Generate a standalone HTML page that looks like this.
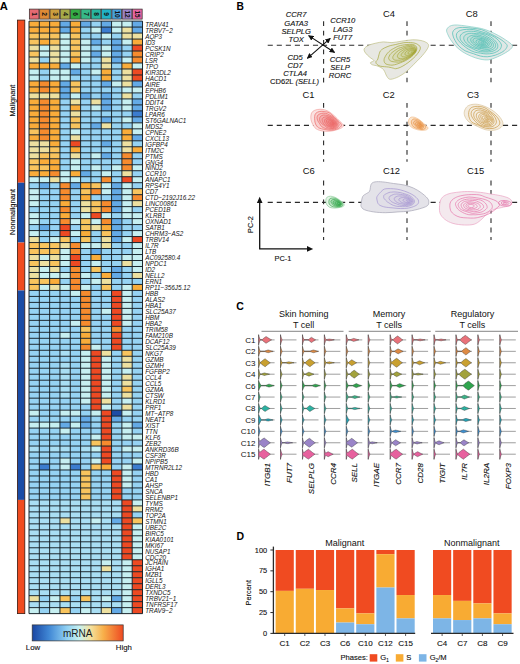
<!DOCTYPE html>
<html><head><meta charset="utf-8"><style>
html,body{margin:0;padding:0;background:#fff;}
svg{display:block;font-family:"Liberation Sans", sans-serif;}
text{stroke:#111;stroke-width:0.12px;}
</style></head><body>
<svg width="520" height="664" viewBox="0 0 520 664">
<rect width="520" height="664" fill="#fff"/>
<text transform="translate(-0.30,9.70)" font-size="11.2" font-weight="bold" text-anchor="start" fill="#000" style="stroke:none">A</text>
<rect x="29.35" y="9.1" width="9.62" height="10.0" fill="#e66a72" stroke="#3a3030" stroke-width="0.75"/>
<text transform="translate(31.96,14.10) rotate(90)" font-size="6.6" font-weight="bold" text-anchor="middle" fill="#111" style="stroke:none">1</text>
<rect x="39.67" y="9.1" width="9.62" height="10.0" fill="#df8a35" stroke="#3a3030" stroke-width="0.75"/>
<text transform="translate(42.28,14.10) rotate(90)" font-size="6.6" font-weight="bold" text-anchor="middle" fill="#111" style="stroke:none">2</text>
<rect x="49.99" y="9.1" width="9.62" height="10.0" fill="#cc9f3e" stroke="#3a3030" stroke-width="0.75"/>
<text transform="translate(52.60,14.10) rotate(90)" font-size="6.6" font-weight="bold" text-anchor="middle" fill="#111" style="stroke:none">3</text>
<rect x="60.31" y="9.1" width="9.62" height="10.0" fill="#a6aa48" stroke="#3a3030" stroke-width="0.75"/>
<text transform="translate(62.92,14.10) rotate(90)" font-size="6.6" font-weight="bold" text-anchor="middle" fill="#111" style="stroke:none">4</text>
<rect x="70.63" y="9.1" width="9.62" height="10.0" fill="#34ad45" stroke="#3a3030" stroke-width="0.75"/>
<text transform="translate(73.24,14.10) rotate(90)" font-size="6.6" font-weight="bold" text-anchor="middle" fill="#111" style="stroke:none">6</text>
<rect x="80.95" y="9.1" width="9.62" height="10.0" fill="#36b988" stroke="#3a3030" stroke-width="0.75"/>
<text transform="translate(83.56,14.10) rotate(90)" font-size="6.6" font-weight="bold" text-anchor="middle" fill="#111" style="stroke:none">7</text>
<rect x="91.27" y="9.1" width="9.62" height="10.0" fill="#27b5a0" stroke="#3a3030" stroke-width="0.75"/>
<text transform="translate(93.88,14.10) rotate(90)" font-size="6.6" font-weight="bold" text-anchor="middle" fill="#111" style="stroke:none">8</text>
<rect x="101.59" y="9.1" width="9.62" height="10.0" fill="#20b3c6" stroke="#3a3030" stroke-width="0.75"/>
<text transform="translate(104.20,14.10) rotate(90)" font-size="6.6" font-weight="bold" text-anchor="middle" fill="#111" style="stroke:none">9</text>
<rect x="111.91" y="9.1" width="9.62" height="10.0" fill="#46a0dc" stroke="#3a3030" stroke-width="0.75"/>
<text transform="translate(114.52,14.10) rotate(90)" font-size="6.6" font-weight="bold" text-anchor="middle" fill="#111" style="stroke:none">10</text>
<rect x="122.23" y="9.1" width="9.62" height="10.0" fill="#9a82c6" stroke="#3a3030" stroke-width="0.75"/>
<text transform="translate(124.84,14.10) rotate(90)" font-size="6.6" font-weight="bold" text-anchor="middle" fill="#111" style="stroke:none">12</text>
<rect x="132.55" y="9.1" width="9.62" height="10.0" fill="#e664a2" stroke="#3a3030" stroke-width="0.75"/>
<text transform="translate(135.16,14.10) rotate(90)" font-size="6.6" font-weight="bold" text-anchor="middle" fill="#111" style="stroke:none">15</text>
<rect x="29.00" y="21.10" width="10.32" height="5.985" fill="#f9ac3a"/>
<rect x="39.32" y="21.10" width="10.32" height="5.985" fill="#f9ac3a"/>
<rect x="49.64" y="21.10" width="10.32" height="5.985" fill="#f9ac3a"/>
<rect x="59.96" y="21.10" width="10.32" height="5.985" fill="#64aae6"/>
<rect x="70.28" y="21.10" width="10.32" height="5.985" fill="#f9ac3a"/>
<rect x="80.60" y="21.10" width="10.32" height="5.985" fill="#64aae6"/>
<rect x="90.92" y="21.10" width="10.32" height="5.985" fill="#96d3f3"/>
<rect x="101.24" y="21.10" width="10.32" height="5.985" fill="#64aae6"/>
<rect x="111.56" y="21.10" width="10.32" height="5.985" fill="#c6eff1"/>
<rect x="121.88" y="21.10" width="10.32" height="5.985" fill="#c6eff1"/>
<rect x="132.20" y="21.10" width="10.32" height="5.985" fill="#64aae6"/>
<rect x="29.00" y="27.09" width="10.32" height="5.985" fill="#f9ac3a"/>
<rect x="39.32" y="27.09" width="10.32" height="5.985" fill="#f9ac3a"/>
<rect x="49.64" y="27.09" width="10.32" height="5.985" fill="#f9ac3a"/>
<rect x="59.96" y="27.09" width="10.32" height="5.985" fill="#64aae6"/>
<rect x="70.28" y="27.09" width="10.32" height="5.985" fill="#f9ac3a"/>
<rect x="80.60" y="27.09" width="10.32" height="5.985" fill="#96d3f3"/>
<rect x="90.92" y="27.09" width="10.32" height="5.985" fill="#c6eff1"/>
<rect x="101.24" y="27.09" width="10.32" height="5.985" fill="#3b7ccf"/>
<rect x="111.56" y="27.09" width="10.32" height="5.985" fill="#c6eff1"/>
<rect x="121.88" y="27.09" width="10.32" height="5.985" fill="#ede0a0"/>
<rect x="132.20" y="27.09" width="10.32" height="5.985" fill="#64aae6"/>
<rect x="29.00" y="33.07" width="10.32" height="5.985" fill="#f8c45e"/>
<rect x="39.32" y="33.07" width="10.32" height="5.985" fill="#f8c45e"/>
<rect x="49.64" y="33.07" width="10.32" height="5.985" fill="#f8c45e"/>
<rect x="59.96" y="33.07" width="10.32" height="5.985" fill="#c6eff1"/>
<rect x="70.28" y="33.07" width="10.32" height="5.985" fill="#f8c45e"/>
<rect x="80.60" y="33.07" width="10.32" height="5.985" fill="#96d3f3"/>
<rect x="90.92" y="33.07" width="10.32" height="5.985" fill="#96d3f3"/>
<rect x="101.24" y="33.07" width="10.32" height="5.985" fill="#c6eff1"/>
<rect x="111.56" y="33.07" width="10.32" height="5.985" fill="#96d3f3"/>
<rect x="121.88" y="33.07" width="10.32" height="5.985" fill="#ede0a0"/>
<rect x="132.20" y="33.07" width="10.32" height="5.985" fill="#ede0a0"/>
<rect x="29.00" y="39.06" width="10.32" height="5.985" fill="#f8c45e"/>
<rect x="39.32" y="39.06" width="10.32" height="5.985" fill="#f9ac3a"/>
<rect x="49.64" y="39.06" width="10.32" height="5.985" fill="#f8c45e"/>
<rect x="59.96" y="39.06" width="10.32" height="5.985" fill="#c6eff1"/>
<rect x="70.28" y="39.06" width="10.32" height="5.985" fill="#f8c45e"/>
<rect x="80.60" y="39.06" width="10.32" height="5.985" fill="#c6eff1"/>
<rect x="90.92" y="39.06" width="10.32" height="5.985" fill="#64aae6"/>
<rect x="101.24" y="39.06" width="10.32" height="5.985" fill="#96d3f3"/>
<rect x="111.56" y="39.06" width="10.32" height="5.985" fill="#64aae6"/>
<rect x="121.88" y="39.06" width="10.32" height="5.985" fill="#c6eff1"/>
<rect x="132.20" y="39.06" width="10.32" height="5.985" fill="#f9ac3a"/>
<rect x="29.00" y="45.04" width="10.32" height="5.985" fill="#ede0a0"/>
<rect x="39.32" y="45.04" width="10.32" height="5.985" fill="#c6eff1"/>
<rect x="49.64" y="45.04" width="10.32" height="5.985" fill="#ede0a0"/>
<rect x="59.96" y="45.04" width="10.32" height="5.985" fill="#c6eff1"/>
<rect x="70.28" y="45.04" width="10.32" height="5.985" fill="#f8c45e"/>
<rect x="80.60" y="45.04" width="10.32" height="5.985" fill="#c6eff1"/>
<rect x="90.92" y="45.04" width="10.32" height="5.985" fill="#96d3f3"/>
<rect x="101.24" y="45.04" width="10.32" height="5.985" fill="#c6eff1"/>
<rect x="111.56" y="45.04" width="10.32" height="5.985" fill="#64aae6"/>
<rect x="121.88" y="45.04" width="10.32" height="5.985" fill="#96d3f3"/>
<rect x="132.20" y="45.04" width="10.32" height="5.985" fill="#ed4a23"/>
<rect x="29.00" y="51.03" width="10.32" height="5.985" fill="#f8c45e"/>
<rect x="39.32" y="51.03" width="10.32" height="5.985" fill="#c6eff1"/>
<rect x="49.64" y="51.03" width="10.32" height="5.985" fill="#ede0a0"/>
<rect x="59.96" y="51.03" width="10.32" height="5.985" fill="#c6eff1"/>
<rect x="70.28" y="51.03" width="10.32" height="5.985" fill="#f8c45e"/>
<rect x="80.60" y="51.03" width="10.32" height="5.985" fill="#c6eff1"/>
<rect x="90.92" y="51.03" width="10.32" height="5.985" fill="#64aae6"/>
<rect x="101.24" y="51.03" width="10.32" height="5.985" fill="#c6eff1"/>
<rect x="111.56" y="51.03" width="10.32" height="5.985" fill="#64aae6"/>
<rect x="121.88" y="51.03" width="10.32" height="5.985" fill="#96d3f3"/>
<rect x="132.20" y="51.03" width="10.32" height="5.985" fill="#f68b2e"/>
<rect x="29.00" y="57.01" width="10.32" height="5.985" fill="#ede0a0"/>
<rect x="39.32" y="57.01" width="10.32" height="5.985" fill="#96d3f3"/>
<rect x="49.64" y="57.01" width="10.32" height="5.985" fill="#ede0a0"/>
<rect x="59.96" y="57.01" width="10.32" height="5.985" fill="#c6eff1"/>
<rect x="70.28" y="57.01" width="10.32" height="5.985" fill="#f9ac3a"/>
<rect x="80.60" y="57.01" width="10.32" height="5.985" fill="#c6eff1"/>
<rect x="90.92" y="57.01" width="10.32" height="5.985" fill="#96d3f3"/>
<rect x="101.24" y="57.01" width="10.32" height="5.985" fill="#ede0a0"/>
<rect x="111.56" y="57.01" width="10.32" height="5.985" fill="#64aae6"/>
<rect x="121.88" y="57.01" width="10.32" height="5.985" fill="#c6eff1"/>
<rect x="132.20" y="57.01" width="10.32" height="5.985" fill="#f68b2e"/>
<rect x="29.00" y="63.00" width="10.32" height="5.985" fill="#f9ac3a"/>
<rect x="39.32" y="63.00" width="10.32" height="5.985" fill="#f9ac3a"/>
<rect x="49.64" y="63.00" width="10.32" height="5.985" fill="#f9ac3a"/>
<rect x="59.96" y="63.00" width="10.32" height="5.985" fill="#64aae6"/>
<rect x="70.28" y="63.00" width="10.32" height="5.985" fill="#c6eff1"/>
<rect x="80.60" y="63.00" width="10.32" height="5.985" fill="#96d3f3"/>
<rect x="90.92" y="63.00" width="10.32" height="5.985" fill="#96d3f3"/>
<rect x="101.24" y="63.00" width="10.32" height="5.985" fill="#ede0a0"/>
<rect x="111.56" y="63.00" width="10.32" height="5.985" fill="#96d3f3"/>
<rect x="121.88" y="63.00" width="10.32" height="5.985" fill="#f9ac3a"/>
<rect x="132.20" y="63.00" width="10.32" height="5.985" fill="#c6eff1"/>
<rect x="29.00" y="68.98" width="10.32" height="5.985" fill="#c6eff1"/>
<rect x="39.32" y="68.98" width="10.32" height="5.985" fill="#96d3f3"/>
<rect x="49.64" y="68.98" width="10.32" height="5.985" fill="#c6eff1"/>
<rect x="59.96" y="68.98" width="10.32" height="5.985" fill="#c6eff1"/>
<rect x="70.28" y="68.98" width="10.32" height="5.985" fill="#64aae6"/>
<rect x="80.60" y="68.98" width="10.32" height="5.985" fill="#96d3f3"/>
<rect x="90.92" y="68.98" width="10.32" height="5.985" fill="#c6eff1"/>
<rect x="101.24" y="68.98" width="10.32" height="5.985" fill="#f9ac3a"/>
<rect x="111.56" y="68.98" width="10.32" height="5.985" fill="#96d3f3"/>
<rect x="121.88" y="68.98" width="10.32" height="5.985" fill="#ede0a0"/>
<rect x="132.20" y="68.98" width="10.32" height="5.985" fill="#ed4a23"/>
<rect x="29.00" y="74.97" width="10.32" height="5.985" fill="#c6eff1"/>
<rect x="39.32" y="74.97" width="10.32" height="5.985" fill="#96d3f3"/>
<rect x="49.64" y="74.97" width="10.32" height="5.985" fill="#c6eff1"/>
<rect x="59.96" y="74.97" width="10.32" height="5.985" fill="#c6eff1"/>
<rect x="70.28" y="74.97" width="10.32" height="5.985" fill="#96d3f3"/>
<rect x="80.60" y="74.97" width="10.32" height="5.985" fill="#96d3f3"/>
<rect x="90.92" y="74.97" width="10.32" height="5.985" fill="#96d3f3"/>
<rect x="101.24" y="74.97" width="10.32" height="5.985" fill="#f9ac3a"/>
<rect x="111.56" y="74.97" width="10.32" height="5.985" fill="#96d3f3"/>
<rect x="121.88" y="74.97" width="10.32" height="5.985" fill="#ede0a0"/>
<rect x="132.20" y="74.97" width="10.32" height="5.985" fill="#ed4a23"/>
<rect x="29.00" y="80.95" width="10.32" height="5.985" fill="#f9ac3a"/>
<rect x="39.32" y="80.95" width="10.32" height="5.985" fill="#f68b2e"/>
<rect x="49.64" y="80.95" width="10.32" height="5.985" fill="#f9ac3a"/>
<rect x="59.96" y="80.95" width="10.32" height="5.985" fill="#64aae6"/>
<rect x="70.28" y="80.95" width="10.32" height="5.985" fill="#f8c45e"/>
<rect x="80.60" y="80.95" width="10.32" height="5.985" fill="#96d3f3"/>
<rect x="90.92" y="80.95" width="10.32" height="5.985" fill="#96d3f3"/>
<rect x="101.24" y="80.95" width="10.32" height="5.985" fill="#64aae6"/>
<rect x="111.56" y="80.95" width="10.32" height="5.985" fill="#c6eff1"/>
<rect x="121.88" y="80.95" width="10.32" height="5.985" fill="#ede0a0"/>
<rect x="132.20" y="80.95" width="10.32" height="5.985" fill="#64aae6"/>
<rect x="29.00" y="86.94" width="10.32" height="5.985" fill="#f9ac3a"/>
<rect x="39.32" y="86.94" width="10.32" height="5.985" fill="#f68b2e"/>
<rect x="49.64" y="86.94" width="10.32" height="5.985" fill="#f9ac3a"/>
<rect x="59.96" y="86.94" width="10.32" height="5.985" fill="#64aae6"/>
<rect x="70.28" y="86.94" width="10.32" height="5.985" fill="#f8c45e"/>
<rect x="80.60" y="86.94" width="10.32" height="5.985" fill="#96d3f3"/>
<rect x="90.92" y="86.94" width="10.32" height="5.985" fill="#96d3f3"/>
<rect x="101.24" y="86.94" width="10.32" height="5.985" fill="#96d3f3"/>
<rect x="111.56" y="86.94" width="10.32" height="5.985" fill="#96d3f3"/>
<rect x="121.88" y="86.94" width="10.32" height="5.985" fill="#c6eff1"/>
<rect x="132.20" y="86.94" width="10.32" height="5.985" fill="#c6eff1"/>
<rect x="29.00" y="92.92" width="10.32" height="5.985" fill="#ede0a0"/>
<rect x="39.32" y="92.92" width="10.32" height="5.985" fill="#ede0a0"/>
<rect x="49.64" y="92.92" width="10.32" height="5.985" fill="#ede0a0"/>
<rect x="59.96" y="92.92" width="10.32" height="5.985" fill="#64aae6"/>
<rect x="70.28" y="92.92" width="10.32" height="5.985" fill="#c6eff1"/>
<rect x="80.60" y="92.92" width="10.32" height="5.985" fill="#64aae6"/>
<rect x="90.92" y="92.92" width="10.32" height="5.985" fill="#96d3f3"/>
<rect x="101.24" y="92.92" width="10.32" height="5.985" fill="#64aae6"/>
<rect x="111.56" y="92.92" width="10.32" height="5.985" fill="#96d3f3"/>
<rect x="121.88" y="92.92" width="10.32" height="5.985" fill="#ede0a0"/>
<rect x="132.20" y="92.92" width="10.32" height="5.985" fill="#96d3f3"/>
<rect x="29.00" y="98.91" width="10.32" height="5.985" fill="#f9ac3a"/>
<rect x="39.32" y="98.91" width="10.32" height="5.985" fill="#f68b2e"/>
<rect x="49.64" y="98.91" width="10.32" height="5.985" fill="#f9ac3a"/>
<rect x="59.96" y="98.91" width="10.32" height="5.985" fill="#96d3f3"/>
<rect x="70.28" y="98.91" width="10.32" height="5.985" fill="#ede0a0"/>
<rect x="80.60" y="98.91" width="10.32" height="5.985" fill="#96d3f3"/>
<rect x="90.92" y="98.91" width="10.32" height="5.985" fill="#ede0a0"/>
<rect x="101.24" y="98.91" width="10.32" height="5.985" fill="#64aae6"/>
<rect x="111.56" y="98.91" width="10.32" height="5.985" fill="#96d3f3"/>
<rect x="121.88" y="98.91" width="10.32" height="5.985" fill="#c6eff1"/>
<rect x="132.20" y="98.91" width="10.32" height="5.985" fill="#64aae6"/>
<rect x="29.00" y="104.89" width="10.32" height="5.985" fill="#f9ac3a"/>
<rect x="39.32" y="104.89" width="10.32" height="5.985" fill="#f68b2e"/>
<rect x="49.64" y="104.89" width="10.32" height="5.985" fill="#f9ac3a"/>
<rect x="59.96" y="104.89" width="10.32" height="5.985" fill="#96d3f3"/>
<rect x="70.28" y="104.89" width="10.32" height="5.985" fill="#f9ac3a"/>
<rect x="80.60" y="104.89" width="10.32" height="5.985" fill="#96d3f3"/>
<rect x="90.92" y="104.89" width="10.32" height="5.985" fill="#c6eff1"/>
<rect x="101.24" y="104.89" width="10.32" height="5.985" fill="#64aae6"/>
<rect x="111.56" y="104.89" width="10.32" height="5.985" fill="#96d3f3"/>
<rect x="121.88" y="104.89" width="10.32" height="5.985" fill="#c6eff1"/>
<rect x="132.20" y="104.89" width="10.32" height="5.985" fill="#64aae6"/>
<rect x="29.00" y="110.88" width="10.32" height="5.985" fill="#f9ac3a"/>
<rect x="39.32" y="110.88" width="10.32" height="5.985" fill="#f68b2e"/>
<rect x="49.64" y="110.88" width="10.32" height="5.985" fill="#f9ac3a"/>
<rect x="59.96" y="110.88" width="10.32" height="5.985" fill="#96d3f3"/>
<rect x="70.28" y="110.88" width="10.32" height="5.985" fill="#ede0a0"/>
<rect x="80.60" y="110.88" width="10.32" height="5.985" fill="#96d3f3"/>
<rect x="90.92" y="110.88" width="10.32" height="5.985" fill="#96d3f3"/>
<rect x="101.24" y="110.88" width="10.32" height="5.985" fill="#96d3f3"/>
<rect x="111.56" y="110.88" width="10.32" height="5.985" fill="#96d3f3"/>
<rect x="121.88" y="110.88" width="10.32" height="5.985" fill="#96d3f3"/>
<rect x="132.20" y="110.88" width="10.32" height="5.985" fill="#3b7ccf"/>
<rect x="29.00" y="116.86" width="10.32" height="5.985" fill="#f9ac3a"/>
<rect x="39.32" y="116.86" width="10.32" height="5.985" fill="#f68b2e"/>
<rect x="49.64" y="116.86" width="10.32" height="5.985" fill="#f9ac3a"/>
<rect x="59.96" y="116.86" width="10.32" height="5.985" fill="#96d3f3"/>
<rect x="70.28" y="116.86" width="10.32" height="5.985" fill="#f8c45e"/>
<rect x="80.60" y="116.86" width="10.32" height="5.985" fill="#96d3f3"/>
<rect x="90.92" y="116.86" width="10.32" height="5.985" fill="#96d3f3"/>
<rect x="101.24" y="116.86" width="10.32" height="5.985" fill="#64aae6"/>
<rect x="111.56" y="116.86" width="10.32" height="5.985" fill="#96d3f3"/>
<rect x="121.88" y="116.86" width="10.32" height="5.985" fill="#c6eff1"/>
<rect x="132.20" y="116.86" width="10.32" height="5.985" fill="#64aae6"/>
<rect x="29.00" y="122.84" width="10.32" height="5.985" fill="#f9ac3a"/>
<rect x="39.32" y="122.84" width="10.32" height="5.985" fill="#f68b2e"/>
<rect x="49.64" y="122.84" width="10.32" height="5.985" fill="#f9ac3a"/>
<rect x="59.96" y="122.84" width="10.32" height="5.985" fill="#96d3f3"/>
<rect x="70.28" y="122.84" width="10.32" height="5.985" fill="#f8c45e"/>
<rect x="80.60" y="122.84" width="10.32" height="5.985" fill="#96d3f3"/>
<rect x="90.92" y="122.84" width="10.32" height="5.985" fill="#64aae6"/>
<rect x="101.24" y="122.84" width="10.32" height="5.985" fill="#ede0a0"/>
<rect x="111.56" y="122.84" width="10.32" height="5.985" fill="#96d3f3"/>
<rect x="121.88" y="122.84" width="10.32" height="5.985" fill="#96d3f3"/>
<rect x="132.20" y="122.84" width="10.32" height="5.985" fill="#c6eff1"/>
<rect x="29.00" y="128.83" width="10.32" height="5.985" fill="#f8c45e"/>
<rect x="39.32" y="128.83" width="10.32" height="5.985" fill="#f68b2e"/>
<rect x="49.64" y="128.83" width="10.32" height="5.985" fill="#f9ac3a"/>
<rect x="59.96" y="128.83" width="10.32" height="5.985" fill="#96d3f3"/>
<rect x="70.28" y="128.83" width="10.32" height="5.985" fill="#c6eff1"/>
<rect x="80.60" y="128.83" width="10.32" height="5.985" fill="#96d3f3"/>
<rect x="90.92" y="128.83" width="10.32" height="5.985" fill="#96d3f3"/>
<rect x="101.24" y="128.83" width="10.32" height="5.985" fill="#96d3f3"/>
<rect x="111.56" y="128.83" width="10.32" height="5.985" fill="#96d3f3"/>
<rect x="121.88" y="128.83" width="10.32" height="5.985" fill="#f9ac3a"/>
<rect x="132.20" y="128.83" width="10.32" height="5.985" fill="#c6eff1"/>
<rect x="29.00" y="134.81" width="10.32" height="5.985" fill="#f9ac3a"/>
<rect x="39.32" y="134.81" width="10.32" height="5.985" fill="#f68b2e"/>
<rect x="49.64" y="134.81" width="10.32" height="5.985" fill="#f9ac3a"/>
<rect x="59.96" y="134.81" width="10.32" height="5.985" fill="#96d3f3"/>
<rect x="70.28" y="134.81" width="10.32" height="5.985" fill="#ede0a0"/>
<rect x="80.60" y="134.81" width="10.32" height="5.985" fill="#96d3f3"/>
<rect x="90.92" y="134.81" width="10.32" height="5.985" fill="#96d3f3"/>
<rect x="101.24" y="134.81" width="10.32" height="5.985" fill="#96d3f3"/>
<rect x="111.56" y="134.81" width="10.32" height="5.985" fill="#96d3f3"/>
<rect x="121.88" y="134.81" width="10.32" height="5.985" fill="#f9ac3a"/>
<rect x="132.20" y="134.81" width="10.32" height="5.985" fill="#64aae6"/>
<rect x="29.00" y="140.80" width="10.32" height="5.985" fill="#ede0a0"/>
<rect x="39.32" y="140.80" width="10.32" height="5.985" fill="#ede0a0"/>
<rect x="49.64" y="140.80" width="10.32" height="5.985" fill="#f9ac3a"/>
<rect x="59.96" y="140.80" width="10.32" height="5.985" fill="#96d3f3"/>
<rect x="70.28" y="140.80" width="10.32" height="5.985" fill="#ed4a23"/>
<rect x="80.60" y="140.80" width="10.32" height="5.985" fill="#96d3f3"/>
<rect x="90.92" y="140.80" width="10.32" height="5.985" fill="#96d3f3"/>
<rect x="101.24" y="140.80" width="10.32" height="5.985" fill="#64aae6"/>
<rect x="111.56" y="140.80" width="10.32" height="5.985" fill="#96d3f3"/>
<rect x="121.88" y="140.80" width="10.32" height="5.985" fill="#ede0a0"/>
<rect x="132.20" y="140.80" width="10.32" height="5.985" fill="#96d3f3"/>
<rect x="29.00" y="146.78" width="10.32" height="5.985" fill="#ede0a0"/>
<rect x="39.32" y="146.78" width="10.32" height="5.985" fill="#ede0a0"/>
<rect x="49.64" y="146.78" width="10.32" height="5.985" fill="#f8c45e"/>
<rect x="59.96" y="146.78" width="10.32" height="5.985" fill="#96d3f3"/>
<rect x="70.28" y="146.78" width="10.32" height="5.985" fill="#f9ac3a"/>
<rect x="80.60" y="146.78" width="10.32" height="5.985" fill="#96d3f3"/>
<rect x="90.92" y="146.78" width="10.32" height="5.985" fill="#96d3f3"/>
<rect x="101.24" y="146.78" width="10.32" height="5.985" fill="#96d3f3"/>
<rect x="111.56" y="146.78" width="10.32" height="5.985" fill="#96d3f3"/>
<rect x="121.88" y="146.78" width="10.32" height="5.985" fill="#ede0a0"/>
<rect x="132.20" y="146.78" width="10.32" height="5.985" fill="#f9ac3a"/>
<rect x="29.00" y="152.77" width="10.32" height="5.985" fill="#ede0a0"/>
<rect x="39.32" y="152.77" width="10.32" height="5.985" fill="#f8c45e"/>
<rect x="49.64" y="152.77" width="10.32" height="5.985" fill="#f8c45e"/>
<rect x="59.96" y="152.77" width="10.32" height="5.985" fill="#96d3f3"/>
<rect x="70.28" y="152.77" width="10.32" height="5.985" fill="#ede0a0"/>
<rect x="80.60" y="152.77" width="10.32" height="5.985" fill="#96d3f3"/>
<rect x="90.92" y="152.77" width="10.32" height="5.985" fill="#c6eff1"/>
<rect x="101.24" y="152.77" width="10.32" height="5.985" fill="#64aae6"/>
<rect x="111.56" y="152.77" width="10.32" height="5.985" fill="#96d3f3"/>
<rect x="121.88" y="152.77" width="10.32" height="5.985" fill="#f68b2e"/>
<rect x="132.20" y="152.77" width="10.32" height="5.985" fill="#96d3f3"/>
<rect x="29.00" y="158.75" width="10.32" height="5.985" fill="#f8c45e"/>
<rect x="39.32" y="158.75" width="10.32" height="5.985" fill="#f9ac3a"/>
<rect x="49.64" y="158.75" width="10.32" height="5.985" fill="#f9ac3a"/>
<rect x="59.96" y="158.75" width="10.32" height="5.985" fill="#96d3f3"/>
<rect x="70.28" y="158.75" width="10.32" height="5.985" fill="#c6eff1"/>
<rect x="80.60" y="158.75" width="10.32" height="5.985" fill="#96d3f3"/>
<rect x="90.92" y="158.75" width="10.32" height="5.985" fill="#96d3f3"/>
<rect x="101.24" y="158.75" width="10.32" height="5.985" fill="#96d3f3"/>
<rect x="111.56" y="158.75" width="10.32" height="5.985" fill="#96d3f3"/>
<rect x="121.88" y="158.75" width="10.32" height="5.985" fill="#f68b2e"/>
<rect x="132.20" y="158.75" width="10.32" height="5.985" fill="#96d3f3"/>
<rect x="29.00" y="164.74" width="10.32" height="5.985" fill="#f8c45e"/>
<rect x="39.32" y="164.74" width="10.32" height="5.985" fill="#f8c45e"/>
<rect x="49.64" y="164.74" width="10.32" height="5.985" fill="#f9ac3a"/>
<rect x="59.96" y="164.74" width="10.32" height="5.985" fill="#96d3f3"/>
<rect x="70.28" y="164.74" width="10.32" height="5.985" fill="#c6eff1"/>
<rect x="80.60" y="164.74" width="10.32" height="5.985" fill="#96d3f3"/>
<rect x="90.92" y="164.74" width="10.32" height="5.985" fill="#c6eff1"/>
<rect x="101.24" y="164.74" width="10.32" height="5.985" fill="#96d3f3"/>
<rect x="111.56" y="164.74" width="10.32" height="5.985" fill="#c6eff1"/>
<rect x="121.88" y="164.74" width="10.32" height="5.985" fill="#f68b2e"/>
<rect x="132.20" y="164.74" width="10.32" height="5.985" fill="#c6eff1"/>
<rect x="29.00" y="170.72" width="10.32" height="5.985" fill="#f9ac3a"/>
<rect x="39.32" y="170.72" width="10.32" height="5.985" fill="#f9ac3a"/>
<rect x="49.64" y="170.72" width="10.32" height="5.985" fill="#f68b2e"/>
<rect x="59.96" y="170.72" width="10.32" height="5.985" fill="#c6eff1"/>
<rect x="70.28" y="170.72" width="10.32" height="5.985" fill="#f9ac3a"/>
<rect x="80.60" y="170.72" width="10.32" height="5.985" fill="#64aae6"/>
<rect x="90.92" y="170.72" width="10.32" height="5.985" fill="#96d3f3"/>
<rect x="101.24" y="170.72" width="10.32" height="5.985" fill="#c6eff1"/>
<rect x="111.56" y="170.72" width="10.32" height="5.985" fill="#96d3f3"/>
<rect x="121.88" y="170.72" width="10.32" height="5.985" fill="#ede0a0"/>
<rect x="132.20" y="170.72" width="10.32" height="5.985" fill="#96d3f3"/>
<rect x="29.00" y="176.71" width="10.32" height="5.985" fill="#c6eff1"/>
<rect x="39.32" y="176.71" width="10.32" height="5.985" fill="#c6eff1"/>
<rect x="49.64" y="176.71" width="10.32" height="5.985" fill="#ede0a0"/>
<rect x="59.96" y="176.71" width="10.32" height="5.985" fill="#c6eff1"/>
<rect x="70.28" y="176.71" width="10.32" height="5.985" fill="#c6eff1"/>
<rect x="80.60" y="176.71" width="10.32" height="5.985" fill="#96d3f3"/>
<rect x="90.92" y="176.71" width="10.32" height="5.985" fill="#96d3f3"/>
<rect x="101.24" y="176.71" width="10.32" height="5.985" fill="#f68b2e"/>
<rect x="111.56" y="176.71" width="10.32" height="5.985" fill="#96d3f3"/>
<rect x="121.88" y="176.71" width="10.32" height="5.985" fill="#ed4a23"/>
<rect x="132.20" y="176.71" width="10.32" height="5.985" fill="#c6eff1"/>
<rect x="29.00" y="182.69" width="10.32" height="5.985" fill="#96d3f3"/>
<rect x="39.32" y="182.69" width="10.32" height="5.985" fill="#64aae6"/>
<rect x="49.64" y="182.69" width="10.32" height="5.985" fill="#96d3f3"/>
<rect x="59.96" y="182.69" width="10.32" height="5.985" fill="#f68b2e"/>
<rect x="70.28" y="182.69" width="10.32" height="5.985" fill="#64aae6"/>
<rect x="80.60" y="182.69" width="10.32" height="5.985" fill="#f9ac3a"/>
<rect x="90.92" y="182.69" width="10.32" height="5.985" fill="#f8c45e"/>
<rect x="101.24" y="182.69" width="10.32" height="5.985" fill="#c6eff1"/>
<rect x="111.56" y="182.69" width="10.32" height="5.985" fill="#64aae6"/>
<rect x="121.88" y="182.69" width="10.32" height="5.985" fill="#c6eff1"/>
<rect x="132.20" y="182.69" width="10.32" height="5.985" fill="#96d3f3"/>
<rect x="29.00" y="188.68" width="10.32" height="5.985" fill="#c6eff1"/>
<rect x="39.32" y="188.68" width="10.32" height="5.985" fill="#96d3f3"/>
<rect x="49.64" y="188.68" width="10.32" height="5.985" fill="#96d3f3"/>
<rect x="59.96" y="188.68" width="10.32" height="5.985" fill="#f68b2e"/>
<rect x="70.28" y="188.68" width="10.32" height="5.985" fill="#96d3f3"/>
<rect x="80.60" y="188.68" width="10.32" height="5.985" fill="#f8c45e"/>
<rect x="90.92" y="188.68" width="10.32" height="5.985" fill="#f68b2e"/>
<rect x="101.24" y="188.68" width="10.32" height="5.985" fill="#c6eff1"/>
<rect x="111.56" y="188.68" width="10.32" height="5.985" fill="#64aae6"/>
<rect x="121.88" y="188.68" width="10.32" height="5.985" fill="#c6eff1"/>
<rect x="132.20" y="188.68" width="10.32" height="5.985" fill="#f8c45e"/>
<rect x="29.00" y="194.66" width="10.32" height="5.985" fill="#c6eff1"/>
<rect x="39.32" y="194.66" width="10.32" height="5.985" fill="#96d3f3"/>
<rect x="49.64" y="194.66" width="10.32" height="5.985" fill="#96d3f3"/>
<rect x="59.96" y="194.66" width="10.32" height="5.985" fill="#f68b2e"/>
<rect x="70.28" y="194.66" width="10.32" height="5.985" fill="#96d3f3"/>
<rect x="80.60" y="194.66" width="10.32" height="5.985" fill="#f9ac3a"/>
<rect x="90.92" y="194.66" width="10.32" height="5.985" fill="#96d3f3"/>
<rect x="101.24" y="194.66" width="10.32" height="5.985" fill="#96d3f3"/>
<rect x="111.56" y="194.66" width="10.32" height="5.985" fill="#64aae6"/>
<rect x="121.88" y="194.66" width="10.32" height="5.985" fill="#c6eff1"/>
<rect x="132.20" y="194.66" width="10.32" height="5.985" fill="#f68b2e"/>
<rect x="29.00" y="200.65" width="10.32" height="5.985" fill="#c6eff1"/>
<rect x="39.32" y="200.65" width="10.32" height="5.985" fill="#96d3f3"/>
<rect x="49.64" y="200.65" width="10.32" height="5.985" fill="#96d3f3"/>
<rect x="59.96" y="200.65" width="10.32" height="5.985" fill="#f9ac3a"/>
<rect x="70.28" y="200.65" width="10.32" height="5.985" fill="#96d3f3"/>
<rect x="80.60" y="200.65" width="10.32" height="5.985" fill="#ede0a0"/>
<rect x="90.92" y="200.65" width="10.32" height="5.985" fill="#f8c45e"/>
<rect x="101.24" y="200.65" width="10.32" height="5.985" fill="#f68b2e"/>
<rect x="111.56" y="200.65" width="10.32" height="5.985" fill="#64aae6"/>
<rect x="121.88" y="200.65" width="10.32" height="5.985" fill="#c6eff1"/>
<rect x="132.20" y="200.65" width="10.32" height="5.985" fill="#ede0a0"/>
<rect x="29.00" y="206.63" width="10.32" height="5.985" fill="#96d3f3"/>
<rect x="39.32" y="206.63" width="10.32" height="5.985" fill="#96d3f3"/>
<rect x="49.64" y="206.63" width="10.32" height="5.985" fill="#96d3f3"/>
<rect x="59.96" y="206.63" width="10.32" height="5.985" fill="#f68b2e"/>
<rect x="70.28" y="206.63" width="10.32" height="5.985" fill="#96d3f3"/>
<rect x="80.60" y="206.63" width="10.32" height="5.985" fill="#ede0a0"/>
<rect x="90.92" y="206.63" width="10.32" height="5.985" fill="#f8c45e"/>
<rect x="101.24" y="206.63" width="10.32" height="5.985" fill="#f68b2e"/>
<rect x="111.56" y="206.63" width="10.32" height="5.985" fill="#64aae6"/>
<rect x="121.88" y="206.63" width="10.32" height="5.985" fill="#c6eff1"/>
<rect x="132.20" y="206.63" width="10.32" height="5.985" fill="#96d3f3"/>
<rect x="29.00" y="212.62" width="10.32" height="5.985" fill="#c6eff1"/>
<rect x="39.32" y="212.62" width="10.32" height="5.985" fill="#96d3f3"/>
<rect x="49.64" y="212.62" width="10.32" height="5.985" fill="#96d3f3"/>
<rect x="59.96" y="212.62" width="10.32" height="5.985" fill="#f9ac3a"/>
<rect x="70.28" y="212.62" width="10.32" height="5.985" fill="#96d3f3"/>
<rect x="80.60" y="212.62" width="10.32" height="5.985" fill="#c6eff1"/>
<rect x="90.92" y="212.62" width="10.32" height="5.985" fill="#ed4a23"/>
<rect x="101.24" y="212.62" width="10.32" height="5.985" fill="#c6eff1"/>
<rect x="111.56" y="212.62" width="10.32" height="5.985" fill="#96d3f3"/>
<rect x="121.88" y="212.62" width="10.32" height="5.985" fill="#c6eff1"/>
<rect x="132.20" y="212.62" width="10.32" height="5.985" fill="#c6eff1"/>
<rect x="29.00" y="218.61" width="10.32" height="5.985" fill="#c6eff1"/>
<rect x="39.32" y="218.61" width="10.32" height="5.985" fill="#96d3f3"/>
<rect x="49.64" y="218.61" width="10.32" height="5.985" fill="#96d3f3"/>
<rect x="59.96" y="218.61" width="10.32" height="5.985" fill="#f68b2e"/>
<rect x="70.28" y="218.61" width="10.32" height="5.985" fill="#c6eff1"/>
<rect x="80.60" y="218.61" width="10.32" height="5.985" fill="#f8c45e"/>
<rect x="90.92" y="218.61" width="10.32" height="5.985" fill="#c6eff1"/>
<rect x="101.24" y="218.61" width="10.32" height="5.985" fill="#f68b2e"/>
<rect x="111.56" y="218.61" width="10.32" height="5.985" fill="#64aae6"/>
<rect x="121.88" y="218.61" width="10.32" height="5.985" fill="#96d3f3"/>
<rect x="132.20" y="218.61" width="10.32" height="5.985" fill="#c6eff1"/>
<rect x="29.00" y="224.59" width="10.32" height="5.985" fill="#96d3f3"/>
<rect x="39.32" y="224.59" width="10.32" height="5.985" fill="#64aae6"/>
<rect x="49.64" y="224.59" width="10.32" height="5.985" fill="#96d3f3"/>
<rect x="59.96" y="224.59" width="10.32" height="5.985" fill="#ed4a23"/>
<rect x="70.28" y="224.59" width="10.32" height="5.985" fill="#96d3f3"/>
<rect x="80.60" y="224.59" width="10.32" height="5.985" fill="#f8c45e"/>
<rect x="90.92" y="224.59" width="10.32" height="5.985" fill="#ede0a0"/>
<rect x="101.24" y="224.59" width="10.32" height="5.985" fill="#f9ac3a"/>
<rect x="111.56" y="224.59" width="10.32" height="5.985" fill="#64aae6"/>
<rect x="121.88" y="224.59" width="10.32" height="5.985" fill="#96d3f3"/>
<rect x="132.20" y="224.59" width="10.32" height="5.985" fill="#96d3f3"/>
<rect x="29.00" y="230.58" width="10.32" height="5.985" fill="#c6eff1"/>
<rect x="39.32" y="230.58" width="10.32" height="5.985" fill="#96d3f3"/>
<rect x="49.64" y="230.58" width="10.32" height="5.985" fill="#96d3f3"/>
<rect x="59.96" y="230.58" width="10.32" height="5.985" fill="#ed4a23"/>
<rect x="70.28" y="230.58" width="10.32" height="5.985" fill="#c6eff1"/>
<rect x="80.60" y="230.58" width="10.32" height="5.985" fill="#f9ac3a"/>
<rect x="90.92" y="230.58" width="10.32" height="5.985" fill="#96d3f3"/>
<rect x="101.24" y="230.58" width="10.32" height="5.985" fill="#f8c45e"/>
<rect x="111.56" y="230.58" width="10.32" height="5.985" fill="#64aae6"/>
<rect x="121.88" y="230.58" width="10.32" height="5.985" fill="#96d3f3"/>
<rect x="132.20" y="230.58" width="10.32" height="5.985" fill="#c6eff1"/>
<rect x="29.00" y="236.56" width="10.32" height="5.985" fill="#ede0a0"/>
<rect x="39.32" y="236.56" width="10.32" height="5.985" fill="#96d3f3"/>
<rect x="49.64" y="236.56" width="10.32" height="5.985" fill="#c6eff1"/>
<rect x="59.96" y="236.56" width="10.32" height="5.985" fill="#f8c45e"/>
<rect x="70.28" y="236.56" width="10.32" height="5.985" fill="#96d3f3"/>
<rect x="80.60" y="236.56" width="10.32" height="5.985" fill="#f8c45e"/>
<rect x="90.92" y="236.56" width="10.32" height="5.985" fill="#96d3f3"/>
<rect x="101.24" y="236.56" width="10.32" height="5.985" fill="#ede0a0"/>
<rect x="111.56" y="236.56" width="10.32" height="5.985" fill="#64aae6"/>
<rect x="121.88" y="236.56" width="10.32" height="5.985" fill="#c6eff1"/>
<rect x="132.20" y="236.56" width="10.32" height="5.985" fill="#ed4a23"/>
<rect x="29.00" y="242.55" width="10.32" height="5.985" fill="#f8c45e"/>
<rect x="39.32" y="242.55" width="10.32" height="5.985" fill="#f8c45e"/>
<rect x="49.64" y="242.55" width="10.32" height="5.985" fill="#f8c45e"/>
<rect x="59.96" y="242.55" width="10.32" height="5.985" fill="#ede0a0"/>
<rect x="70.28" y="242.55" width="10.32" height="5.985" fill="#f68b2e"/>
<rect x="80.60" y="242.55" width="10.32" height="5.985" fill="#c6eff1"/>
<rect x="90.92" y="242.55" width="10.32" height="5.985" fill="#c6eff1"/>
<rect x="101.24" y="242.55" width="10.32" height="5.985" fill="#ede0a0"/>
<rect x="111.56" y="242.55" width="10.32" height="5.985" fill="#96d3f3"/>
<rect x="121.88" y="242.55" width="10.32" height="5.985" fill="#96d3f3"/>
<rect x="132.20" y="242.55" width="10.32" height="5.985" fill="#c6eff1"/>
<rect x="29.00" y="248.53" width="10.32" height="5.985" fill="#f8c45e"/>
<rect x="39.32" y="248.53" width="10.32" height="5.985" fill="#f8c45e"/>
<rect x="49.64" y="248.53" width="10.32" height="5.985" fill="#f8c45e"/>
<rect x="59.96" y="248.53" width="10.32" height="5.985" fill="#c6eff1"/>
<rect x="70.28" y="248.53" width="10.32" height="5.985" fill="#f68b2e"/>
<rect x="80.60" y="248.53" width="10.32" height="5.985" fill="#96d3f3"/>
<rect x="90.92" y="248.53" width="10.32" height="5.985" fill="#64aae6"/>
<rect x="101.24" y="248.53" width="10.32" height="5.985" fill="#96d3f3"/>
<rect x="111.56" y="248.53" width="10.32" height="5.985" fill="#96d3f3"/>
<rect x="121.88" y="248.53" width="10.32" height="5.985" fill="#96d3f3"/>
<rect x="132.20" y="248.53" width="10.32" height="5.985" fill="#c6eff1"/>
<rect x="29.00" y="254.52" width="10.32" height="5.985" fill="#ede0a0"/>
<rect x="39.32" y="254.52" width="10.32" height="5.985" fill="#c6eff1"/>
<rect x="49.64" y="254.52" width="10.32" height="5.985" fill="#ede0a0"/>
<rect x="59.96" y="254.52" width="10.32" height="5.985" fill="#c6eff1"/>
<rect x="70.28" y="254.52" width="10.32" height="5.985" fill="#ed4a23"/>
<rect x="80.60" y="254.52" width="10.32" height="5.985" fill="#96d3f3"/>
<rect x="90.92" y="254.52" width="10.32" height="5.985" fill="#f9ac3a"/>
<rect x="101.24" y="254.52" width="10.32" height="5.985" fill="#96d3f3"/>
<rect x="111.56" y="254.52" width="10.32" height="5.985" fill="#96d3f3"/>
<rect x="121.88" y="254.52" width="10.32" height="5.985" fill="#c6eff1"/>
<rect x="132.20" y="254.52" width="10.32" height="5.985" fill="#c6eff1"/>
<rect x="29.00" y="260.50" width="10.32" height="5.985" fill="#f8c45e"/>
<rect x="39.32" y="260.50" width="10.32" height="5.985" fill="#ede0a0"/>
<rect x="49.64" y="260.50" width="10.32" height="5.985" fill="#f8c45e"/>
<rect x="59.96" y="260.50" width="10.32" height="5.985" fill="#c6eff1"/>
<rect x="70.28" y="260.50" width="10.32" height="5.985" fill="#ed4a23"/>
<rect x="80.60" y="260.50" width="10.32" height="5.985" fill="#96d3f3"/>
<rect x="90.92" y="260.50" width="10.32" height="5.985" fill="#c6eff1"/>
<rect x="101.24" y="260.50" width="10.32" height="5.985" fill="#96d3f3"/>
<rect x="111.56" y="260.50" width="10.32" height="5.985" fill="#96d3f3"/>
<rect x="121.88" y="260.50" width="10.32" height="5.985" fill="#ede0a0"/>
<rect x="132.20" y="260.50" width="10.32" height="5.985" fill="#c6eff1"/>
<rect x="29.00" y="266.49" width="10.32" height="5.985" fill="#ede0a0"/>
<rect x="39.32" y="266.49" width="10.32" height="5.985" fill="#c6eff1"/>
<rect x="49.64" y="266.49" width="10.32" height="5.985" fill="#ede0a0"/>
<rect x="59.96" y="266.49" width="10.32" height="5.985" fill="#96d3f3"/>
<rect x="70.28" y="266.49" width="10.32" height="5.985" fill="#f68b2e"/>
<rect x="80.60" y="266.49" width="10.32" height="5.985" fill="#96d3f3"/>
<rect x="90.92" y="266.49" width="10.32" height="5.985" fill="#f8c45e"/>
<rect x="101.24" y="266.49" width="10.32" height="5.985" fill="#96d3f3"/>
<rect x="111.56" y="266.49" width="10.32" height="5.985" fill="#64aae6"/>
<rect x="121.88" y="266.49" width="10.32" height="5.985" fill="#96d3f3"/>
<rect x="132.20" y="266.49" width="10.32" height="5.985" fill="#c6eff1"/>
<rect x="29.00" y="272.47" width="10.32" height="5.985" fill="#ede0a0"/>
<rect x="39.32" y="272.47" width="10.32" height="5.985" fill="#c6eff1"/>
<rect x="49.64" y="272.47" width="10.32" height="5.985" fill="#c6eff1"/>
<rect x="59.96" y="272.47" width="10.32" height="5.985" fill="#c6eff1"/>
<rect x="70.28" y="272.47" width="10.32" height="5.985" fill="#f68b2e"/>
<rect x="80.60" y="272.47" width="10.32" height="5.985" fill="#c6eff1"/>
<rect x="90.92" y="272.47" width="10.32" height="5.985" fill="#96d3f3"/>
<rect x="101.24" y="272.47" width="10.32" height="5.985" fill="#f9ac3a"/>
<rect x="111.56" y="272.47" width="10.32" height="5.985" fill="#64aae6"/>
<rect x="121.88" y="272.47" width="10.32" height="5.985" fill="#96d3f3"/>
<rect x="132.20" y="272.47" width="10.32" height="5.985" fill="#ede0a0"/>
<rect x="29.00" y="278.46" width="10.32" height="5.985" fill="#f8c45e"/>
<rect x="39.32" y="278.46" width="10.32" height="5.985" fill="#f8c45e"/>
<rect x="49.64" y="278.46" width="10.32" height="5.985" fill="#f9ac3a"/>
<rect x="59.96" y="278.46" width="10.32" height="5.985" fill="#96d3f3"/>
<rect x="70.28" y="278.46" width="10.32" height="5.985" fill="#f68b2e"/>
<rect x="80.60" y="278.46" width="10.32" height="5.985" fill="#96d3f3"/>
<rect x="90.92" y="278.46" width="10.32" height="5.985" fill="#c6eff1"/>
<rect x="101.24" y="278.46" width="10.32" height="5.985" fill="#ede0a0"/>
<rect x="111.56" y="278.46" width="10.32" height="5.985" fill="#96d3f3"/>
<rect x="121.88" y="278.46" width="10.32" height="5.985" fill="#96d3f3"/>
<rect x="132.20" y="278.46" width="10.32" height="5.985" fill="#96d3f3"/>
<rect x="29.00" y="284.44" width="10.32" height="5.985" fill="#f8c45e"/>
<rect x="39.32" y="284.44" width="10.32" height="5.985" fill="#c6eff1"/>
<rect x="49.64" y="284.44" width="10.32" height="5.985" fill="#ede0a0"/>
<rect x="59.96" y="284.44" width="10.32" height="5.985" fill="#c6eff1"/>
<rect x="70.28" y="284.44" width="10.32" height="5.985" fill="#f68b2e"/>
<rect x="80.60" y="284.44" width="10.32" height="5.985" fill="#c6eff1"/>
<rect x="90.92" y="284.44" width="10.32" height="5.985" fill="#96d3f3"/>
<rect x="101.24" y="284.44" width="10.32" height="5.985" fill="#f8c45e"/>
<rect x="111.56" y="284.44" width="10.32" height="5.985" fill="#96d3f3"/>
<rect x="121.88" y="284.44" width="10.32" height="5.985" fill="#c6eff1"/>
<rect x="132.20" y="284.44" width="10.32" height="5.985" fill="#f9ac3a"/>
<rect x="29.00" y="290.43" width="10.32" height="5.985" fill="#96d3f3"/>
<rect x="39.32" y="290.43" width="10.32" height="5.985" fill="#96d3f3"/>
<rect x="49.64" y="290.43" width="10.32" height="5.985" fill="#96d3f3"/>
<rect x="59.96" y="290.43" width="10.32" height="5.985" fill="#96d3f3"/>
<rect x="70.28" y="290.43" width="10.32" height="5.985" fill="#c6eff1"/>
<rect x="80.60" y="290.43" width="10.32" height="5.985" fill="#f68b2e"/>
<rect x="90.92" y="290.43" width="10.32" height="5.985" fill="#96d3f3"/>
<rect x="101.24" y="290.43" width="10.32" height="5.985" fill="#96d3f3"/>
<rect x="111.56" y="290.43" width="10.32" height="5.985" fill="#ed4a23"/>
<rect x="121.88" y="290.43" width="10.32" height="5.985" fill="#c6eff1"/>
<rect x="132.20" y="290.43" width="10.32" height="5.985" fill="#96d3f3"/>
<rect x="29.00" y="296.41" width="10.32" height="5.985" fill="#96d3f3"/>
<rect x="39.32" y="296.41" width="10.32" height="5.985" fill="#96d3f3"/>
<rect x="49.64" y="296.41" width="10.32" height="5.985" fill="#96d3f3"/>
<rect x="59.96" y="296.41" width="10.32" height="5.985" fill="#96d3f3"/>
<rect x="70.28" y="296.41" width="10.32" height="5.985" fill="#96d3f3"/>
<rect x="80.60" y="296.41" width="10.32" height="5.985" fill="#f68b2e"/>
<rect x="90.92" y="296.41" width="10.32" height="5.985" fill="#96d3f3"/>
<rect x="101.24" y="296.41" width="10.32" height="5.985" fill="#96d3f3"/>
<rect x="111.56" y="296.41" width="10.32" height="5.985" fill="#ed4a23"/>
<rect x="121.88" y="296.41" width="10.32" height="5.985" fill="#c6eff1"/>
<rect x="132.20" y="296.41" width="10.32" height="5.985" fill="#96d3f3"/>
<rect x="29.00" y="302.40" width="10.32" height="5.985" fill="#96d3f3"/>
<rect x="39.32" y="302.40" width="10.32" height="5.985" fill="#96d3f3"/>
<rect x="49.64" y="302.40" width="10.32" height="5.985" fill="#96d3f3"/>
<rect x="59.96" y="302.40" width="10.32" height="5.985" fill="#96d3f3"/>
<rect x="70.28" y="302.40" width="10.32" height="5.985" fill="#96d3f3"/>
<rect x="80.60" y="302.40" width="10.32" height="5.985" fill="#f68b2e"/>
<rect x="90.92" y="302.40" width="10.32" height="5.985" fill="#96d3f3"/>
<rect x="101.24" y="302.40" width="10.32" height="5.985" fill="#96d3f3"/>
<rect x="111.56" y="302.40" width="10.32" height="5.985" fill="#ed4a23"/>
<rect x="121.88" y="302.40" width="10.32" height="5.985" fill="#c6eff1"/>
<rect x="132.20" y="302.40" width="10.32" height="5.985" fill="#96d3f3"/>
<rect x="29.00" y="308.38" width="10.32" height="5.985" fill="#96d3f3"/>
<rect x="39.32" y="308.38" width="10.32" height="5.985" fill="#96d3f3"/>
<rect x="49.64" y="308.38" width="10.32" height="5.985" fill="#96d3f3"/>
<rect x="59.96" y="308.38" width="10.32" height="5.985" fill="#96d3f3"/>
<rect x="70.28" y="308.38" width="10.32" height="5.985" fill="#96d3f3"/>
<rect x="80.60" y="308.38" width="10.32" height="5.985" fill="#f68b2e"/>
<rect x="90.92" y="308.38" width="10.32" height="5.985" fill="#96d3f3"/>
<rect x="101.24" y="308.38" width="10.32" height="5.985" fill="#c6eff1"/>
<rect x="111.56" y="308.38" width="10.32" height="5.985" fill="#ed4a23"/>
<rect x="121.88" y="308.38" width="10.32" height="5.985" fill="#c6eff1"/>
<rect x="132.20" y="308.38" width="10.32" height="5.985" fill="#96d3f3"/>
<rect x="29.00" y="314.37" width="10.32" height="5.985" fill="#96d3f3"/>
<rect x="39.32" y="314.37" width="10.32" height="5.985" fill="#96d3f3"/>
<rect x="49.64" y="314.37" width="10.32" height="5.985" fill="#96d3f3"/>
<rect x="59.96" y="314.37" width="10.32" height="5.985" fill="#96d3f3"/>
<rect x="70.28" y="314.37" width="10.32" height="5.985" fill="#96d3f3"/>
<rect x="80.60" y="314.37" width="10.32" height="5.985" fill="#f68b2e"/>
<rect x="90.92" y="314.37" width="10.32" height="5.985" fill="#96d3f3"/>
<rect x="101.24" y="314.37" width="10.32" height="5.985" fill="#96d3f3"/>
<rect x="111.56" y="314.37" width="10.32" height="5.985" fill="#ed4a23"/>
<rect x="121.88" y="314.37" width="10.32" height="5.985" fill="#c6eff1"/>
<rect x="132.20" y="314.37" width="10.32" height="5.985" fill="#96d3f3"/>
<rect x="29.00" y="320.35" width="10.32" height="5.985" fill="#96d3f3"/>
<rect x="39.32" y="320.35" width="10.32" height="5.985" fill="#96d3f3"/>
<rect x="49.64" y="320.35" width="10.32" height="5.985" fill="#96d3f3"/>
<rect x="59.96" y="320.35" width="10.32" height="5.985" fill="#96d3f3"/>
<rect x="70.28" y="320.35" width="10.32" height="5.985" fill="#c6eff1"/>
<rect x="80.60" y="320.35" width="10.32" height="5.985" fill="#f68b2e"/>
<rect x="90.92" y="320.35" width="10.32" height="5.985" fill="#96d3f3"/>
<rect x="101.24" y="320.35" width="10.32" height="5.985" fill="#96d3f3"/>
<rect x="111.56" y="320.35" width="10.32" height="5.985" fill="#ed4a23"/>
<rect x="121.88" y="320.35" width="10.32" height="5.985" fill="#c6eff1"/>
<rect x="132.20" y="320.35" width="10.32" height="5.985" fill="#96d3f3"/>
<rect x="29.00" y="326.34" width="10.32" height="5.985" fill="#96d3f3"/>
<rect x="39.32" y="326.34" width="10.32" height="5.985" fill="#96d3f3"/>
<rect x="49.64" y="326.34" width="10.32" height="5.985" fill="#96d3f3"/>
<rect x="59.96" y="326.34" width="10.32" height="5.985" fill="#96d3f3"/>
<rect x="70.28" y="326.34" width="10.32" height="5.985" fill="#96d3f3"/>
<rect x="80.60" y="326.34" width="10.32" height="5.985" fill="#f8c45e"/>
<rect x="90.92" y="326.34" width="10.32" height="5.985" fill="#96d3f3"/>
<rect x="101.24" y="326.34" width="10.32" height="5.985" fill="#96d3f3"/>
<rect x="111.56" y="326.34" width="10.32" height="5.985" fill="#f68b2e"/>
<rect x="121.88" y="326.34" width="10.32" height="5.985" fill="#96d3f3"/>
<rect x="132.20" y="326.34" width="10.32" height="5.985" fill="#96d3f3"/>
<rect x="29.00" y="332.32" width="10.32" height="5.985" fill="#96d3f3"/>
<rect x="39.32" y="332.32" width="10.32" height="5.985" fill="#96d3f3"/>
<rect x="49.64" y="332.32" width="10.32" height="5.985" fill="#96d3f3"/>
<rect x="59.96" y="332.32" width="10.32" height="5.985" fill="#c6eff1"/>
<rect x="70.28" y="332.32" width="10.32" height="5.985" fill="#96d3f3"/>
<rect x="80.60" y="332.32" width="10.32" height="5.985" fill="#f9ac3a"/>
<rect x="90.92" y="332.32" width="10.32" height="5.985" fill="#96d3f3"/>
<rect x="101.24" y="332.32" width="10.32" height="5.985" fill="#96d3f3"/>
<rect x="111.56" y="332.32" width="10.32" height="5.985" fill="#ed4a23"/>
<rect x="121.88" y="332.32" width="10.32" height="5.985" fill="#96d3f3"/>
<rect x="132.20" y="332.32" width="10.32" height="5.985" fill="#96d3f3"/>
<rect x="29.00" y="338.31" width="10.32" height="5.985" fill="#96d3f3"/>
<rect x="39.32" y="338.31" width="10.32" height="5.985" fill="#96d3f3"/>
<rect x="49.64" y="338.31" width="10.32" height="5.985" fill="#96d3f3"/>
<rect x="59.96" y="338.31" width="10.32" height="5.985" fill="#96d3f3"/>
<rect x="70.28" y="338.31" width="10.32" height="5.985" fill="#96d3f3"/>
<rect x="80.60" y="338.31" width="10.32" height="5.985" fill="#f9ac3a"/>
<rect x="90.92" y="338.31" width="10.32" height="5.985" fill="#96d3f3"/>
<rect x="101.24" y="338.31" width="10.32" height="5.985" fill="#96d3f3"/>
<rect x="111.56" y="338.31" width="10.32" height="5.985" fill="#ed4a23"/>
<rect x="121.88" y="338.31" width="10.32" height="5.985" fill="#96d3f3"/>
<rect x="132.20" y="338.31" width="10.32" height="5.985" fill="#96d3f3"/>
<rect x="29.00" y="344.29" width="10.32" height="5.985" fill="#96d3f3"/>
<rect x="39.32" y="344.29" width="10.32" height="5.985" fill="#96d3f3"/>
<rect x="49.64" y="344.29" width="10.32" height="5.985" fill="#96d3f3"/>
<rect x="59.96" y="344.29" width="10.32" height="5.985" fill="#96d3f3"/>
<rect x="70.28" y="344.29" width="10.32" height="5.985" fill="#96d3f3"/>
<rect x="80.60" y="344.29" width="10.32" height="5.985" fill="#f68b2e"/>
<rect x="90.92" y="344.29" width="10.32" height="5.985" fill="#c6eff1"/>
<rect x="101.24" y="344.29" width="10.32" height="5.985" fill="#96d3f3"/>
<rect x="111.56" y="344.29" width="10.32" height="5.985" fill="#ed4a23"/>
<rect x="121.88" y="344.29" width="10.32" height="5.985" fill="#96d3f3"/>
<rect x="132.20" y="344.29" width="10.32" height="5.985" fill="#96d3f3"/>
<rect x="29.00" y="350.28" width="10.32" height="5.985" fill="#96d3f3"/>
<rect x="39.32" y="350.28" width="10.32" height="5.985" fill="#96d3f3"/>
<rect x="49.64" y="350.28" width="10.32" height="5.985" fill="#96d3f3"/>
<rect x="59.96" y="350.28" width="10.32" height="5.985" fill="#a9def3"/>
<rect x="70.28" y="350.28" width="10.32" height="5.985" fill="#96d3f3"/>
<rect x="80.60" y="350.28" width="10.32" height="5.985" fill="#c6eff1"/>
<rect x="90.92" y="350.28" width="10.32" height="5.985" fill="#ed4a23"/>
<rect x="101.24" y="350.28" width="10.32" height="5.985" fill="#ede0a0"/>
<rect x="111.56" y="350.28" width="10.32" height="5.985" fill="#96d3f3"/>
<rect x="121.88" y="350.28" width="10.32" height="5.985" fill="#f8c45e"/>
<rect x="132.20" y="350.28" width="10.32" height="5.985" fill="#96d3f3"/>
<rect x="29.00" y="356.26" width="10.32" height="5.985" fill="#96d3f3"/>
<rect x="39.32" y="356.26" width="10.32" height="5.985" fill="#96d3f3"/>
<rect x="49.64" y="356.26" width="10.32" height="5.985" fill="#96d3f3"/>
<rect x="59.96" y="356.26" width="10.32" height="5.985" fill="#96d3f3"/>
<rect x="70.28" y="356.26" width="10.32" height="5.985" fill="#96d3f3"/>
<rect x="80.60" y="356.26" width="10.32" height="5.985" fill="#c6eff1"/>
<rect x="90.92" y="356.26" width="10.32" height="5.985" fill="#ed4a23"/>
<rect x="101.24" y="356.26" width="10.32" height="5.985" fill="#c6eff1"/>
<rect x="111.56" y="356.26" width="10.32" height="5.985" fill="#96d3f3"/>
<rect x="121.88" y="356.26" width="10.32" height="5.985" fill="#ede0a0"/>
<rect x="132.20" y="356.26" width="10.32" height="5.985" fill="#96d3f3"/>
<rect x="29.00" y="362.25" width="10.32" height="5.985" fill="#96d3f3"/>
<rect x="39.32" y="362.25" width="10.32" height="5.985" fill="#96d3f3"/>
<rect x="49.64" y="362.25" width="10.32" height="5.985" fill="#96d3f3"/>
<rect x="59.96" y="362.25" width="10.32" height="5.985" fill="#a9def3"/>
<rect x="70.28" y="362.25" width="10.32" height="5.985" fill="#96d3f3"/>
<rect x="80.60" y="362.25" width="10.32" height="5.985" fill="#c6eff1"/>
<rect x="90.92" y="362.25" width="10.32" height="5.985" fill="#ed4a23"/>
<rect x="101.24" y="362.25" width="10.32" height="5.985" fill="#c6eff1"/>
<rect x="111.56" y="362.25" width="10.32" height="5.985" fill="#96d3f3"/>
<rect x="121.88" y="362.25" width="10.32" height="5.985" fill="#ede0a0"/>
<rect x="132.20" y="362.25" width="10.32" height="5.985" fill="#96d3f3"/>
<rect x="29.00" y="368.23" width="10.32" height="5.985" fill="#96d3f3"/>
<rect x="39.32" y="368.23" width="10.32" height="5.985" fill="#96d3f3"/>
<rect x="49.64" y="368.23" width="10.32" height="5.985" fill="#96d3f3"/>
<rect x="59.96" y="368.23" width="10.32" height="5.985" fill="#a9def3"/>
<rect x="70.28" y="368.23" width="10.32" height="5.985" fill="#96d3f3"/>
<rect x="80.60" y="368.23" width="10.32" height="5.985" fill="#c6eff1"/>
<rect x="90.92" y="368.23" width="10.32" height="5.985" fill="#ed4a23"/>
<rect x="101.24" y="368.23" width="10.32" height="5.985" fill="#c6eff1"/>
<rect x="111.56" y="368.23" width="10.32" height="5.985" fill="#96d3f3"/>
<rect x="121.88" y="368.23" width="10.32" height="5.985" fill="#c6eff1"/>
<rect x="132.20" y="368.23" width="10.32" height="5.985" fill="#96d3f3"/>
<rect x="29.00" y="374.22" width="10.32" height="5.985" fill="#96d3f3"/>
<rect x="39.32" y="374.22" width="10.32" height="5.985" fill="#96d3f3"/>
<rect x="49.64" y="374.22" width="10.32" height="5.985" fill="#96d3f3"/>
<rect x="59.96" y="374.22" width="10.32" height="5.985" fill="#a9def3"/>
<rect x="70.28" y="374.22" width="10.32" height="5.985" fill="#96d3f3"/>
<rect x="80.60" y="374.22" width="10.32" height="5.985" fill="#c6eff1"/>
<rect x="90.92" y="374.22" width="10.32" height="5.985" fill="#ed4a23"/>
<rect x="101.24" y="374.22" width="10.32" height="5.985" fill="#c6eff1"/>
<rect x="111.56" y="374.22" width="10.32" height="5.985" fill="#96d3f3"/>
<rect x="121.88" y="374.22" width="10.32" height="5.985" fill="#ede0a0"/>
<rect x="132.20" y="374.22" width="10.32" height="5.985" fill="#96d3f3"/>
<rect x="29.00" y="380.20" width="10.32" height="5.985" fill="#96d3f3"/>
<rect x="39.32" y="380.20" width="10.32" height="5.985" fill="#96d3f3"/>
<rect x="49.64" y="380.20" width="10.32" height="5.985" fill="#96d3f3"/>
<rect x="59.96" y="380.20" width="10.32" height="5.985" fill="#a9def3"/>
<rect x="70.28" y="380.20" width="10.32" height="5.985" fill="#96d3f3"/>
<rect x="80.60" y="380.20" width="10.32" height="5.985" fill="#c6eff1"/>
<rect x="90.92" y="380.20" width="10.32" height="5.985" fill="#ed4a23"/>
<rect x="101.24" y="380.20" width="10.32" height="5.985" fill="#c6eff1"/>
<rect x="111.56" y="380.20" width="10.32" height="5.985" fill="#96d3f3"/>
<rect x="121.88" y="380.20" width="10.32" height="5.985" fill="#ede0a0"/>
<rect x="132.20" y="380.20" width="10.32" height="5.985" fill="#96d3f3"/>
<rect x="29.00" y="386.19" width="10.32" height="5.985" fill="#96d3f3"/>
<rect x="39.32" y="386.19" width="10.32" height="5.985" fill="#96d3f3"/>
<rect x="49.64" y="386.19" width="10.32" height="5.985" fill="#96d3f3"/>
<rect x="59.96" y="386.19" width="10.32" height="5.985" fill="#a9def3"/>
<rect x="70.28" y="386.19" width="10.32" height="5.985" fill="#96d3f3"/>
<rect x="80.60" y="386.19" width="10.32" height="5.985" fill="#c6eff1"/>
<rect x="90.92" y="386.19" width="10.32" height="5.985" fill="#ed4a23"/>
<rect x="101.24" y="386.19" width="10.32" height="5.985" fill="#c6eff1"/>
<rect x="111.56" y="386.19" width="10.32" height="5.985" fill="#96d3f3"/>
<rect x="121.88" y="386.19" width="10.32" height="5.985" fill="#f8c45e"/>
<rect x="132.20" y="386.19" width="10.32" height="5.985" fill="#96d3f3"/>
<rect x="29.00" y="392.17" width="10.32" height="5.985" fill="#96d3f3"/>
<rect x="39.32" y="392.17" width="10.32" height="5.985" fill="#96d3f3"/>
<rect x="49.64" y="392.17" width="10.32" height="5.985" fill="#96d3f3"/>
<rect x="59.96" y="392.17" width="10.32" height="5.985" fill="#a9def3"/>
<rect x="70.28" y="392.17" width="10.32" height="5.985" fill="#96d3f3"/>
<rect x="80.60" y="392.17" width="10.32" height="5.985" fill="#c6eff1"/>
<rect x="90.92" y="392.17" width="10.32" height="5.985" fill="#ed4a23"/>
<rect x="101.24" y="392.17" width="10.32" height="5.985" fill="#c6eff1"/>
<rect x="111.56" y="392.17" width="10.32" height="5.985" fill="#96d3f3"/>
<rect x="121.88" y="392.17" width="10.32" height="5.985" fill="#ede0a0"/>
<rect x="132.20" y="392.17" width="10.32" height="5.985" fill="#96d3f3"/>
<rect x="29.00" y="398.16" width="10.32" height="5.985" fill="#96d3f3"/>
<rect x="39.32" y="398.16" width="10.32" height="5.985" fill="#96d3f3"/>
<rect x="49.64" y="398.16" width="10.32" height="5.985" fill="#96d3f3"/>
<rect x="59.96" y="398.16" width="10.32" height="5.985" fill="#96d3f3"/>
<rect x="70.28" y="398.16" width="10.32" height="5.985" fill="#96d3f3"/>
<rect x="80.60" y="398.16" width="10.32" height="5.985" fill="#c6eff1"/>
<rect x="90.92" y="398.16" width="10.32" height="5.985" fill="#ed4a23"/>
<rect x="101.24" y="398.16" width="10.32" height="5.985" fill="#ede0a0"/>
<rect x="111.56" y="398.16" width="10.32" height="5.985" fill="#96d3f3"/>
<rect x="121.88" y="398.16" width="10.32" height="5.985" fill="#c6eff1"/>
<rect x="132.20" y="398.16" width="10.32" height="5.985" fill="#96d3f3"/>
<rect x="29.00" y="404.14" width="10.32" height="5.985" fill="#96d3f3"/>
<rect x="39.32" y="404.14" width="10.32" height="5.985" fill="#96d3f3"/>
<rect x="49.64" y="404.14" width="10.32" height="5.985" fill="#96d3f3"/>
<rect x="59.96" y="404.14" width="10.32" height="5.985" fill="#96d3f3"/>
<rect x="70.28" y="404.14" width="10.32" height="5.985" fill="#96d3f3"/>
<rect x="80.60" y="404.14" width="10.32" height="5.985" fill="#96d3f3"/>
<rect x="90.92" y="404.14" width="10.32" height="5.985" fill="#ed4a23"/>
<rect x="101.24" y="404.14" width="10.32" height="5.985" fill="#c6eff1"/>
<rect x="111.56" y="404.14" width="10.32" height="5.985" fill="#96d3f3"/>
<rect x="121.88" y="404.14" width="10.32" height="5.985" fill="#ede0a0"/>
<rect x="132.20" y="404.14" width="10.32" height="5.985" fill="#96d3f3"/>
<rect x="29.00" y="410.13" width="10.32" height="5.985" fill="#c6eff1"/>
<rect x="39.32" y="410.13" width="10.32" height="5.985" fill="#96d3f3"/>
<rect x="49.64" y="410.13" width="10.32" height="5.985" fill="#96d3f3"/>
<rect x="59.96" y="410.13" width="10.32" height="5.985" fill="#c6eff1"/>
<rect x="70.28" y="410.13" width="10.32" height="5.985" fill="#c6eff1"/>
<rect x="80.60" y="410.13" width="10.32" height="5.985" fill="#96d3f3"/>
<rect x="90.92" y="410.13" width="10.32" height="5.985" fill="#c6eff1"/>
<rect x="101.24" y="410.13" width="10.32" height="5.985" fill="#ed4a23"/>
<rect x="111.56" y="410.13" width="10.32" height="5.985" fill="#1d4ca6"/>
<rect x="121.88" y="410.13" width="10.32" height="5.985" fill="#c6eff1"/>
<rect x="132.20" y="410.13" width="10.32" height="5.985" fill="#96d3f3"/>
<rect x="29.00" y="416.11" width="10.32" height="5.985" fill="#96d3f3"/>
<rect x="39.32" y="416.11" width="10.32" height="5.985" fill="#96d3f3"/>
<rect x="49.64" y="416.11" width="10.32" height="5.985" fill="#96d3f3"/>
<rect x="59.96" y="416.11" width="10.32" height="5.985" fill="#96d3f3"/>
<rect x="70.28" y="416.11" width="10.32" height="5.985" fill="#96d3f3"/>
<rect x="80.60" y="416.11" width="10.32" height="5.985" fill="#64aae6"/>
<rect x="90.92" y="416.11" width="10.32" height="5.985" fill="#96d3f3"/>
<rect x="101.24" y="416.11" width="10.32" height="5.985" fill="#ed4a23"/>
<rect x="111.56" y="416.11" width="10.32" height="5.985" fill="#64aae6"/>
<rect x="121.88" y="416.11" width="10.32" height="5.985" fill="#96d3f3"/>
<rect x="132.20" y="416.11" width="10.32" height="5.985" fill="#96d3f3"/>
<rect x="29.00" y="422.10" width="10.32" height="5.985" fill="#c6eff1"/>
<rect x="39.32" y="422.10" width="10.32" height="5.985" fill="#c6eff1"/>
<rect x="49.64" y="422.10" width="10.32" height="5.985" fill="#c6eff1"/>
<rect x="59.96" y="422.10" width="10.32" height="5.985" fill="#64aae6"/>
<rect x="70.28" y="422.10" width="10.32" height="5.985" fill="#c6eff1"/>
<rect x="80.60" y="422.10" width="10.32" height="5.985" fill="#64aae6"/>
<rect x="90.92" y="422.10" width="10.32" height="5.985" fill="#96d3f3"/>
<rect x="101.24" y="422.10" width="10.32" height="5.985" fill="#ed4a23"/>
<rect x="111.56" y="422.10" width="10.32" height="5.985" fill="#96d3f3"/>
<rect x="121.88" y="422.10" width="10.32" height="5.985" fill="#c6eff1"/>
<rect x="132.20" y="422.10" width="10.32" height="5.985" fill="#64aae6"/>
<rect x="29.00" y="428.08" width="10.32" height="5.985" fill="#96d3f3"/>
<rect x="39.32" y="428.08" width="10.32" height="5.985" fill="#96d3f3"/>
<rect x="49.64" y="428.08" width="10.32" height="5.985" fill="#96d3f3"/>
<rect x="59.96" y="428.08" width="10.32" height="5.985" fill="#c6eff1"/>
<rect x="70.28" y="428.08" width="10.32" height="5.985" fill="#96d3f3"/>
<rect x="80.60" y="428.08" width="10.32" height="5.985" fill="#96d3f3"/>
<rect x="90.92" y="428.08" width="10.32" height="5.985" fill="#96d3f3"/>
<rect x="101.24" y="428.08" width="10.32" height="5.985" fill="#ed4a23"/>
<rect x="111.56" y="428.08" width="10.32" height="5.985" fill="#96d3f3"/>
<rect x="121.88" y="428.08" width="10.32" height="5.985" fill="#c6eff1"/>
<rect x="132.20" y="428.08" width="10.32" height="5.985" fill="#96d3f3"/>
<rect x="29.00" y="434.07" width="10.32" height="5.985" fill="#96d3f3"/>
<rect x="39.32" y="434.07" width="10.32" height="5.985" fill="#96d3f3"/>
<rect x="49.64" y="434.07" width="10.32" height="5.985" fill="#96d3f3"/>
<rect x="59.96" y="434.07" width="10.32" height="5.985" fill="#96d3f3"/>
<rect x="70.28" y="434.07" width="10.32" height="5.985" fill="#96d3f3"/>
<rect x="80.60" y="434.07" width="10.32" height="5.985" fill="#96d3f3"/>
<rect x="90.92" y="434.07" width="10.32" height="5.985" fill="#c6eff1"/>
<rect x="101.24" y="434.07" width="10.32" height="5.985" fill="#ed4a23"/>
<rect x="111.56" y="434.07" width="10.32" height="5.985" fill="#96d3f3"/>
<rect x="121.88" y="434.07" width="10.32" height="5.985" fill="#c6eff1"/>
<rect x="132.20" y="434.07" width="10.32" height="5.985" fill="#c6eff1"/>
<rect x="29.00" y="440.05" width="10.32" height="5.985" fill="#96d3f3"/>
<rect x="39.32" y="440.05" width="10.32" height="5.985" fill="#96d3f3"/>
<rect x="49.64" y="440.05" width="10.32" height="5.985" fill="#96d3f3"/>
<rect x="59.96" y="440.05" width="10.32" height="5.985" fill="#96d3f3"/>
<rect x="70.28" y="440.05" width="10.32" height="5.985" fill="#96d3f3"/>
<rect x="80.60" y="440.05" width="10.32" height="5.985" fill="#96d3f3"/>
<rect x="90.92" y="440.05" width="10.32" height="5.985" fill="#f8c45e"/>
<rect x="101.24" y="440.05" width="10.32" height="5.985" fill="#f68b2e"/>
<rect x="111.56" y="440.05" width="10.32" height="5.985" fill="#96d3f3"/>
<rect x="121.88" y="440.05" width="10.32" height="5.985" fill="#96d3f3"/>
<rect x="132.20" y="440.05" width="10.32" height="5.985" fill="#96d3f3"/>
<rect x="29.00" y="446.04" width="10.32" height="5.985" fill="#a9def3"/>
<rect x="39.32" y="446.04" width="10.32" height="5.985" fill="#96d3f3"/>
<rect x="49.64" y="446.04" width="10.32" height="5.985" fill="#a9def3"/>
<rect x="59.96" y="446.04" width="10.32" height="5.985" fill="#a9def3"/>
<rect x="70.28" y="446.04" width="10.32" height="5.985" fill="#96d3f3"/>
<rect x="80.60" y="446.04" width="10.32" height="5.985" fill="#a9def3"/>
<rect x="90.92" y="446.04" width="10.32" height="5.985" fill="#c6eff1"/>
<rect x="101.24" y="446.04" width="10.32" height="5.985" fill="#ed4a23"/>
<rect x="111.56" y="446.04" width="10.32" height="5.985" fill="#96d3f3"/>
<rect x="121.88" y="446.04" width="10.32" height="5.985" fill="#c6eff1"/>
<rect x="132.20" y="446.04" width="10.32" height="5.985" fill="#c6eff1"/>
<rect x="29.00" y="452.02" width="10.32" height="5.985" fill="#96d3f3"/>
<rect x="39.32" y="452.02" width="10.32" height="5.985" fill="#96d3f3"/>
<rect x="49.64" y="452.02" width="10.32" height="5.985" fill="#96d3f3"/>
<rect x="59.96" y="452.02" width="10.32" height="5.985" fill="#96d3f3"/>
<rect x="70.28" y="452.02" width="10.32" height="5.985" fill="#96d3f3"/>
<rect x="80.60" y="452.02" width="10.32" height="5.985" fill="#96d3f3"/>
<rect x="90.92" y="452.02" width="10.32" height="5.985" fill="#96d3f3"/>
<rect x="101.24" y="452.02" width="10.32" height="5.985" fill="#ed4a23"/>
<rect x="111.56" y="452.02" width="10.32" height="5.985" fill="#96d3f3"/>
<rect x="121.88" y="452.02" width="10.32" height="5.985" fill="#96d3f3"/>
<rect x="132.20" y="452.02" width="10.32" height="5.985" fill="#96d3f3"/>
<rect x="29.00" y="458.01" width="10.32" height="5.985" fill="#96d3f3"/>
<rect x="39.32" y="458.01" width="10.32" height="5.985" fill="#96d3f3"/>
<rect x="49.64" y="458.01" width="10.32" height="5.985" fill="#96d3f3"/>
<rect x="59.96" y="458.01" width="10.32" height="5.985" fill="#c6eff1"/>
<rect x="70.28" y="458.01" width="10.32" height="5.985" fill="#96d3f3"/>
<rect x="80.60" y="458.01" width="10.32" height="5.985" fill="#96d3f3"/>
<rect x="90.92" y="458.01" width="10.32" height="5.985" fill="#c6eff1"/>
<rect x="101.24" y="458.01" width="10.32" height="5.985" fill="#ed4a23"/>
<rect x="111.56" y="458.01" width="10.32" height="5.985" fill="#96d3f3"/>
<rect x="121.88" y="458.01" width="10.32" height="5.985" fill="#96d3f3"/>
<rect x="132.20" y="458.01" width="10.32" height="5.985" fill="#c6eff1"/>
<rect x="29.00" y="463.99" width="10.32" height="5.985" fill="#96d3f3"/>
<rect x="39.32" y="463.99" width="10.32" height="5.985" fill="#3b7ccf"/>
<rect x="49.64" y="463.99" width="10.32" height="5.985" fill="#96d3f3"/>
<rect x="59.96" y="463.99" width="10.32" height="5.985" fill="#c6eff1"/>
<rect x="70.28" y="463.99" width="10.32" height="5.985" fill="#3b7ccf"/>
<rect x="80.60" y="463.99" width="10.32" height="5.985" fill="#96d3f3"/>
<rect x="90.92" y="463.99" width="10.32" height="5.985" fill="#f8c45e"/>
<rect x="101.24" y="463.99" width="10.32" height="5.985" fill="#f9ac3a"/>
<rect x="111.56" y="463.99" width="10.32" height="5.985" fill="#96d3f3"/>
<rect x="121.88" y="463.99" width="10.32" height="5.985" fill="#c6eff1"/>
<rect x="132.20" y="463.99" width="10.32" height="5.985" fill="#3b7ccf"/>
<rect x="29.00" y="469.98" width="10.32" height="5.985" fill="#96d3f3"/>
<rect x="39.32" y="469.98" width="10.32" height="5.985" fill="#96d3f3"/>
<rect x="49.64" y="469.98" width="10.32" height="5.985" fill="#96d3f3"/>
<rect x="59.96" y="469.98" width="10.32" height="5.985" fill="#96d3f3"/>
<rect x="70.28" y="469.98" width="10.32" height="5.985" fill="#96d3f3"/>
<rect x="80.60" y="469.98" width="10.32" height="5.985" fill="#f8c45e"/>
<rect x="90.92" y="469.98" width="10.32" height="5.985" fill="#96d3f3"/>
<rect x="101.24" y="469.98" width="10.32" height="5.985" fill="#96d3f3"/>
<rect x="111.56" y="469.98" width="10.32" height="5.985" fill="#ed4a23"/>
<rect x="121.88" y="469.98" width="10.32" height="5.985" fill="#c6eff1"/>
<rect x="132.20" y="469.98" width="10.32" height="5.985" fill="#96d3f3"/>
<rect x="29.00" y="475.96" width="10.32" height="5.985" fill="#96d3f3"/>
<rect x="39.32" y="475.96" width="10.32" height="5.985" fill="#96d3f3"/>
<rect x="49.64" y="475.96" width="10.32" height="5.985" fill="#96d3f3"/>
<rect x="59.96" y="475.96" width="10.32" height="5.985" fill="#96d3f3"/>
<rect x="70.28" y="475.96" width="10.32" height="5.985" fill="#96d3f3"/>
<rect x="80.60" y="475.96" width="10.32" height="5.985" fill="#f8c45e"/>
<rect x="90.92" y="475.96" width="10.32" height="5.985" fill="#96d3f3"/>
<rect x="101.24" y="475.96" width="10.32" height="5.985" fill="#96d3f3"/>
<rect x="111.56" y="475.96" width="10.32" height="5.985" fill="#ed4a23"/>
<rect x="121.88" y="475.96" width="10.32" height="5.985" fill="#c6eff1"/>
<rect x="132.20" y="475.96" width="10.32" height="5.985" fill="#96d3f3"/>
<rect x="29.00" y="481.95" width="10.32" height="5.985" fill="#96d3f3"/>
<rect x="39.32" y="481.95" width="10.32" height="5.985" fill="#96d3f3"/>
<rect x="49.64" y="481.95" width="10.32" height="5.985" fill="#96d3f3"/>
<rect x="59.96" y="481.95" width="10.32" height="5.985" fill="#96d3f3"/>
<rect x="70.28" y="481.95" width="10.32" height="5.985" fill="#96d3f3"/>
<rect x="80.60" y="481.95" width="10.32" height="5.985" fill="#f8c45e"/>
<rect x="90.92" y="481.95" width="10.32" height="5.985" fill="#96d3f3"/>
<rect x="101.24" y="481.95" width="10.32" height="5.985" fill="#96d3f3"/>
<rect x="111.56" y="481.95" width="10.32" height="5.985" fill="#ed4a23"/>
<rect x="121.88" y="481.95" width="10.32" height="5.985" fill="#c6eff1"/>
<rect x="132.20" y="481.95" width="10.32" height="5.985" fill="#96d3f3"/>
<rect x="29.00" y="487.93" width="10.32" height="5.985" fill="#96d3f3"/>
<rect x="39.32" y="487.93" width="10.32" height="5.985" fill="#96d3f3"/>
<rect x="49.64" y="487.93" width="10.32" height="5.985" fill="#96d3f3"/>
<rect x="59.96" y="487.93" width="10.32" height="5.985" fill="#96d3f3"/>
<rect x="70.28" y="487.93" width="10.32" height="5.985" fill="#96d3f3"/>
<rect x="80.60" y="487.93" width="10.32" height="5.985" fill="#f8c45e"/>
<rect x="90.92" y="487.93" width="10.32" height="5.985" fill="#96d3f3"/>
<rect x="101.24" y="487.93" width="10.32" height="5.985" fill="#96d3f3"/>
<rect x="111.56" y="487.93" width="10.32" height="5.985" fill="#ed4a23"/>
<rect x="121.88" y="487.93" width="10.32" height="5.985" fill="#96d3f3"/>
<rect x="132.20" y="487.93" width="10.32" height="5.985" fill="#96d3f3"/>
<rect x="29.00" y="493.92" width="10.32" height="5.985" fill="#96d3f3"/>
<rect x="39.32" y="493.92" width="10.32" height="5.985" fill="#96d3f3"/>
<rect x="49.64" y="493.92" width="10.32" height="5.985" fill="#96d3f3"/>
<rect x="59.96" y="493.92" width="10.32" height="5.985" fill="#96d3f3"/>
<rect x="70.28" y="493.92" width="10.32" height="5.985" fill="#96d3f3"/>
<rect x="80.60" y="493.92" width="10.32" height="5.985" fill="#f8c45e"/>
<rect x="90.92" y="493.92" width="10.32" height="5.985" fill="#96d3f3"/>
<rect x="101.24" y="493.92" width="10.32" height="5.985" fill="#96d3f3"/>
<rect x="111.56" y="493.92" width="10.32" height="5.985" fill="#ed4a23"/>
<rect x="121.88" y="493.92" width="10.32" height="5.985" fill="#96d3f3"/>
<rect x="132.20" y="493.92" width="10.32" height="5.985" fill="#96d3f3"/>
<rect x="29.00" y="499.90" width="10.32" height="5.985" fill="#a9def3"/>
<rect x="39.32" y="499.90" width="10.32" height="5.985" fill="#a9def3"/>
<rect x="49.64" y="499.90" width="10.32" height="5.985" fill="#a9def3"/>
<rect x="59.96" y="499.90" width="10.32" height="5.985" fill="#a9def3"/>
<rect x="70.28" y="499.90" width="10.32" height="5.985" fill="#a9def3"/>
<rect x="80.60" y="499.90" width="10.32" height="5.985" fill="#a9def3"/>
<rect x="90.92" y="499.90" width="10.32" height="5.985" fill="#a9def3"/>
<rect x="101.24" y="499.90" width="10.32" height="5.985" fill="#a9def3"/>
<rect x="111.56" y="499.90" width="10.32" height="5.985" fill="#a9def3"/>
<rect x="121.88" y="499.90" width="10.32" height="5.985" fill="#ed4a23"/>
<rect x="132.20" y="499.90" width="10.32" height="5.985" fill="#c6eff1"/>
<rect x="29.00" y="505.89" width="10.32" height="5.985" fill="#a9def3"/>
<rect x="39.32" y="505.89" width="10.32" height="5.985" fill="#a9def3"/>
<rect x="49.64" y="505.89" width="10.32" height="5.985" fill="#a9def3"/>
<rect x="59.96" y="505.89" width="10.32" height="5.985" fill="#a9def3"/>
<rect x="70.28" y="505.89" width="10.32" height="5.985" fill="#a9def3"/>
<rect x="80.60" y="505.89" width="10.32" height="5.985" fill="#a9def3"/>
<rect x="90.92" y="505.89" width="10.32" height="5.985" fill="#a9def3"/>
<rect x="101.24" y="505.89" width="10.32" height="5.985" fill="#a9def3"/>
<rect x="111.56" y="505.89" width="10.32" height="5.985" fill="#a9def3"/>
<rect x="121.88" y="505.89" width="10.32" height="5.985" fill="#ed4a23"/>
<rect x="132.20" y="505.89" width="10.32" height="5.985" fill="#ede0a0"/>
<rect x="29.00" y="511.87" width="10.32" height="5.985" fill="#a9def3"/>
<rect x="39.32" y="511.87" width="10.32" height="5.985" fill="#a9def3"/>
<rect x="49.64" y="511.87" width="10.32" height="5.985" fill="#a9def3"/>
<rect x="59.96" y="511.87" width="10.32" height="5.985" fill="#a9def3"/>
<rect x="70.28" y="511.87" width="10.32" height="5.985" fill="#a9def3"/>
<rect x="80.60" y="511.87" width="10.32" height="5.985" fill="#a9def3"/>
<rect x="90.92" y="511.87" width="10.32" height="5.985" fill="#a9def3"/>
<rect x="101.24" y="511.87" width="10.32" height="5.985" fill="#a9def3"/>
<rect x="111.56" y="511.87" width="10.32" height="5.985" fill="#a9def3"/>
<rect x="121.88" y="511.87" width="10.32" height="5.985" fill="#ed4a23"/>
<rect x="132.20" y="511.87" width="10.32" height="5.985" fill="#96d3f3"/>
<rect x="29.00" y="517.86" width="10.32" height="5.985" fill="#a9def3"/>
<rect x="39.32" y="517.86" width="10.32" height="5.985" fill="#a9def3"/>
<rect x="49.64" y="517.86" width="10.32" height="5.985" fill="#a9def3"/>
<rect x="59.96" y="517.86" width="10.32" height="5.985" fill="#ede0a0"/>
<rect x="70.28" y="517.86" width="10.32" height="5.985" fill="#a9def3"/>
<rect x="80.60" y="517.86" width="10.32" height="5.985" fill="#a9def3"/>
<rect x="90.92" y="517.86" width="10.32" height="5.985" fill="#c6eff1"/>
<rect x="101.24" y="517.86" width="10.32" height="5.985" fill="#a9def3"/>
<rect x="111.56" y="517.86" width="10.32" height="5.985" fill="#64aae6"/>
<rect x="121.88" y="517.86" width="10.32" height="5.985" fill="#ed4a23"/>
<rect x="132.20" y="517.86" width="10.32" height="5.985" fill="#f8c45e"/>
<rect x="29.00" y="523.84" width="10.32" height="5.985" fill="#a9def3"/>
<rect x="39.32" y="523.84" width="10.32" height="5.985" fill="#a9def3"/>
<rect x="49.64" y="523.84" width="10.32" height="5.985" fill="#a9def3"/>
<rect x="59.96" y="523.84" width="10.32" height="5.985" fill="#a9def3"/>
<rect x="70.28" y="523.84" width="10.32" height="5.985" fill="#a9def3"/>
<rect x="80.60" y="523.84" width="10.32" height="5.985" fill="#a9def3"/>
<rect x="90.92" y="523.84" width="10.32" height="5.985" fill="#a9def3"/>
<rect x="101.24" y="523.84" width="10.32" height="5.985" fill="#a9def3"/>
<rect x="111.56" y="523.84" width="10.32" height="5.985" fill="#a9def3"/>
<rect x="121.88" y="523.84" width="10.32" height="5.985" fill="#ed4a23"/>
<rect x="132.20" y="523.84" width="10.32" height="5.985" fill="#c6eff1"/>
<rect x="29.00" y="529.83" width="10.32" height="5.985" fill="#a9def3"/>
<rect x="39.32" y="529.83" width="10.32" height="5.985" fill="#a9def3"/>
<rect x="49.64" y="529.83" width="10.32" height="5.985" fill="#a9def3"/>
<rect x="59.96" y="529.83" width="10.32" height="5.985" fill="#a9def3"/>
<rect x="70.28" y="529.83" width="10.32" height="5.985" fill="#a9def3"/>
<rect x="80.60" y="529.83" width="10.32" height="5.985" fill="#a9def3"/>
<rect x="90.92" y="529.83" width="10.32" height="5.985" fill="#a9def3"/>
<rect x="101.24" y="529.83" width="10.32" height="5.985" fill="#a9def3"/>
<rect x="111.56" y="529.83" width="10.32" height="5.985" fill="#a9def3"/>
<rect x="121.88" y="529.83" width="10.32" height="5.985" fill="#ed4a23"/>
<rect x="132.20" y="529.83" width="10.32" height="5.985" fill="#c6eff1"/>
<rect x="29.00" y="535.81" width="10.32" height="5.985" fill="#a9def3"/>
<rect x="39.32" y="535.81" width="10.32" height="5.985" fill="#a9def3"/>
<rect x="49.64" y="535.81" width="10.32" height="5.985" fill="#a9def3"/>
<rect x="59.96" y="535.81" width="10.32" height="5.985" fill="#a9def3"/>
<rect x="70.28" y="535.81" width="10.32" height="5.985" fill="#a9def3"/>
<rect x="80.60" y="535.81" width="10.32" height="5.985" fill="#a9def3"/>
<rect x="90.92" y="535.81" width="10.32" height="5.985" fill="#a9def3"/>
<rect x="101.24" y="535.81" width="10.32" height="5.985" fill="#a9def3"/>
<rect x="111.56" y="535.81" width="10.32" height="5.985" fill="#a9def3"/>
<rect x="121.88" y="535.81" width="10.32" height="5.985" fill="#ed4a23"/>
<rect x="132.20" y="535.81" width="10.32" height="5.985" fill="#c6eff1"/>
<rect x="29.00" y="541.80" width="10.32" height="5.985" fill="#a9def3"/>
<rect x="39.32" y="541.80" width="10.32" height="5.985" fill="#a9def3"/>
<rect x="49.64" y="541.80" width="10.32" height="5.985" fill="#a9def3"/>
<rect x="59.96" y="541.80" width="10.32" height="5.985" fill="#a9def3"/>
<rect x="70.28" y="541.80" width="10.32" height="5.985" fill="#a9def3"/>
<rect x="80.60" y="541.80" width="10.32" height="5.985" fill="#a9def3"/>
<rect x="90.92" y="541.80" width="10.32" height="5.985" fill="#a9def3"/>
<rect x="101.24" y="541.80" width="10.32" height="5.985" fill="#a9def3"/>
<rect x="111.56" y="541.80" width="10.32" height="5.985" fill="#a9def3"/>
<rect x="121.88" y="541.80" width="10.32" height="5.985" fill="#ed4a23"/>
<rect x="132.20" y="541.80" width="10.32" height="5.985" fill="#c6eff1"/>
<rect x="29.00" y="547.78" width="10.32" height="5.985" fill="#a9def3"/>
<rect x="39.32" y="547.78" width="10.32" height="5.985" fill="#a9def3"/>
<rect x="49.64" y="547.78" width="10.32" height="5.985" fill="#a9def3"/>
<rect x="59.96" y="547.78" width="10.32" height="5.985" fill="#a9def3"/>
<rect x="70.28" y="547.78" width="10.32" height="5.985" fill="#a9def3"/>
<rect x="80.60" y="547.78" width="10.32" height="5.985" fill="#a9def3"/>
<rect x="90.92" y="547.78" width="10.32" height="5.985" fill="#a9def3"/>
<rect x="101.24" y="547.78" width="10.32" height="5.985" fill="#a9def3"/>
<rect x="111.56" y="547.78" width="10.32" height="5.985" fill="#a9def3"/>
<rect x="121.88" y="547.78" width="10.32" height="5.985" fill="#ed4a23"/>
<rect x="132.20" y="547.78" width="10.32" height="5.985" fill="#c6eff1"/>
<rect x="29.00" y="553.77" width="10.32" height="5.985" fill="#a9def3"/>
<rect x="39.32" y="553.77" width="10.32" height="5.985" fill="#a9def3"/>
<rect x="49.64" y="553.77" width="10.32" height="5.985" fill="#a9def3"/>
<rect x="59.96" y="553.77" width="10.32" height="5.985" fill="#a9def3"/>
<rect x="70.28" y="553.77" width="10.32" height="5.985" fill="#a9def3"/>
<rect x="80.60" y="553.77" width="10.32" height="5.985" fill="#a9def3"/>
<rect x="90.92" y="553.77" width="10.32" height="5.985" fill="#a9def3"/>
<rect x="101.24" y="553.77" width="10.32" height="5.985" fill="#a9def3"/>
<rect x="111.56" y="553.77" width="10.32" height="5.985" fill="#a9def3"/>
<rect x="121.88" y="553.77" width="10.32" height="5.985" fill="#ed4a23"/>
<rect x="132.20" y="553.77" width="10.32" height="5.985" fill="#c6eff1"/>
<rect x="29.00" y="559.75" width="10.32" height="5.985" fill="#a9def3"/>
<rect x="39.32" y="559.75" width="10.32" height="5.985" fill="#a9def3"/>
<rect x="49.64" y="559.75" width="10.32" height="5.985" fill="#a9def3"/>
<rect x="59.96" y="559.75" width="10.32" height="5.985" fill="#a9def3"/>
<rect x="70.28" y="559.75" width="10.32" height="5.985" fill="#a9def3"/>
<rect x="80.60" y="559.75" width="10.32" height="5.985" fill="#a9def3"/>
<rect x="90.92" y="559.75" width="10.32" height="5.985" fill="#a9def3"/>
<rect x="101.24" y="559.75" width="10.32" height="5.985" fill="#c6eff1"/>
<rect x="111.56" y="559.75" width="10.32" height="5.985" fill="#a9def3"/>
<rect x="121.88" y="559.75" width="10.32" height="5.985" fill="#c6eff1"/>
<rect x="132.20" y="559.75" width="10.32" height="5.985" fill="#ed4a23"/>
<rect x="29.00" y="565.74" width="10.32" height="5.985" fill="#a9def3"/>
<rect x="39.32" y="565.74" width="10.32" height="5.985" fill="#a9def3"/>
<rect x="49.64" y="565.74" width="10.32" height="5.985" fill="#a9def3"/>
<rect x="59.96" y="565.74" width="10.32" height="5.985" fill="#a9def3"/>
<rect x="70.28" y="565.74" width="10.32" height="5.985" fill="#a9def3"/>
<rect x="80.60" y="565.74" width="10.32" height="5.985" fill="#a9def3"/>
<rect x="90.92" y="565.74" width="10.32" height="5.985" fill="#a9def3"/>
<rect x="101.24" y="565.74" width="10.32" height="5.985" fill="#ede0a0"/>
<rect x="111.56" y="565.74" width="10.32" height="5.985" fill="#a9def3"/>
<rect x="121.88" y="565.74" width="10.32" height="5.985" fill="#c6eff1"/>
<rect x="132.20" y="565.74" width="10.32" height="5.985" fill="#ed4a23"/>
<rect x="29.00" y="571.72" width="10.32" height="5.985" fill="#a9def3"/>
<rect x="39.32" y="571.72" width="10.32" height="5.985" fill="#a9def3"/>
<rect x="49.64" y="571.72" width="10.32" height="5.985" fill="#a9def3"/>
<rect x="59.96" y="571.72" width="10.32" height="5.985" fill="#a9def3"/>
<rect x="70.28" y="571.72" width="10.32" height="5.985" fill="#a9def3"/>
<rect x="80.60" y="571.72" width="10.32" height="5.985" fill="#a9def3"/>
<rect x="90.92" y="571.72" width="10.32" height="5.985" fill="#a9def3"/>
<rect x="101.24" y="571.72" width="10.32" height="5.985" fill="#a9def3"/>
<rect x="111.56" y="571.72" width="10.32" height="5.985" fill="#a9def3"/>
<rect x="121.88" y="571.72" width="10.32" height="5.985" fill="#c6eff1"/>
<rect x="132.20" y="571.72" width="10.32" height="5.985" fill="#ed4a23"/>
<rect x="29.00" y="577.71" width="10.32" height="5.985" fill="#a9def3"/>
<rect x="39.32" y="577.71" width="10.32" height="5.985" fill="#a9def3"/>
<rect x="49.64" y="577.71" width="10.32" height="5.985" fill="#a9def3"/>
<rect x="59.96" y="577.71" width="10.32" height="5.985" fill="#a9def3"/>
<rect x="70.28" y="577.71" width="10.32" height="5.985" fill="#a9def3"/>
<rect x="80.60" y="577.71" width="10.32" height="5.985" fill="#a9def3"/>
<rect x="90.92" y="577.71" width="10.32" height="5.985" fill="#a9def3"/>
<rect x="101.24" y="577.71" width="10.32" height="5.985" fill="#a9def3"/>
<rect x="111.56" y="577.71" width="10.32" height="5.985" fill="#a9def3"/>
<rect x="121.88" y="577.71" width="10.32" height="5.985" fill="#c6eff1"/>
<rect x="132.20" y="577.71" width="10.32" height="5.985" fill="#ed4a23"/>
<rect x="29.00" y="583.69" width="10.32" height="5.985" fill="#a9def3"/>
<rect x="39.32" y="583.69" width="10.32" height="5.985" fill="#a9def3"/>
<rect x="49.64" y="583.69" width="10.32" height="5.985" fill="#a9def3"/>
<rect x="59.96" y="583.69" width="10.32" height="5.985" fill="#a9def3"/>
<rect x="70.28" y="583.69" width="10.32" height="5.985" fill="#a9def3"/>
<rect x="80.60" y="583.69" width="10.32" height="5.985" fill="#a9def3"/>
<rect x="90.92" y="583.69" width="10.32" height="5.985" fill="#a9def3"/>
<rect x="101.24" y="583.69" width="10.32" height="5.985" fill="#a9def3"/>
<rect x="111.56" y="583.69" width="10.32" height="5.985" fill="#a9def3"/>
<rect x="121.88" y="583.69" width="10.32" height="5.985" fill="#c6eff1"/>
<rect x="132.20" y="583.69" width="10.32" height="5.985" fill="#ed4a23"/>
<rect x="29.00" y="589.68" width="10.32" height="5.985" fill="#a9def3"/>
<rect x="39.32" y="589.68" width="10.32" height="5.985" fill="#a9def3"/>
<rect x="49.64" y="589.68" width="10.32" height="5.985" fill="#a9def3"/>
<rect x="59.96" y="589.68" width="10.32" height="5.985" fill="#a9def3"/>
<rect x="70.28" y="589.68" width="10.32" height="5.985" fill="#a9def3"/>
<rect x="80.60" y="589.68" width="10.32" height="5.985" fill="#a9def3"/>
<rect x="90.92" y="589.68" width="10.32" height="5.985" fill="#a9def3"/>
<rect x="101.24" y="589.68" width="10.32" height="5.985" fill="#a9def3"/>
<rect x="111.56" y="589.68" width="10.32" height="5.985" fill="#a9def3"/>
<rect x="121.88" y="589.68" width="10.32" height="5.985" fill="#c6eff1"/>
<rect x="132.20" y="589.68" width="10.32" height="5.985" fill="#ed4a23"/>
<rect x="29.00" y="595.66" width="10.32" height="5.985" fill="#ede0a0"/>
<rect x="39.32" y="595.66" width="10.32" height="5.985" fill="#96d3f3"/>
<rect x="49.64" y="595.66" width="10.32" height="5.985" fill="#c6eff1"/>
<rect x="59.96" y="595.66" width="10.32" height="5.985" fill="#f8c45e"/>
<rect x="70.28" y="595.66" width="10.32" height="5.985" fill="#96d3f3"/>
<rect x="80.60" y="595.66" width="10.32" height="5.985" fill="#f8c45e"/>
<rect x="90.92" y="595.66" width="10.32" height="5.985" fill="#a9def3"/>
<rect x="101.24" y="595.66" width="10.32" height="5.985" fill="#c6eff1"/>
<rect x="111.56" y="595.66" width="10.32" height="5.985" fill="#64aae6"/>
<rect x="121.88" y="595.66" width="10.32" height="5.985" fill="#c6eff1"/>
<rect x="132.20" y="595.66" width="10.32" height="5.985" fill="#ed4a23"/>
<rect x="29.00" y="601.65" width="10.32" height="5.985" fill="#a9def3"/>
<rect x="39.32" y="601.65" width="10.32" height="5.985" fill="#a9def3"/>
<rect x="49.64" y="601.65" width="10.32" height="5.985" fill="#a9def3"/>
<rect x="59.96" y="601.65" width="10.32" height="5.985" fill="#a9def3"/>
<rect x="70.28" y="601.65" width="10.32" height="5.985" fill="#a9def3"/>
<rect x="80.60" y="601.65" width="10.32" height="5.985" fill="#a9def3"/>
<rect x="90.92" y="601.65" width="10.32" height="5.985" fill="#a9def3"/>
<rect x="101.24" y="601.65" width="10.32" height="5.985" fill="#a9def3"/>
<rect x="111.56" y="601.65" width="10.32" height="5.985" fill="#a9def3"/>
<rect x="121.88" y="601.65" width="10.32" height="5.985" fill="#c6eff1"/>
<rect x="132.20" y="601.65" width="10.32" height="5.985" fill="#ed4a23"/>
<rect x="29.00" y="607.63" width="10.32" height="5.985" fill="#c6eff1"/>
<rect x="39.32" y="607.63" width="10.32" height="5.985" fill="#96d3f3"/>
<rect x="49.64" y="607.63" width="10.32" height="5.985" fill="#c6eff1"/>
<rect x="59.96" y="607.63" width="10.32" height="5.985" fill="#f8c45e"/>
<rect x="70.28" y="607.63" width="10.32" height="5.985" fill="#96d3f3"/>
<rect x="80.60" y="607.63" width="10.32" height="5.985" fill="#c6eff1"/>
<rect x="90.92" y="607.63" width="10.32" height="5.985" fill="#a9def3"/>
<rect x="101.24" y="607.63" width="10.32" height="5.985" fill="#ede0a0"/>
<rect x="111.56" y="607.63" width="10.32" height="5.985" fill="#64aae6"/>
<rect x="121.88" y="607.63" width="10.32" height="5.985" fill="#c6eff1"/>
<rect x="132.20" y="607.63" width="10.32" height="5.985" fill="#ed4a23"/>
<path d="M29.00 21.10H142.52M29.00 27.09H142.52M29.00 33.07H142.52M29.00 39.06H142.52M29.00 45.04H142.52M29.00 51.03H142.52M29.00 57.01H142.52M29.00 63.00H142.52M29.00 68.98H142.52M29.00 74.97H142.52M29.00 80.95H142.52M29.00 86.94H142.52M29.00 92.92H142.52M29.00 98.91H142.52M29.00 104.89H142.52M29.00 110.88H142.52M29.00 116.86H142.52M29.00 122.84H142.52M29.00 128.83H142.52M29.00 134.81H142.52M29.00 140.80H142.52M29.00 146.78H142.52M29.00 152.77H142.52M29.00 158.75H142.52M29.00 164.74H142.52M29.00 170.72H142.52M29.00 176.71H142.52M29.00 182.69H142.52M29.00 188.68H142.52M29.00 194.66H142.52M29.00 200.65H142.52M29.00 206.63H142.52M29.00 212.62H142.52M29.00 218.61H142.52M29.00 224.59H142.52M29.00 230.58H142.52M29.00 236.56H142.52M29.00 242.55H142.52M29.00 248.53H142.52M29.00 254.52H142.52M29.00 260.50H142.52M29.00 266.49H142.52M29.00 272.47H142.52M29.00 278.46H142.52M29.00 284.44H142.52M29.00 290.43H142.52M29.00 296.41H142.52M29.00 302.40H142.52M29.00 308.38H142.52M29.00 314.37H142.52M29.00 320.35H142.52M29.00 326.34H142.52M29.00 332.32H142.52M29.00 338.31H142.52M29.00 344.29H142.52M29.00 350.28H142.52M29.00 356.26H142.52M29.00 362.25H142.52M29.00 368.23H142.52M29.00 374.22H142.52M29.00 380.20H142.52M29.00 386.19H142.52M29.00 392.17H142.52M29.00 398.16H142.52M29.00 404.14H142.52M29.00 410.13H142.52M29.00 416.11H142.52M29.00 422.10H142.52M29.00 428.08H142.52M29.00 434.07H142.52M29.00 440.05H142.52M29.00 446.04H142.52M29.00 452.02H142.52M29.00 458.01H142.52M29.00 463.99H142.52M29.00 469.98H142.52M29.00 475.96H142.52M29.00 481.95H142.52M29.00 487.93H142.52M29.00 493.92H142.52M29.00 499.90H142.52M29.00 505.89H142.52M29.00 511.87H142.52M29.00 517.86H142.52M29.00 523.84H142.52M29.00 529.83H142.52M29.00 535.81H142.52M29.00 541.80H142.52M29.00 547.78H142.52M29.00 553.77H142.52M29.00 559.75H142.52M29.00 565.74H142.52M29.00 571.72H142.52M29.00 577.71H142.52M29.00 583.69H142.52M29.00 589.68H142.52M29.00 595.66H142.52M29.00 601.65H142.52M29.00 607.63H142.52M29.00 613.62H142.52M29.00 21.10V613.62M39.32 21.10V613.62M49.64 21.10V613.62M59.96 21.10V613.62M70.28 21.10V613.62M80.60 21.10V613.62M90.92 21.10V613.62M101.24 21.10V613.62M111.56 21.10V613.62M121.88 21.10V613.62M132.20 21.10V613.62M142.52 21.10V613.62" stroke="#111c24" stroke-width="0.95" fill="none"/>
<text transform="translate(145.20,26.84) scale(0.99,1)" font-size="6.4" font-style="italic" text-anchor="start" fill="#151515" style="stroke:none">TRAV41</text>
<text transform="translate(145.20,32.83) scale(0.99,1)" font-size="6.4" font-style="italic" text-anchor="start" fill="#151515" style="stroke:none">TRBV7−2</text>
<text transform="translate(145.20,38.81) scale(0.99,1)" font-size="6.4" font-style="italic" text-anchor="start" fill="#151515" style="stroke:none">AQP3</text>
<text transform="translate(145.20,44.80) scale(0.99,1)" font-size="6.4" font-style="italic" text-anchor="start" fill="#151515" style="stroke:none">ID3</text>
<text transform="translate(145.20,50.78) scale(0.99,1)" font-size="6.4" font-style="italic" text-anchor="start" fill="#151515" style="stroke:none">PCSK1N</text>
<text transform="translate(145.20,56.77) scale(0.99,1)" font-size="6.4" font-style="italic" text-anchor="start" fill="#151515" style="stroke:none">CRIP2</text>
<text transform="translate(145.20,62.75) scale(0.99,1)" font-size="6.4" font-style="italic" text-anchor="start" fill="#151515" style="stroke:none">LSR</text>
<text transform="translate(145.20,68.74) scale(0.99,1)" font-size="6.4" font-style="italic" text-anchor="start" fill="#151515" style="stroke:none">TPO</text>
<text transform="translate(145.20,74.72) scale(0.99,1)" font-size="6.4" font-style="italic" text-anchor="start" fill="#151515" style="stroke:none">KIR3DL2</text>
<text transform="translate(145.20,80.71) scale(0.99,1)" font-size="6.4" font-style="italic" text-anchor="start" fill="#151515" style="stroke:none">HACD1</text>
<text transform="translate(145.20,86.69) scale(0.99,1)" font-size="6.4" font-style="italic" text-anchor="start" fill="#151515" style="stroke:none">AIRE</text>
<text transform="translate(145.20,92.68) scale(0.99,1)" font-size="6.4" font-style="italic" text-anchor="start" fill="#151515" style="stroke:none">EPHB6</text>
<text transform="translate(145.20,98.66) scale(0.99,1)" font-size="6.4" font-style="italic" text-anchor="start" fill="#151515" style="stroke:none">PDLIM1</text>
<text transform="translate(145.20,104.65) scale(0.99,1)" font-size="6.4" font-style="italic" text-anchor="start" fill="#151515" style="stroke:none">DDIT4</text>
<text transform="translate(145.20,110.63) scale(0.99,1)" font-size="6.4" font-style="italic" text-anchor="start" fill="#151515" style="stroke:none">TRGV2</text>
<text transform="translate(145.20,116.62) scale(0.99,1)" font-size="6.4" font-style="italic" text-anchor="start" fill="#151515" style="stroke:none">LPAR6</text>
<text transform="translate(145.20,122.60) scale(0.99,1)" font-size="6.4" font-style="italic" text-anchor="start" fill="#151515" style="stroke:none">ST6GALNAC1</text>
<text transform="translate(145.20,128.59) scale(0.99,1)" font-size="6.4" font-style="italic" text-anchor="start" fill="#151515" style="stroke:none">MDS2</text>
<text transform="translate(145.20,134.57) scale(0.99,1)" font-size="6.4" font-style="italic" text-anchor="start" fill="#151515" style="stroke:none">CPNE2</text>
<text transform="translate(145.20,140.56) scale(0.99,1)" font-size="6.4" font-style="italic" text-anchor="start" fill="#151515" style="stroke:none">CXCL13</text>
<text transform="translate(145.20,146.54) scale(0.99,1)" font-size="6.4" font-style="italic" text-anchor="start" fill="#151515" style="stroke:none">IGFBP4</text>
<text transform="translate(145.20,152.53) scale(0.99,1)" font-size="6.4" font-style="italic" text-anchor="start" fill="#151515" style="stroke:none">ITM2C</text>
<text transform="translate(145.20,158.51) scale(0.99,1)" font-size="6.4" font-style="italic" text-anchor="start" fill="#151515" style="stroke:none">PTMS</text>
<text transform="translate(145.20,164.50) scale(0.99,1)" font-size="6.4" font-style="italic" text-anchor="start" fill="#151515" style="stroke:none">GNG4</text>
<text transform="translate(145.20,170.48) scale(0.99,1)" font-size="6.4" font-style="italic" text-anchor="start" fill="#151515" style="stroke:none">NINJ2</text>
<text transform="translate(145.20,176.47) scale(0.99,1)" font-size="6.4" font-style="italic" text-anchor="start" fill="#151515" style="stroke:none">CCR10</text>
<text transform="translate(145.20,182.45) scale(0.99,1)" font-size="6.4" font-style="italic" text-anchor="start" fill="#151515" style="stroke:none">ANAPC1</text>
<text transform="translate(145.20,188.44) scale(0.99,1)" font-size="6.4" font-style="italic" text-anchor="start" fill="#151515" style="stroke:none">RPS4Y1</text>
<text transform="translate(145.20,194.42) scale(0.99,1)" font-size="6.4" font-style="italic" text-anchor="start" fill="#151515" style="stroke:none">CD7</text>
<text transform="translate(145.20,200.41) scale(0.99,1)" font-size="6.4" font-style="italic" text-anchor="start" fill="#151515" style="stroke:none">CTD−2192J16.22</text>
<text transform="translate(145.20,206.39) scale(0.99,1)" font-size="6.4" font-style="italic" text-anchor="start" fill="#151515" style="stroke:none">LINC00861</text>
<text transform="translate(145.20,212.38) scale(0.99,1)" font-size="6.4" font-style="italic" text-anchor="start" fill="#151515" style="stroke:none">PCED1B</text>
<text transform="translate(145.20,218.36) scale(0.99,1)" font-size="6.4" font-style="italic" text-anchor="start" fill="#151515" style="stroke:none">KLRB1</text>
<text transform="translate(145.20,224.35) scale(0.99,1)" font-size="6.4" font-style="italic" text-anchor="start" fill="#151515" style="stroke:none">OXNAD1</text>
<text transform="translate(145.20,230.33) scale(0.99,1)" font-size="6.4" font-style="italic" text-anchor="start" fill="#151515" style="stroke:none">SATB1</text>
<text transform="translate(145.20,236.32) scale(0.99,1)" font-size="6.4" font-style="italic" text-anchor="start" fill="#151515" style="stroke:none">CHRM3−AS2</text>
<text transform="translate(145.20,242.30) scale(0.99,1)" font-size="6.4" font-style="italic" text-anchor="start" fill="#151515" style="stroke:none">TRBV14</text>
<text transform="translate(145.20,248.29) scale(0.99,1)" font-size="6.4" font-style="italic" text-anchor="start" fill="#151515" style="stroke:none">IL7R</text>
<text transform="translate(145.20,254.27) scale(0.99,1)" font-size="6.4" font-style="italic" text-anchor="start" fill="#151515" style="stroke:none">LTB</text>
<text transform="translate(145.20,260.26) scale(0.99,1)" font-size="6.4" font-style="italic" text-anchor="start" fill="#151515" style="stroke:none">AC092580.4</text>
<text transform="translate(145.20,266.24) scale(0.99,1)" font-size="6.4" font-style="italic" text-anchor="start" fill="#151515" style="stroke:none">NPDC1</text>
<text transform="translate(145.20,272.23) scale(0.99,1)" font-size="6.4" font-style="italic" text-anchor="start" fill="#151515" style="stroke:none">ID2</text>
<text transform="translate(145.20,278.21) scale(0.99,1)" font-size="6.4" font-style="italic" text-anchor="start" fill="#151515" style="stroke:none">NELL2</text>
<text transform="translate(145.20,284.20) scale(0.99,1)" font-size="6.4" font-style="italic" text-anchor="start" fill="#151515" style="stroke:none">ERN1</text>
<text transform="translate(145.20,290.18) scale(0.99,1)" font-size="6.4" font-style="italic" text-anchor="start" fill="#151515" style="stroke:none">RP11−356J5.12</text>
<text transform="translate(145.20,296.17) scale(0.99,1)" font-size="6.4" font-style="italic" text-anchor="start" fill="#151515" style="stroke:none">HBB</text>
<text transform="translate(145.20,302.15) scale(0.99,1)" font-size="6.4" font-style="italic" text-anchor="start" fill="#151515" style="stroke:none">ALAS2</text>
<text transform="translate(145.20,308.14) scale(0.99,1)" font-size="6.4" font-style="italic" text-anchor="start" fill="#151515" style="stroke:none">HBA1</text>
<text transform="translate(145.20,314.12) scale(0.99,1)" font-size="6.4" font-style="italic" text-anchor="start" fill="#151515" style="stroke:none">SLC25A37</text>
<text transform="translate(145.20,320.11) scale(0.99,1)" font-size="6.4" font-style="italic" text-anchor="start" fill="#151515" style="stroke:none">HBM</text>
<text transform="translate(145.20,326.09) scale(0.99,1)" font-size="6.4" font-style="italic" text-anchor="start" fill="#151515" style="stroke:none">HBA2</text>
<text transform="translate(145.20,332.08) scale(0.99,1)" font-size="6.4" font-style="italic" text-anchor="start" fill="#151515" style="stroke:none">TRIM58</text>
<text transform="translate(145.20,338.06) scale(0.99,1)" font-size="6.4" font-style="italic" text-anchor="start" fill="#151515" style="stroke:none">FAM210B</text>
<text transform="translate(145.20,344.05) scale(0.99,1)" font-size="6.4" font-style="italic" text-anchor="start" fill="#151515" style="stroke:none">DCAF12</text>
<text transform="translate(145.20,350.03) scale(0.99,1)" font-size="6.4" font-style="italic" text-anchor="start" fill="#151515" style="stroke:none">SLC25A39</text>
<text transform="translate(145.20,356.02) scale(0.99,1)" font-size="6.4" font-style="italic" text-anchor="start" fill="#151515" style="stroke:none">NKG7</text>
<text transform="translate(145.20,362.00) scale(0.99,1)" font-size="6.4" font-style="italic" text-anchor="start" fill="#151515" style="stroke:none">GZMB</text>
<text transform="translate(145.20,367.99) scale(0.99,1)" font-size="6.4" font-style="italic" text-anchor="start" fill="#151515" style="stroke:none">GZMH</text>
<text transform="translate(145.20,373.97) scale(0.99,1)" font-size="6.4" font-style="italic" text-anchor="start" fill="#151515" style="stroke:none">FGFBP2</text>
<text transform="translate(145.20,379.96) scale(0.99,1)" font-size="6.4" font-style="italic" text-anchor="start" fill="#151515" style="stroke:none">CCL4</text>
<text transform="translate(145.20,385.94) scale(0.99,1)" font-size="6.4" font-style="italic" text-anchor="start" fill="#151515" style="stroke:none">CCL5</text>
<text transform="translate(145.20,391.93) scale(0.99,1)" font-size="6.4" font-style="italic" text-anchor="start" fill="#151515" style="stroke:none">GZMA</text>
<text transform="translate(145.20,397.91) scale(0.99,1)" font-size="6.4" font-style="italic" text-anchor="start" fill="#151515" style="stroke:none">CTSW</text>
<text transform="translate(145.20,403.90) scale(0.99,1)" font-size="6.4" font-style="italic" text-anchor="start" fill="#151515" style="stroke:none">KLRD1</text>
<text transform="translate(145.20,409.88) scale(0.99,1)" font-size="6.4" font-style="italic" text-anchor="start" fill="#151515" style="stroke:none">PRF1</text>
<text transform="translate(145.20,415.87) scale(0.99,1)" font-size="6.4" font-style="italic" text-anchor="start" fill="#151515" style="stroke:none">MT−ATP8</text>
<text transform="translate(145.20,421.85) scale(0.99,1)" font-size="6.4" font-style="italic" text-anchor="start" fill="#151515" style="stroke:none">NEAT1</text>
<text transform="translate(145.20,427.84) scale(0.99,1)" font-size="6.4" font-style="italic" text-anchor="start" fill="#151515" style="stroke:none">XIST</text>
<text transform="translate(145.20,433.82) scale(0.99,1)" font-size="6.4" font-style="italic" text-anchor="start" fill="#151515" style="stroke:none">TTN</text>
<text transform="translate(145.20,439.81) scale(0.99,1)" font-size="6.4" font-style="italic" text-anchor="start" fill="#151515" style="stroke:none">KLF6</text>
<text transform="translate(145.20,445.79) scale(0.99,1)" font-size="6.4" font-style="italic" text-anchor="start" fill="#151515" style="stroke:none">ZEB2</text>
<text transform="translate(145.20,451.78) scale(0.99,1)" font-size="6.4" font-style="italic" text-anchor="start" fill="#151515" style="stroke:none">ANKRD36B</text>
<text transform="translate(145.20,457.76) scale(0.99,1)" font-size="6.4" font-style="italic" text-anchor="start" fill="#151515" style="stroke:none">CSF3R</text>
<text transform="translate(145.20,463.75) scale(0.99,1)" font-size="6.4" font-style="italic" text-anchor="start" fill="#151515" style="stroke:none">NPIPB5</text>
<text transform="translate(145.20,469.73) scale(0.99,1)" font-size="6.4" font-style="italic" text-anchor="start" fill="#151515" style="stroke:none">MTRNR2L12</text>
<text transform="translate(145.20,475.72) scale(0.99,1)" font-size="6.4" font-style="italic" text-anchor="start" fill="#151515" style="stroke:none">HBD</text>
<text transform="translate(145.20,481.70) scale(0.99,1)" font-size="6.4" font-style="italic" text-anchor="start" fill="#151515" style="stroke:none">CA1</text>
<text transform="translate(145.20,487.69) scale(0.99,1)" font-size="6.4" font-style="italic" text-anchor="start" fill="#151515" style="stroke:none">AHSP</text>
<text transform="translate(145.20,493.67) scale(0.99,1)" font-size="6.4" font-style="italic" text-anchor="start" fill="#151515" style="stroke:none">SNCA</text>
<text transform="translate(145.20,499.66) scale(0.99,1)" font-size="6.4" font-style="italic" text-anchor="start" fill="#151515" style="stroke:none">SELENBP1</text>
<text transform="translate(145.20,505.64) scale(0.99,1)" font-size="6.4" font-style="italic" text-anchor="start" fill="#151515" style="stroke:none">TYMS</text>
<text transform="translate(145.20,511.63) scale(0.99,1)" font-size="6.4" font-style="italic" text-anchor="start" fill="#151515" style="stroke:none">RRM2</text>
<text transform="translate(145.20,517.61) scale(0.99,1)" font-size="6.4" font-style="italic" text-anchor="start" fill="#151515" style="stroke:none">TOP2A</text>
<text transform="translate(145.20,523.60) scale(0.99,1)" font-size="6.4" font-style="italic" text-anchor="start" fill="#151515" style="stroke:none">STMN1</text>
<text transform="translate(145.20,529.58) scale(0.99,1)" font-size="6.4" font-style="italic" text-anchor="start" fill="#151515" style="stroke:none">UBE2C</text>
<text transform="translate(145.20,535.57) scale(0.99,1)" font-size="6.4" font-style="italic" text-anchor="start" fill="#151515" style="stroke:none">BIRC5</text>
<text transform="translate(145.20,541.55) scale(0.99,1)" font-size="6.4" font-style="italic" text-anchor="start" fill="#151515" style="stroke:none">KIAA0101</text>
<text transform="translate(145.20,547.54) scale(0.99,1)" font-size="6.4" font-style="italic" text-anchor="start" fill="#151515" style="stroke:none">MKI67</text>
<text transform="translate(145.20,553.52) scale(0.99,1)" font-size="6.4" font-style="italic" text-anchor="start" fill="#151515" style="stroke:none">NUSAP1</text>
<text transform="translate(145.20,559.51) scale(0.99,1)" font-size="6.4" font-style="italic" text-anchor="start" fill="#151515" style="stroke:none">CDC20</text>
<text transform="translate(145.20,565.49) scale(0.99,1)" font-size="6.4" font-style="italic" text-anchor="start" fill="#151515" style="stroke:none">JCHAIN</text>
<text transform="translate(145.20,571.48) scale(0.99,1)" font-size="6.4" font-style="italic" text-anchor="start" fill="#151515" style="stroke:none">IGHA1</text>
<text transform="translate(145.20,577.46) scale(0.99,1)" font-size="6.4" font-style="italic" text-anchor="start" fill="#151515" style="stroke:none">MZB1</text>
<text transform="translate(145.20,583.45) scale(0.99,1)" font-size="6.4" font-style="italic" text-anchor="start" fill="#151515" style="stroke:none">IGLL5</text>
<text transform="translate(145.20,589.43) scale(0.99,1)" font-size="6.4" font-style="italic" text-anchor="start" fill="#151515" style="stroke:none">DERL3</text>
<text transform="translate(145.20,595.42) scale(0.99,1)" font-size="6.4" font-style="italic" text-anchor="start" fill="#151515" style="stroke:none">TXNDC5</text>
<text transform="translate(145.20,601.40) scale(0.99,1)" font-size="6.4" font-style="italic" text-anchor="start" fill="#151515" style="stroke:none">TRBV21−1</text>
<text transform="translate(145.20,607.39) scale(0.99,1)" font-size="6.4" font-style="italic" text-anchor="start" fill="#151515" style="stroke:none">TNFRSF17</text>
<text transform="translate(145.20,613.37) scale(0.99,1)" font-size="6.4" font-style="italic" text-anchor="start" fill="#151515" style="stroke:none">TRAV9−2</text>
<rect x="17.4" y="20.10" width="7.4" height="162.59" fill="#f04c20"/>
<rect x="17.4" y="182.69" width="7.4" height="59.85" fill="#1a4ca6"/>
<rect x="17.4" y="242.55" width="7.4" height="47.88" fill="#f04c20"/>
<rect x="17.4" y="290.43" width="7.4" height="209.48" fill="#1a4ca6"/>
<rect x="17.4" y="499.90" width="7.4" height="113.71" fill="#f04c20"/>
<rect x="17.4" y="20.10" width="7.4" height="593.51" fill="none" stroke="#3a1a10" stroke-width="0.8"/>
<text transform="translate(14.90,100.60) rotate(-90)" font-size="7.6" text-anchor="middle" fill="#111" textLength="32" lengthAdjust="spacingAndGlyphs">Malignant</text>
<text transform="translate(14.90,212.00) rotate(-90)" font-size="7.6" text-anchor="middle" fill="#111" textLength="46" lengthAdjust="spacingAndGlyphs">Nonmalignant</text>
<defs><linearGradient id="cb" x1="0" x2="1" y1="0" y2="0">
<stop offset="0" stop-color="#1a46a2"/><stop offset="0.18" stop-color="#3f86d4"/>
<stop offset="0.38" stop-color="#8fd0f3"/><stop offset="0.52" stop-color="#c8f1ef"/>
<stop offset="0.64" stop-color="#f4e2a0"/><stop offset="0.78" stop-color="#f8b04a"/>
<stop offset="1" stop-color="#ee4a22"/></linearGradient></defs>
<rect x="32.2" y="624.9" width="91" height="16" fill="url(#cb)" stroke="#333" stroke-width="0.7"/>
<text transform="translate(77.70,636.60)" font-size="10" text-anchor="middle" fill="#1a1a1a" style="stroke:none">mRNA</text>
<text transform="translate(25.80,650.30)" font-size="7.8" text-anchor="start" fill="#111">Low</text>
<text transform="translate(115.80,650.30)" font-size="7.8" text-anchor="start" fill="#111">High</text>
<text transform="translate(236.60,9.90)" font-size="11.2" font-weight="bold" text-anchor="start" fill="#000" textLength="7.4" lengthAdjust="spacingAndGlyphs" style="stroke:none">B</text>
<line x1="267.7" y1="45.2" x2="520" y2="45.2" stroke="#2a2a2a" stroke-width="1.1" stroke-dasharray="5.1 3.95"/>
<line x1="323.6" y1="21.3" x2="323.6" y2="86.0" stroke="#2a2a2a" stroke-width="1.1" stroke-dasharray="4.8 4.6"/>
<line x1="407.0" y1="21.3" x2="407.0" y2="82.3" stroke="#2a2a2a" stroke-width="1.1" stroke-dasharray="4.8 4.6"/>
<line x1="491.0" y1="21.3" x2="491.0" y2="82.3" stroke="#2a2a2a" stroke-width="1.1" stroke-dasharray="4.8 4.6"/>
<line x1="267.7" y1="125.4" x2="520" y2="125.4" stroke="#2a2a2a" stroke-width="1.1" stroke-dasharray="5.1 3.95"/>
<line x1="323.6" y1="102.9" x2="323.6" y2="161.8" stroke="#2a2a2a" stroke-width="1.1" stroke-dasharray="4.8 4.6"/>
<line x1="407.0" y1="102.9" x2="407.0" y2="161.8" stroke="#2a2a2a" stroke-width="1.1" stroke-dasharray="4.8 4.6"/>
<line x1="491.0" y1="102.9" x2="491.0" y2="161.8" stroke="#2a2a2a" stroke-width="1.1" stroke-dasharray="4.8 4.6"/>
<line x1="267.7" y1="202.4" x2="520" y2="202.4" stroke="#2a2a2a" stroke-width="1.1" stroke-dasharray="5.1 3.95"/>
<line x1="323.6" y1="180.6" x2="323.6" y2="240.0" stroke="#2a2a2a" stroke-width="1.1" stroke-dasharray="4.8 4.6"/>
<line x1="407.0" y1="180.6" x2="407.0" y2="240.0" stroke="#2a2a2a" stroke-width="1.1" stroke-dasharray="4.8 4.6"/>
<line x1="491.0" y1="180.6" x2="491.0" y2="240.0" stroke="#2a2a2a" stroke-width="1.1" stroke-dasharray="4.8 4.6"/>
<path d="M364.20 48.90C364.67 47.63 366.47 46.33 368.30 45.40C370.13 44.47 372.67 43.88 375.20 43.30C377.73 42.72 380.72 42.02 383.50 41.90C386.28 41.78 388.88 42.72 391.90 42.60C394.92 42.48 398.15 41.67 401.60 41.20C405.05 40.73 409.38 39.92 412.60 39.80C415.82 39.68 418.58 40.03 420.90 40.50C423.22 40.97 425.22 41.78 426.50 42.60C427.78 43.42 428.60 44.13 428.60 45.40C428.60 46.67 427.78 48.23 426.50 50.20C425.22 52.17 422.98 54.88 420.90 57.20C418.82 59.52 416.30 61.80 414.00 64.10C411.70 66.40 409.63 68.92 407.10 71.00C404.57 73.08 401.57 75.22 398.80 76.60C396.03 77.98 392.47 79.30 390.50 79.30C388.53 79.30 388.17 78.22 387.00 76.60C385.83 74.98 385.00 71.33 383.50 69.60C382.00 67.87 379.83 67.00 378.00 66.20C376.17 65.40 373.77 65.38 372.50 64.80C371.23 64.22 370.17 63.40 370.40 62.70C370.63 62.00 374.02 61.52 373.90 60.60C373.78 59.68 371.10 58.47 369.70 57.20C368.30 55.93 366.42 54.38 365.50 53.00C364.58 51.62 363.73 50.17 364.20 48.90Z" fill="#e8e8e3" stroke="#bdbd80" stroke-width="0.68"/>
<path d="M380.42 50.90C380.98 50.19 381.89 49.50 382.81 48.89C383.73 48.29 384.68 47.81 385.94 47.27C387.19 46.72 388.69 46.08 390.32 45.62C391.95 45.17 393.48 45.00 395.73 44.51C397.98 44.03 401.07 43.01 403.83 42.71C406.59 42.41 410.08 42.46 412.30 42.69C414.53 42.92 415.94 43.51 417.17 44.08C418.40 44.66 419.16 45.43 419.69 46.12C420.23 46.80 420.46 47.32 420.38 48.18C420.30 49.04 420.02 49.96 419.22 51.28C418.43 52.59 417.07 54.49 415.62 56.06C414.17 57.64 412.19 59.33 410.51 60.73C408.82 62.13 407.20 63.33 405.49 64.44C403.78 65.55 401.88 66.69 400.25 67.40C398.62 68.12 396.83 68.60 395.69 68.74C394.55 68.87 394.62 68.49 393.43 68.21C392.24 67.94 390.74 67.43 388.54 67.09C386.35 66.74 382.27 66.71 380.25 66.16C378.24 65.61 377.17 64.60 376.46 63.79C375.76 62.99 375.84 61.97 376.02 61.32C376.20 60.66 377.11 60.71 377.53 59.84C377.96 58.97 378.27 57.22 378.58 56.11C378.90 54.99 379.13 54.01 379.44 53.15C379.75 52.28 379.86 51.61 380.42 50.90Z" fill="rgba(175,180,60,0.07)" stroke="#a5a536" stroke-width="0.68"/>
<path d="M388.84 51.74C389.31 51.30 389.80 50.88 390.39 50.45C390.97 50.02 391.56 49.65 392.36 49.19C393.16 48.72 394.08 48.20 395.18 47.65C396.28 47.11 397.13 46.44 398.96 45.93C400.80 45.42 403.96 44.84 406.18 44.58C408.41 44.32 410.73 44.19 412.29 44.38C413.86 44.57 414.83 45.18 415.57 45.73C416.31 46.28 416.56 47.07 416.76 47.68C416.96 48.30 416.91 48.76 416.77 49.43C416.64 50.11 416.50 50.79 415.92 51.74C415.34 52.69 414.35 54.06 413.29 55.12C412.23 56.19 410.84 57.25 409.58 58.15C408.31 59.05 406.91 59.87 405.70 60.52C404.50 61.16 403.47 61.53 402.36 62.01C401.24 62.48 399.92 62.99 399.00 63.34C398.08 63.70 398.02 63.82 396.86 64.12C395.69 64.43 393.83 65.21 392.02 65.20C390.21 65.18 387.32 64.67 386.01 64.03C384.69 63.40 384.45 62.19 384.14 61.39C383.82 60.59 384.10 59.76 384.14 59.24C384.19 58.73 384.09 58.98 384.39 58.30C384.69 57.62 385.44 56.04 385.96 55.17C386.49 54.30 387.07 53.65 387.55 53.08C388.03 52.51 388.36 52.18 388.84 51.74Z" fill="rgba(175,180,60,0.07)" stroke="#a5a536" stroke-width="0.68"/>
<path d="M393.08 51.70C393.57 51.33 394.08 50.99 394.60 50.64C395.12 50.29 395.56 49.98 396.20 49.60C396.85 49.21 397.48 48.74 398.49 48.33C399.50 47.92 400.80 47.62 402.26 47.15C403.72 46.68 405.53 45.81 407.24 45.51C408.95 45.22 411.19 45.18 412.53 45.38C413.87 45.58 414.68 46.22 415.30 46.73C415.91 47.24 416.07 47.90 416.22 48.43C416.37 48.95 416.32 49.31 416.20 49.86C416.09 50.40 415.97 50.93 415.51 51.69C415.05 52.44 414.29 53.50 413.44 54.38C412.58 55.26 411.41 56.21 410.38 56.95C409.34 57.69 408.29 58.26 407.24 58.84C406.20 59.42 405.12 59.96 404.11 60.42C403.11 60.88 401.92 61.35 401.22 61.59C400.51 61.84 400.59 61.81 399.89 61.90C399.18 61.98 398.37 62.16 397.01 62.08C395.66 62.01 393.04 61.86 391.73 61.47C390.42 61.08 389.68 60.29 389.17 59.72C388.67 59.16 388.74 58.47 388.67 58.07C388.60 57.66 388.52 57.87 388.74 57.30C388.96 56.73 389.52 55.38 390.01 54.64C390.50 53.90 391.17 53.33 391.69 52.84C392.20 52.35 392.60 52.07 393.08 51.70Z" fill="rgba(175,180,60,0.07)" stroke="#a5a536" stroke-width="0.68"/>
<path d="M397.00 51.66C397.37 51.36 397.72 51.08 398.15 50.80C398.58 50.51 398.95 50.25 399.56 49.96C400.17 49.66 401.05 49.36 401.81 49.01C402.56 48.65 403.01 48.25 404.10 47.84C405.20 47.42 406.92 46.71 408.38 46.53C409.84 46.34 411.75 46.52 412.86 46.73C413.96 46.94 414.53 47.39 415.01 47.78C415.50 48.16 415.63 48.66 415.76 49.06C415.89 49.46 415.86 49.75 415.77 50.18C415.68 50.61 415.61 51.04 415.24 51.65C414.86 52.27 414.24 53.16 413.53 53.88C412.83 54.60 411.90 55.33 411.03 55.97C410.16 56.60 409.18 57.19 408.31 57.68C407.44 58.17 406.50 58.62 405.81 58.89C405.12 59.16 404.59 59.18 404.15 59.28C403.71 59.38 403.82 59.35 403.14 59.50C402.47 59.65 401.46 60.08 400.07 60.18C398.68 60.28 395.99 60.38 394.80 60.09C393.61 59.81 393.26 59.00 392.94 58.48C392.62 57.96 392.85 57.34 392.87 56.98C392.90 56.62 392.81 56.79 393.08 56.30C393.36 55.81 394.04 54.67 394.51 54.05C394.99 53.43 395.52 52.98 395.94 52.58C396.35 52.18 396.63 51.96 397.00 51.66Z" fill="rgba(175,180,60,0.07)" stroke="#a5a536" stroke-width="0.68"/>
<path d="M400.58 51.63C400.91 51.39 401.27 51.17 401.64 50.95C402.00 50.73 402.39 50.55 402.78 50.30C403.17 50.05 403.50 49.76 404.00 49.46C404.50 49.15 404.81 48.74 405.76 48.45C406.72 48.16 408.53 47.86 409.75 47.74C410.97 47.61 412.24 47.58 413.09 47.70C413.93 47.82 414.43 48.16 414.83 48.46C415.22 48.76 415.34 49.18 415.44 49.51C415.54 49.83 415.52 50.07 415.45 50.42C415.37 50.78 415.31 51.12 415.00 51.62C414.70 52.12 414.20 52.83 413.63 53.42C413.05 54.01 412.27 54.65 411.57 55.16C410.87 55.67 410.05 56.15 409.43 56.47C408.80 56.79 408.40 56.84 407.84 57.06C407.29 57.27 406.57 57.56 406.09 57.75C405.60 57.93 405.56 58.00 404.93 58.18C404.30 58.35 403.32 58.77 402.29 58.80C401.27 58.82 399.57 58.62 398.77 58.32C397.98 58.01 397.74 57.38 397.52 56.96C397.30 56.54 397.43 56.08 397.44 55.80C397.45 55.51 397.38 55.65 397.56 55.27C397.75 54.89 398.19 54.01 398.54 53.52C398.89 53.04 399.31 52.67 399.65 52.36C399.99 52.04 400.25 51.86 400.58 51.63Z" fill="rgba(175,180,60,0.07)" stroke="#a5a536" stroke-width="0.68"/>
<path d="M403.68 51.60C403.89 51.42 404.09 51.25 404.29 51.07C404.49 50.89 404.61 50.73 404.88 50.52C405.15 50.32 405.39 50.06 405.91 49.85C406.43 49.64 407.19 49.49 407.97 49.27C408.76 49.05 409.74 48.64 410.62 48.51C411.50 48.37 412.60 48.36 413.27 48.47C413.94 48.57 414.34 48.87 414.65 49.11C414.96 49.36 415.05 49.68 415.13 49.94C415.21 50.20 415.19 50.38 415.13 50.66C415.07 50.93 415.03 51.20 414.79 51.60C414.55 51.99 414.15 52.56 413.70 53.02C413.26 53.47 412.63 53.97 412.12 54.33C411.61 54.68 411.15 54.88 410.64 55.15C410.13 55.43 409.56 55.73 409.04 55.98C408.52 56.22 407.88 56.49 407.51 56.63C407.13 56.77 407.17 56.75 406.78 56.82C406.39 56.88 405.89 57.03 405.16 57.01C404.42 56.99 403.03 56.92 402.38 56.70C401.73 56.49 401.47 56.03 401.27 55.72C401.07 55.40 401.19 55.04 401.19 54.82C401.20 54.60 401.14 54.71 401.30 54.41C401.47 54.12 401.87 53.43 402.16 53.05C402.45 52.67 402.79 52.40 403.05 52.16C403.30 51.91 403.48 51.78 403.68 51.60Z" fill="rgba(175,180,60,0.07)" stroke="#a5a536" stroke-width="0.68"/>
<path d="M406.27 51.57C406.42 51.44 406.56 51.31 406.75 51.18C406.94 51.05 407.13 50.93 407.43 50.80C407.73 50.67 408.19 50.54 408.57 50.39C408.94 50.24 409.17 50.07 409.67 49.90C410.16 49.72 410.90 49.41 411.54 49.32C412.17 49.23 412.99 49.26 413.48 49.34C413.97 49.41 414.24 49.61 414.47 49.79C414.69 49.96 414.75 50.19 414.81 50.38C414.87 50.56 414.85 50.70 414.81 50.89C414.77 51.09 414.73 51.29 414.56 51.57C414.39 51.85 414.10 52.24 413.79 52.55C413.49 52.86 413.10 53.15 412.72 53.43C412.34 53.70 411.90 53.98 411.50 54.22C411.10 54.45 410.66 54.68 410.33 54.81C410.00 54.95 409.74 54.97 409.53 55.03C409.32 55.08 409.35 55.08 409.06 55.14C408.76 55.20 408.32 55.38 407.76 55.39C407.20 55.40 406.17 55.36 405.71 55.21C405.24 55.06 405.10 54.72 404.97 54.49C404.84 54.27 404.91 54.01 404.91 53.86C404.91 53.70 404.88 53.78 404.97 53.57C405.05 53.37 405.26 52.89 405.42 52.62C405.57 52.36 405.75 52.16 405.89 51.99C406.03 51.81 406.13 51.71 406.27 51.57Z" fill="rgba(175,180,60,0.07)" stroke="#a5a536" stroke-width="0.68"/>
<path d="M409.08 51.55C409.22 51.46 409.38 51.38 409.53 51.30C409.68 51.22 409.84 51.16 409.99 51.07C410.14 50.98 410.27 50.88 410.45 50.77C410.63 50.66 410.74 50.53 411.07 50.41C411.40 50.30 411.98 50.15 412.41 50.10C412.85 50.04 413.35 50.05 413.66 50.10C413.98 50.15 414.16 50.29 414.30 50.40C414.44 50.52 414.48 50.67 414.51 50.79C414.55 50.91 414.54 51.00 414.51 51.12C414.48 51.25 414.46 51.37 414.35 51.54C414.24 51.72 414.07 51.96 413.87 52.17C413.66 52.38 413.38 52.62 413.13 52.82C412.87 53.01 412.56 53.20 412.32 53.32C412.09 53.44 411.93 53.47 411.73 53.54C411.54 53.62 411.30 53.71 411.13 53.76C410.97 53.82 410.97 53.83 410.77 53.88C410.56 53.93 410.28 54.04 409.91 54.05C409.55 54.06 408.89 54.02 408.57 53.93C408.24 53.84 408.09 53.64 407.97 53.50C407.86 53.36 407.89 53.19 407.87 53.09C407.86 52.99 407.84 53.04 407.90 52.90C407.96 52.76 408.10 52.44 408.23 52.25C408.37 52.07 408.54 51.94 408.69 51.82C408.83 51.70 408.94 51.63 409.08 51.55Z" fill="rgba(175,180,60,0.07)" stroke="#a5a536" stroke-width="0.68"/>
<path d="M411.83 51.52C411.88 51.48 411.92 51.45 411.96 51.41C412.00 51.37 412.02 51.34 412.08 51.29C412.13 51.25 412.18 51.20 412.28 51.15C412.38 51.10 412.51 51.06 412.68 51.01C412.84 50.96 413.08 50.88 413.28 50.86C413.47 50.84 413.71 50.85 413.85 50.87C413.99 50.90 414.07 50.95 414.13 51.00C414.20 51.06 414.22 51.12 414.24 51.17C414.25 51.23 414.25 51.26 414.24 51.32C414.23 51.38 414.22 51.44 414.17 51.52C414.12 51.61 414.03 51.73 413.94 51.83C413.84 51.93 413.70 52.04 413.59 52.12C413.48 52.20 413.38 52.24 413.27 52.29C413.16 52.35 413.05 52.40 412.95 52.45C412.85 52.49 412.73 52.54 412.65 52.57C412.58 52.59 412.59 52.59 412.49 52.61C412.40 52.63 412.27 52.68 412.09 52.69C411.91 52.70 411.57 52.70 411.42 52.65C411.27 52.61 411.23 52.50 411.20 52.43C411.16 52.36 411.20 52.27 411.21 52.22C411.22 52.17 411.20 52.20 411.25 52.13C411.29 52.07 411.41 51.91 411.48 51.83C411.55 51.75 411.63 51.69 411.69 51.64C411.75 51.59 411.79 51.56 411.83 51.52Z" fill="rgba(175,180,60,0.07)" stroke="#a5a536" stroke-width="0.68"/>
<path d="M446.60 30.00C446.83 28.58 448.10 27.23 449.40 26.40C450.70 25.57 452.38 25.17 454.40 25.00C456.42 24.83 458.67 25.10 461.50 25.40C464.33 25.70 468.08 26.28 471.40 26.80C474.72 27.32 478.30 27.73 481.40 28.50C484.50 29.27 487.15 30.22 490.00 31.40C492.85 32.58 495.90 34.18 498.50 35.60C501.10 37.02 503.35 38.35 505.60 39.90C507.85 41.45 511.05 43.48 512.00 44.90C512.95 46.32 512.37 47.10 511.30 48.40C510.23 49.70 507.97 51.27 505.60 52.70C503.23 54.13 499.95 55.82 497.10 57.00C494.25 58.18 491.35 59.45 488.50 59.80C485.65 60.15 482.85 59.68 480.00 59.10C477.15 58.52 474.25 57.48 471.40 56.30C468.55 55.12 465.50 53.67 462.90 52.00C460.30 50.33 457.82 48.32 455.80 46.30C453.78 44.28 452.10 41.80 450.80 39.90C449.50 38.00 448.70 36.55 448.00 34.90C447.30 33.25 446.37 31.42 446.60 30.00Z" fill="#e6e9e8" stroke="#7dcdc4" stroke-width="0.68"/>
<path d="M452.66 32.17C452.96 31.02 453.94 29.91 454.94 29.17C455.94 28.43 457.14 28.00 458.65 27.72C460.17 27.43 461.70 27.36 464.02 27.45C466.35 27.54 469.66 27.89 472.59 28.25C475.53 28.61 478.90 28.82 481.64 29.63C484.39 30.43 486.62 31.91 489.04 33.08C491.45 34.26 493.99 35.47 496.15 36.67C498.30 37.88 500.21 39.00 501.97 40.29C503.73 41.59 505.91 43.24 506.70 44.44C507.49 45.64 507.34 46.29 506.72 47.48C506.10 48.67 504.89 50.30 502.97 51.58C501.06 52.86 497.83 54.31 495.21 55.18C492.58 56.04 489.73 56.63 487.23 56.77C484.73 56.90 482.52 56.53 480.20 56.01C477.89 55.49 475.84 54.52 473.34 53.66C470.84 52.79 467.62 52.11 465.19 50.82C462.76 49.53 460.47 47.67 458.76 45.92C457.05 44.17 455.86 41.95 454.92 40.31C453.98 38.67 453.50 37.44 453.13 36.09C452.75 34.73 452.36 33.32 452.66 32.17Z" fill="rgba(70,190,180,0.05)" stroke="#45bdb2" stroke-width="0.68"/>
<path d="M456.65 33.60C457.04 32.64 458.00 31.76 458.90 31.15C459.80 30.53 460.82 30.20 462.08 29.91C463.33 29.62 464.48 29.45 466.42 29.40C468.35 29.35 471.09 29.20 473.68 29.60C476.27 30.01 479.50 31.08 481.96 31.82C484.43 32.57 486.33 33.18 488.47 34.09C490.60 35.00 493.07 36.19 494.78 37.29C496.48 38.38 497.63 39.54 498.69 40.66C499.75 41.78 500.69 43.04 501.13 44.00C501.58 44.96 501.67 45.42 501.37 46.42C501.07 47.43 500.72 48.91 499.36 50.03C497.99 51.16 495.37 52.54 493.16 53.18C490.95 53.83 488.21 53.92 486.09 53.91C483.98 53.91 482.42 53.46 480.48 53.15C478.53 52.83 476.44 52.70 474.44 52.05C472.43 51.40 470.30 50.37 468.44 49.26C466.58 48.14 464.95 46.79 463.29 45.36C461.64 43.93 459.63 42.08 458.51 40.67C457.39 39.25 456.88 38.06 456.57 36.88C456.26 35.70 456.27 34.55 456.65 33.60Z" fill="rgba(70,190,180,0.05)" stroke="#45bdb2" stroke-width="0.68"/>
<path d="M460.71 35.04C461.16 34.27 462.00 33.58 462.76 33.06C463.52 32.54 464.30 32.23 465.29 31.93C466.27 31.63 467.04 31.31 468.68 31.25C470.32 31.19 472.86 31.24 475.11 31.57C477.35 31.91 480.01 32.68 482.14 33.26C484.27 33.84 486.15 34.22 487.90 35.06C489.64 35.90 491.36 37.31 492.62 38.31C493.89 39.32 494.73 40.19 495.50 41.09C496.27 42.00 496.86 42.96 497.24 43.73C497.62 44.51 497.87 44.87 497.80 45.74C497.73 46.61 497.87 47.97 496.82 48.95C495.78 49.92 493.46 51.09 491.56 51.59C489.66 52.10 487.24 51.95 485.42 51.97C483.61 51.98 482.26 51.95 480.67 51.67C479.08 51.40 477.47 50.95 475.89 50.34C474.32 49.73 472.96 48.88 471.23 48.00C469.50 47.12 467.21 46.26 465.54 45.08C463.87 43.90 462.15 42.16 461.24 40.93C460.32 39.70 460.15 38.67 460.06 37.69C459.97 36.71 460.26 35.82 460.71 35.04Z" fill="rgba(70,190,180,0.05)" stroke="#45bdb2" stroke-width="0.68"/>
<path d="M464.18 36.29C464.54 35.63 465.25 35.03 465.91 34.60C466.56 34.18 467.26 33.93 468.14 33.71C469.02 33.50 469.78 33.32 471.18 33.30C472.58 33.29 474.68 33.46 476.52 33.63C478.36 33.79 480.49 33.79 482.23 34.29C483.96 34.79 485.47 35.82 486.94 36.61C488.40 37.41 489.92 38.29 491.04 39.09C492.16 39.88 492.98 40.62 493.67 41.37C494.36 42.13 494.85 42.97 495.18 43.63C495.50 44.29 495.70 44.60 495.62 45.34C495.54 46.07 495.60 47.20 494.72 48.04C493.84 48.88 491.94 49.90 490.34 50.37C488.74 50.85 486.68 50.92 485.13 50.90C483.59 50.88 482.36 50.59 481.05 50.25C479.75 49.92 478.72 49.36 477.30 48.89C475.87 48.42 474.05 48.14 472.51 47.46C470.97 46.77 469.34 45.81 468.05 44.78C466.76 43.75 465.50 42.31 464.78 41.27C464.06 40.23 463.84 39.37 463.74 38.54C463.64 37.71 463.82 36.94 464.18 36.29Z" fill="rgba(70,190,180,0.05)" stroke="#45bdb2" stroke-width="0.68"/>
<path d="M467.93 37.62C468.26 37.11 468.88 36.66 469.42 36.33C469.96 36.00 470.52 35.81 471.19 35.62C471.86 35.42 472.41 35.28 473.44 35.15C474.47 35.03 475.89 34.69 477.38 34.87C478.88 35.05 480.92 35.74 482.40 36.22C483.87 36.70 485.02 37.17 486.23 37.76C487.45 38.34 488.77 39.09 489.70 39.74C490.63 40.39 491.24 41.03 491.80 41.66C492.35 42.29 492.76 42.97 493.04 43.52C493.31 44.06 493.49 44.32 493.45 44.93C493.41 45.55 493.54 46.52 492.82 47.22C492.10 47.93 490.51 48.84 489.15 49.18C487.80 49.52 485.96 49.34 484.69 49.25C483.41 49.15 482.59 48.82 481.49 48.62C480.39 48.43 479.25 48.42 478.07 48.09C476.90 47.76 475.61 47.25 474.43 46.64C473.25 46.03 472.02 45.27 470.98 44.43C469.94 43.59 468.78 42.43 468.19 41.59C467.60 40.75 467.47 40.05 467.42 39.39C467.38 38.73 467.60 38.13 467.93 37.62Z" fill="rgba(70,190,180,0.05)" stroke="#45bdb2" stroke-width="0.68"/>
<path d="M470.93 38.69C471.12 38.25 471.50 37.84 471.87 37.53C472.23 37.22 472.61 37.02 473.12 36.83C473.63 36.63 474.00 36.41 474.91 36.36C475.81 36.31 477.27 36.34 478.54 36.55C479.81 36.76 481.34 37.29 482.53 37.65C483.71 38.01 484.67 38.26 485.64 38.71C486.62 39.17 487.64 39.84 488.40 40.37C489.15 40.91 489.69 41.40 490.15 41.91C490.61 42.42 490.96 42.98 491.18 43.42C491.40 43.87 491.54 44.08 491.47 44.57C491.41 45.06 491.43 45.83 490.80 46.35C490.16 46.88 488.76 47.45 487.68 47.70C486.60 47.95 485.30 47.83 484.31 47.84C483.32 47.85 482.60 47.88 481.72 47.76C480.84 47.63 479.93 47.42 479.03 47.10C478.13 46.78 477.23 46.34 476.30 45.85C475.37 45.35 474.28 44.80 473.45 44.14C472.63 43.48 471.83 42.56 471.37 41.89C470.91 41.23 470.79 40.69 470.71 40.16C470.64 39.62 470.74 39.13 470.93 38.69Z" fill="rgba(70,190,180,0.05)" stroke="#45bdb2" stroke-width="0.68"/>
<path d="M473.15 39.49C473.33 39.14 473.70 38.82 474.05 38.60C474.40 38.38 474.78 38.26 475.25 38.16C475.73 38.06 476.16 37.98 476.90 38.00C477.65 38.01 478.77 38.14 479.72 38.26C480.67 38.37 481.73 38.43 482.62 38.66C483.51 38.90 484.29 39.28 485.06 39.66C485.82 40.05 486.65 40.53 487.21 40.95C487.78 41.36 488.15 41.77 488.47 42.17C488.79 42.56 488.99 42.98 489.13 43.32C489.27 43.65 489.35 43.80 489.29 44.16C489.23 44.53 489.23 45.07 488.79 45.49C488.35 45.91 487.44 46.42 486.66 46.68C485.88 46.93 484.86 47.01 484.09 47.02C483.31 47.03 482.67 46.90 482.00 46.74C481.32 46.58 480.73 46.32 480.03 46.07C479.33 45.82 478.52 45.58 477.79 45.21C477.05 44.85 476.29 44.40 475.60 43.88C474.92 43.36 474.13 42.65 473.70 42.12C473.26 41.58 473.09 41.12 473.00 40.68C472.90 40.25 472.98 39.83 473.15 39.49Z" fill="rgba(70,190,180,0.05)" stroke="#45bdb2" stroke-width="0.68"/>
<path d="M476.26 40.60C476.43 40.37 476.73 40.19 476.99 40.05C477.25 39.91 477.50 39.83 477.81 39.75C478.11 39.67 478.36 39.62 478.81 39.57C479.27 39.51 479.89 39.39 480.55 39.45C481.20 39.51 482.08 39.74 482.73 39.93C483.38 40.13 483.93 40.36 484.46 40.63C484.99 40.91 485.51 41.29 485.89 41.59C486.28 41.89 486.54 42.15 486.78 42.42C487.03 42.70 487.22 42.99 487.35 43.22C487.48 43.46 487.56 43.57 487.56 43.84C487.56 44.12 487.65 44.55 487.35 44.87C487.05 45.20 486.37 45.62 485.77 45.78C485.17 45.94 484.34 45.86 483.76 45.82C483.19 45.78 482.80 45.64 482.32 45.54C481.83 45.44 481.36 45.38 480.85 45.22C480.34 45.06 479.82 44.85 479.26 44.59C478.70 44.33 478.01 44.03 477.51 43.65C477.00 43.28 476.48 42.74 476.22 42.36C475.97 41.97 475.95 41.66 475.95 41.37C475.96 41.07 476.09 40.82 476.26 40.60Z" fill="rgba(70,190,180,0.05)" stroke="#45bdb2" stroke-width="0.68"/>
<path d="M478.73 41.48C478.80 41.32 478.93 41.17 479.05 41.06C479.18 40.95 479.31 40.88 479.49 40.81C479.66 40.73 479.80 40.66 480.11 40.63C480.43 40.61 480.93 40.60 481.39 40.66C481.84 40.73 482.40 40.88 482.82 41.02C483.25 41.16 483.57 41.33 483.92 41.51C484.27 41.68 484.65 41.88 484.93 42.06C485.21 42.25 485.42 42.42 485.60 42.60C485.78 42.79 485.92 42.99 486.00 43.15C486.09 43.32 486.14 43.40 486.12 43.58C486.10 43.76 486.10 44.04 485.87 44.23C485.64 44.43 485.11 44.63 484.71 44.72C484.32 44.81 483.84 44.77 483.48 44.76C483.11 44.75 482.86 44.74 482.55 44.68C482.23 44.63 481.94 44.55 481.59 44.45C481.25 44.35 480.84 44.24 480.50 44.06C480.15 43.89 479.79 43.66 479.51 43.42C479.24 43.17 479.00 42.84 478.86 42.61C478.72 42.37 478.67 42.18 478.65 41.99C478.63 41.80 478.66 41.63 478.73 41.48Z" fill="rgba(70,190,180,0.05)" stroke="#45bdb2" stroke-width="0.68"/>
<path d="M480.90 42.25C480.93 42.18 481.01 42.11 481.08 42.06C481.15 42.01 481.23 41.98 481.33 41.96C481.43 41.93 481.52 41.91 481.68 41.91C481.83 41.91 482.07 41.92 482.28 41.95C482.48 41.99 482.73 42.05 482.92 42.10C483.11 42.16 483.27 42.21 483.44 42.28C483.61 42.36 483.80 42.46 483.93 42.55C484.05 42.64 484.13 42.73 484.20 42.82C484.26 42.90 484.30 43.00 484.33 43.07C484.36 43.14 484.38 43.17 484.36 43.25C484.35 43.33 484.34 43.45 484.25 43.54C484.15 43.62 483.95 43.73 483.78 43.78C483.61 43.83 483.39 43.84 483.23 43.84C483.06 43.84 482.94 43.81 482.79 43.79C482.64 43.76 482.49 43.73 482.34 43.68C482.19 43.63 482.03 43.56 481.88 43.47C481.74 43.39 481.60 43.29 481.46 43.18C481.31 43.07 481.14 42.93 481.04 42.81C480.94 42.70 480.90 42.60 480.88 42.51C480.85 42.41 480.87 42.33 480.90 42.25Z" fill="rgba(70,190,180,0.05)" stroke="#45bdb2" stroke-width="0.68"/>
<path d="M311.00 115.00C311.28 113.65 311.65 112.42 312.70 111.50C313.75 110.58 315.58 109.83 317.30 109.50C319.02 109.17 321.08 109.17 323.00 109.50C324.92 109.83 326.87 110.40 328.80 111.50C330.73 112.60 332.77 114.47 334.60 116.10C336.43 117.73 338.35 119.85 339.80 121.30C341.25 122.75 342.82 123.83 343.30 124.80C343.78 125.77 343.58 126.33 342.70 127.10C341.82 127.87 339.93 128.73 338.00 129.40C336.07 130.07 333.60 130.82 331.10 131.10C328.60 131.38 325.50 131.48 323.00 131.10C320.50 130.72 317.82 129.95 316.10 128.80C314.38 127.65 313.55 125.73 312.70 124.20C311.85 122.67 311.28 121.13 311.00 119.60C310.72 118.07 310.72 116.35 311.00 115.00Z" fill="#fbe2e1" stroke="#f2a09e" stroke-width="0.68"/>
<path d="M314.68 116.42C314.85 115.27 314.99 114.16 315.79 113.33C316.60 112.51 318.07 111.78 319.50 111.47C320.93 111.17 322.77 111.27 324.39 111.50C326.02 111.74 327.57 111.89 329.25 112.87C330.93 113.84 332.86 115.92 334.47 117.37C336.07 118.82 337.74 120.38 338.88 121.56C340.02 122.74 340.97 123.64 341.31 124.46C341.65 125.27 341.58 125.73 340.95 126.45C340.31 127.16 339.09 128.12 337.52 128.75C335.94 129.39 333.62 130.15 331.50 130.28C329.37 130.41 326.94 129.95 324.77 129.53C322.61 129.10 320.04 128.66 318.51 127.73C316.97 126.81 316.17 125.24 315.54 123.99C314.92 122.74 314.91 121.51 314.76 120.25C314.62 118.99 314.51 117.57 314.68 116.42Z" fill="rgba(236,90,90,0.14)" stroke="#ec6664" stroke-width="0.68"/>
<path d="M317.00 117.32C317.09 116.33 317.52 115.47 318.29 114.81C319.07 114.16 320.40 113.63 321.63 113.38C322.85 113.12 324.24 112.99 325.64 113.29C327.04 113.59 328.58 114.42 330.05 115.19C331.52 115.96 333.16 116.78 334.46 117.90C335.76 119.01 337.08 120.84 337.84 121.87C338.60 122.91 338.86 123.48 339.03 124.11C339.19 124.74 339.21 125.03 338.85 125.66C338.48 126.30 337.99 127.29 336.83 127.89C335.67 128.50 333.71 129.17 331.87 129.29C330.03 129.40 327.50 129.03 325.78 128.58C324.07 128.12 322.61 127.36 321.60 126.56C320.59 125.76 320.39 124.75 319.75 123.78C319.11 122.81 318.22 121.84 317.76 120.77C317.30 119.69 316.91 118.31 317.00 117.32Z" fill="rgba(236,90,90,0.14)" stroke="#ec6664" stroke-width="0.68"/>
<path d="M319.62 118.33C319.76 117.52 320.10 116.81 320.74 116.26C321.38 115.71 322.39 115.15 323.46 115.02C324.53 114.88 325.99 115.19 327.17 115.45C328.34 115.70 329.31 115.98 330.51 116.53C331.70 117.08 333.29 117.82 334.34 118.76C335.39 119.71 336.30 121.35 336.80 122.20C337.31 123.05 337.26 123.38 337.36 123.87C337.47 124.36 337.58 124.57 337.41 125.13C337.23 125.69 337.17 126.66 336.30 127.23C335.42 127.80 333.69 128.47 332.14 128.53C330.58 128.59 328.25 128.06 326.97 127.57C325.69 127.08 325.33 126.23 324.46 125.58C323.59 124.92 322.52 124.39 321.77 123.66C321.02 122.92 320.30 122.03 319.94 121.14C319.58 120.26 319.49 119.15 319.62 118.33Z" fill="rgba(236,90,90,0.14)" stroke="#ec6664" stroke-width="0.68"/>
<path d="M322.10 119.29C322.20 118.63 322.52 118.05 323.09 117.65C323.67 117.25 324.71 117.01 325.57 116.89C326.43 116.78 327.39 116.88 328.27 116.96C329.14 117.05 329.86 116.92 330.82 117.40C331.78 117.88 333.15 119.00 334.04 119.84C334.92 120.68 335.72 121.76 336.15 122.42C336.58 123.08 336.52 123.40 336.60 123.80C336.67 124.21 336.75 124.37 336.61 124.83C336.46 125.30 336.44 126.08 335.72 126.58C335.00 127.08 333.47 127.81 332.26 127.81C331.05 127.81 329.57 126.99 328.45 126.57C327.34 126.15 326.38 125.79 325.58 125.30C324.78 124.81 324.17 124.25 323.66 123.63C323.14 123.01 322.74 122.32 322.48 121.60C322.22 120.88 322.00 119.95 322.10 119.29Z" fill="rgba(236,90,90,0.14)" stroke="#ec6664" stroke-width="0.68"/>
<path d="M324.57 120.24C324.69 119.75 325.00 119.36 325.40 119.01C325.80 118.66 326.38 118.32 326.97 118.14C327.56 117.95 328.21 117.76 328.94 117.89C329.67 118.03 330.55 118.49 331.37 118.93C332.18 119.37 333.15 119.89 333.85 120.51C334.54 121.13 335.18 122.10 335.53 122.64C335.87 123.17 335.84 123.42 335.91 123.75C335.98 124.07 336.06 124.21 335.95 124.59C335.84 124.97 335.83 125.68 335.24 126.04C334.66 126.40 333.45 126.74 332.44 126.74C331.44 126.75 330.10 126.36 329.20 126.06C328.30 125.76 327.63 125.36 327.05 124.95C326.47 124.54 326.13 124.09 325.74 123.60C325.35 123.11 324.89 122.56 324.70 122.00C324.50 121.44 324.46 120.74 324.57 120.24Z" fill="rgba(236,90,90,0.14)" stroke="#ec6664" stroke-width="0.68"/>
<path d="M326.48 120.98C326.48 120.56 326.55 120.16 326.81 119.85C327.08 119.54 327.55 119.20 328.09 119.13C328.62 119.05 329.42 119.25 330.03 119.41C330.65 119.56 331.16 119.75 331.76 120.05C332.37 120.34 333.12 120.71 333.66 121.17C334.20 121.63 334.72 122.40 334.99 122.82C335.26 123.24 335.23 123.44 335.27 123.69C335.32 123.94 335.37 124.06 335.26 124.34C335.16 124.61 335.08 125.08 334.63 125.35C334.19 125.62 333.36 125.91 332.58 125.94C331.80 125.98 330.64 125.77 329.97 125.54C329.30 125.32 328.99 124.90 328.58 124.58C328.16 124.25 327.76 123.94 327.46 123.58C327.16 123.21 326.93 122.81 326.76 122.37C326.60 121.94 326.47 121.40 326.48 120.98Z" fill="rgba(236,90,90,0.14)" stroke="#ec6664" stroke-width="0.68"/>
<path d="M328.16 121.63C328.19 121.34 328.36 121.08 328.63 120.92C328.90 120.76 329.40 120.68 329.80 120.65C330.19 120.62 330.61 120.68 331.00 120.73C331.38 120.78 331.68 120.77 332.09 120.96C332.50 121.14 333.09 121.51 333.46 121.86C333.84 122.21 334.17 122.75 334.34 123.04C334.52 123.33 334.47 123.46 334.50 123.63C334.52 123.79 334.55 123.86 334.49 124.05C334.43 124.24 334.43 124.56 334.13 124.78C333.83 125.00 333.21 125.34 332.68 125.35C332.16 125.37 331.46 125.04 330.99 124.86C330.53 124.67 330.20 124.47 329.90 124.25C329.59 124.04 329.39 123.82 329.15 123.55C328.90 123.29 328.62 123.00 328.45 122.68C328.29 122.36 328.13 121.92 328.16 121.63Z" fill="rgba(236,90,90,0.14)" stroke="#ec6664" stroke-width="0.68"/>
<path d="M330.18 122.41C330.24 122.25 330.36 122.13 330.50 122.02C330.64 121.91 330.83 121.81 331.03 121.75C331.23 121.69 331.44 121.64 331.68 121.67C331.91 121.70 332.18 121.80 332.44 121.94C332.71 122.08 333.05 122.30 333.28 122.51C333.51 122.72 333.70 123.04 333.81 123.22C333.92 123.40 333.92 123.47 333.95 123.58C333.98 123.69 334.01 123.73 333.98 123.86C333.95 123.99 333.95 124.23 333.76 124.36C333.56 124.48 333.14 124.61 332.81 124.60C332.48 124.60 332.04 124.45 331.75 124.34C331.46 124.24 331.28 124.10 331.07 123.97C330.86 123.83 330.65 123.70 330.50 123.53C330.34 123.37 330.19 123.17 330.14 122.98C330.08 122.80 330.12 122.57 330.18 122.41Z" fill="rgba(236,90,90,0.14)" stroke="#ec6664" stroke-width="0.68"/>
<path d="M331.73 123.01C331.73 122.93 331.74 122.85 331.79 122.78C331.84 122.72 331.93 122.66 332.03 122.64C332.13 122.62 332.28 122.64 332.40 122.67C332.52 122.69 332.62 122.72 332.75 122.79C332.87 122.85 333.02 122.96 333.13 123.05C333.24 123.15 333.35 123.28 333.40 123.36C333.46 123.44 333.46 123.49 333.47 123.54C333.48 123.59 333.49 123.62 333.46 123.67C333.44 123.73 333.42 123.82 333.33 123.88C333.24 123.93 333.07 123.99 332.92 123.99C332.76 123.99 332.55 123.94 332.41 123.89C332.28 123.85 332.17 123.79 332.08 123.72C331.99 123.66 331.92 123.59 331.87 123.52C331.82 123.44 331.80 123.36 331.78 123.28C331.75 123.19 331.73 123.09 331.73 123.01Z" fill="rgba(236,90,90,0.14)" stroke="#ec6664" stroke-width="0.68"/>
<path d="M408.50 120.40C408.83 119.32 409.78 117.82 410.80 117.30C411.82 116.78 413.20 116.92 414.60 117.30C416.00 117.68 417.67 118.57 419.20 119.60C420.73 120.63 422.38 122.22 423.80 123.50C425.22 124.78 427.18 126.28 427.70 127.30C428.22 128.32 427.80 129.08 426.90 129.60C426.00 130.12 423.97 130.40 422.30 130.40C420.63 130.40 418.70 130.12 416.90 129.60C415.10 129.08 412.85 128.27 411.50 127.30C410.15 126.33 409.30 124.95 408.80 123.80C408.30 122.65 408.17 121.48 408.50 120.40Z" fill="#fbe6cf" stroke="#efb078" stroke-width="0.55"/>
<path d="M411.34 121.61C411.53 120.77 412.19 119.56 412.94 119.15C413.69 118.74 414.78 118.90 415.86 119.14C416.95 119.38 418.21 119.79 419.44 120.59C420.67 121.38 422.20 122.86 423.24 123.89C424.27 124.92 425.32 125.97 425.65 126.75C425.98 127.52 425.80 128.08 425.20 128.55C424.60 129.02 423.30 129.53 422.04 129.55C420.79 129.57 419.14 129.15 417.70 128.69C416.25 128.23 414.34 127.54 413.35 126.79C412.37 126.04 412.13 125.06 411.80 124.19C411.46 123.33 411.15 122.45 411.34 121.61Z" fill="rgba(230,130,40,0.15)" stroke="#e5842c" stroke-width="0.55"/>
<path d="M413.47 122.51C413.57 121.90 414.34 121.14 414.93 120.85C415.52 120.56 416.20 120.59 417.01 120.78C417.81 120.98 418.82 121.46 419.77 122.03C420.72 122.61 422.07 123.54 422.71 124.24C423.35 124.94 423.49 125.68 423.63 126.22C423.77 126.77 423.85 127.10 423.53 127.50C423.21 127.90 422.59 128.54 421.73 128.61C420.87 128.69 419.34 128.34 418.35 127.94C417.36 127.55 416.47 126.82 415.80 126.25C415.12 125.68 414.68 125.16 414.29 124.53C413.90 123.91 413.36 123.12 413.47 122.51Z" fill="rgba(230,130,40,0.15)" stroke="#e5842c" stroke-width="0.55"/>
<path d="M415.45 123.36C415.56 122.92 416.03 122.33 416.47 122.13C416.90 121.94 417.47 122.06 418.06 122.20C418.64 122.33 419.31 122.54 419.97 122.95C420.62 123.36 421.54 124.13 422.00 124.64C422.46 125.15 422.61 125.63 422.72 126.01C422.83 126.39 422.90 126.65 422.67 126.93C422.45 127.22 422.00 127.64 421.37 127.71C420.74 127.78 419.59 127.62 418.88 127.34C418.18 127.06 417.65 126.46 417.15 126.04C416.64 125.61 416.14 125.22 415.86 124.78C415.58 124.33 415.35 123.80 415.45 123.36Z" fill="rgba(230,130,40,0.15)" stroke="#e5842c" stroke-width="0.55"/>
<path d="M417.22 124.11C417.29 123.83 417.67 123.49 417.96 123.38C418.25 123.27 418.61 123.37 418.97 123.43C419.33 123.49 419.71 123.49 420.13 123.74C420.55 123.99 421.18 124.59 421.48 124.94C421.79 125.29 421.88 125.59 421.95 125.84C422.03 126.09 422.06 126.24 421.92 126.44C421.78 126.63 421.49 126.97 421.09 127.00C420.69 127.03 420.00 126.80 419.52 126.62C419.04 126.43 418.52 126.13 418.19 125.87C417.86 125.61 417.68 125.33 417.52 125.04C417.36 124.74 417.15 124.38 417.22 124.11Z" fill="rgba(230,130,40,0.15)" stroke="#e5842c" stroke-width="0.55"/>
<path d="M418.80 124.78C418.84 124.63 419.02 124.45 419.15 124.38C419.29 124.30 419.42 124.27 419.62 124.31C419.81 124.35 420.08 124.47 420.32 124.62C420.55 124.77 420.87 125.02 421.03 125.20C421.20 125.37 421.25 125.55 421.30 125.68C421.34 125.82 421.37 125.92 421.29 126.02C421.21 126.12 421.03 126.28 420.81 126.30C420.60 126.31 420.23 126.20 419.98 126.10C419.72 126.00 419.47 125.83 419.29 125.69C419.12 125.55 419.00 125.41 418.92 125.25C418.83 125.10 418.76 124.92 418.80 124.78Z" fill="rgba(230,130,40,0.15)" stroke="#e5842c" stroke-width="0.55"/>
<path d="M464.20 113.50C464.10 111.87 464.63 110.15 465.40 108.80C466.17 107.45 467.07 106.17 468.80 105.40C470.53 104.63 473.30 104.10 475.80 104.20C478.30 104.30 481.12 105.03 483.80 106.00C486.48 106.97 489.40 108.37 491.90 110.00C494.40 111.63 496.97 113.68 498.80 115.80C500.63 117.92 502.52 120.78 502.90 122.70C503.28 124.62 502.55 126.05 501.10 127.30C499.65 128.55 496.88 129.82 494.20 130.20C491.52 130.58 487.88 130.28 485.00 129.60C482.12 128.92 479.40 127.25 476.90 126.10C474.40 124.95 471.82 123.95 470.00 122.70C468.18 121.45 466.97 120.13 466.00 118.60C465.03 117.07 464.30 115.13 464.20 113.50Z" fill="#f4ecdf" stroke="#d9c29a" stroke-width="0.68"/>
<path d="M468.62 114.56C468.55 113.22 468.68 111.76 469.18 110.58C469.68 109.40 470.23 108.18 471.62 107.48C473.00 106.78 475.39 106.34 477.50 106.36C479.60 106.38 482.02 106.66 484.25 107.57C486.48 108.48 488.84 110.36 490.87 111.83C492.90 113.29 494.94 114.66 496.42 116.35C497.90 118.03 499.41 120.37 499.74 121.94C500.07 123.51 499.53 124.69 498.41 125.77C497.29 126.84 495.19 127.98 493.02 128.38C490.85 128.79 487.82 128.71 485.40 128.17C482.98 127.63 480.74 126.16 478.51 125.17C476.29 124.18 473.55 123.33 472.06 122.25C470.57 121.16 470.17 119.93 469.60 118.65C469.02 117.37 468.69 115.91 468.62 114.56Z" fill="none" stroke="#c8963f" stroke-width="0.68"/>
<path d="M471.26 115.20C470.99 114.02 471.04 112.67 471.48 111.66C471.92 110.66 472.67 109.76 473.90 109.17C475.12 108.57 477.03 108.00 478.85 108.09C480.67 108.18 482.91 108.95 484.82 109.73C486.74 110.51 488.70 111.60 490.34 112.77C491.97 113.94 493.64 115.36 494.64 116.76C495.65 118.15 496.20 119.90 496.36 121.13C496.52 122.36 496.34 123.21 495.60 124.14C494.87 125.07 493.59 126.31 491.95 126.73C490.31 127.15 487.87 127.01 485.76 126.69C483.65 126.37 480.99 125.66 479.27 124.79C477.56 123.93 476.50 122.52 475.48 121.50C474.45 120.49 473.82 119.75 473.12 118.70C472.42 117.65 471.53 116.37 471.26 115.20Z" fill="none" stroke="#c8963f" stroke-width="0.68"/>
<path d="M473.77 115.80C473.62 114.83 473.70 113.73 474.06 112.88C474.42 112.02 474.91 111.17 475.95 110.69C476.98 110.20 478.73 109.83 480.28 109.96C481.84 110.09 483.68 110.85 485.27 111.46C486.87 112.08 488.61 112.68 489.84 113.65C491.07 114.61 491.97 116.11 492.65 117.27C493.33 118.42 493.77 119.60 493.93 120.55C494.10 121.51 494.14 122.22 493.65 123.01C493.17 123.81 492.32 124.84 491.04 125.32C489.76 125.80 487.68 126.13 485.98 125.87C484.27 125.61 482.26 124.56 480.83 123.76C479.40 122.96 478.35 121.92 477.38 121.09C476.40 120.25 475.60 119.61 475.00 118.73C474.40 117.85 473.93 116.78 473.77 115.80Z" fill="none" stroke="#c8963f" stroke-width="0.68"/>
<path d="M476.38 116.43C476.25 115.64 476.22 114.72 476.53 114.05C476.85 113.38 477.39 112.77 478.27 112.43C479.14 112.09 480.60 112.00 481.80 112.00C483.00 111.99 484.26 111.89 485.48 112.38C486.71 112.87 488.14 114.06 489.16 114.93C490.18 115.80 491.03 116.70 491.61 117.58C492.20 118.47 492.53 119.49 492.66 120.27C492.79 121.05 492.78 121.59 492.40 122.26C492.03 122.93 491.43 123.90 490.39 124.30C489.35 124.69 487.54 124.89 486.16 124.63C484.79 124.37 483.37 123.39 482.15 122.74C480.92 122.10 479.61 121.44 478.81 120.78C478.01 120.12 477.74 119.51 477.34 118.78C476.93 118.06 476.52 117.22 476.38 116.43Z" fill="none" stroke="#c8963f" stroke-width="0.68"/>
<path d="M478.76 117.01C478.69 116.41 478.80 115.75 479.05 115.24C479.31 114.73 479.68 114.30 480.28 113.94C480.87 113.59 481.70 113.11 482.62 113.11C483.55 113.10 484.82 113.48 485.84 113.93C486.85 114.37 487.91 115.11 488.71 115.77C489.52 116.43 490.21 117.16 490.68 117.87C491.15 118.58 491.41 119.39 491.54 120.02C491.66 120.65 491.72 121.13 491.41 121.66C491.10 122.19 490.53 122.97 489.69 123.21C488.86 123.45 487.52 123.27 486.39 123.10C485.26 122.93 483.83 122.63 482.89 122.17C481.95 121.71 481.29 120.92 480.72 120.36C480.15 119.80 479.81 119.39 479.48 118.83C479.16 118.27 478.83 117.61 478.76 117.01Z" fill="none" stroke="#c8963f" stroke-width="0.68"/>
<path d="M480.88 117.52C480.78 117.05 480.70 116.51 480.82 116.07C480.93 115.64 481.07 115.16 481.55 114.90C482.02 114.64 482.90 114.44 483.67 114.52C484.44 114.60 485.39 115.04 486.17 115.36C486.94 115.69 487.72 116.03 488.33 116.49C488.94 116.95 489.47 117.58 489.83 118.13C490.19 118.68 490.41 119.31 490.48 119.78C490.54 120.25 490.51 120.59 490.24 120.96C489.98 121.32 489.52 121.75 488.90 121.97C488.28 122.18 487.34 122.36 486.51 122.26C485.69 122.16 484.66 121.72 483.96 121.35C483.26 120.97 482.72 120.43 482.29 120.02C481.87 119.61 481.65 119.29 481.41 118.87C481.17 118.46 480.98 117.99 480.88 117.52Z" fill="none" stroke="#c8963f" stroke-width="0.68"/>
<path d="M482.37 117.88C482.27 117.53 482.25 117.11 482.39 116.82C482.53 116.53 482.80 116.28 483.21 116.15C483.61 116.02 484.27 116.02 484.80 116.04C485.33 116.05 485.85 116.06 486.37 116.26C486.90 116.45 487.51 116.85 487.95 117.21C488.39 117.56 488.76 118.00 488.99 118.39C489.22 118.77 489.30 119.20 489.34 119.52C489.37 119.85 489.37 120.05 489.22 120.34C489.06 120.62 488.85 121.04 488.42 121.22C487.99 121.40 487.23 121.52 486.64 121.42C486.05 121.32 485.39 120.91 484.89 120.63C484.39 120.34 483.99 120.01 483.67 119.72C483.34 119.44 483.17 119.22 482.95 118.91C482.74 118.60 482.46 118.23 482.37 117.88Z" fill="none" stroke="#c8963f" stroke-width="0.68"/>
<path d="M484.27 118.34C484.26 118.15 484.34 117.94 484.43 117.79C484.53 117.63 484.66 117.50 484.86 117.39C485.05 117.28 485.32 117.14 485.61 117.13C485.90 117.12 486.30 117.21 486.62 117.35C486.95 117.48 487.31 117.72 487.57 117.93C487.82 118.15 488.00 118.42 488.14 118.65C488.29 118.88 488.40 119.12 488.45 119.32C488.50 119.53 488.53 119.69 488.44 119.87C488.34 120.04 488.16 120.31 487.89 120.39C487.62 120.47 487.16 120.43 486.80 120.36C486.44 120.30 486.03 120.14 485.72 119.99C485.41 119.84 485.15 119.62 484.94 119.45C484.73 119.27 484.57 119.13 484.46 118.94C484.35 118.76 484.27 118.53 484.27 118.34Z" fill="none" stroke="#c8963f" stroke-width="0.68"/>
<path d="M485.72 118.69C485.70 118.59 485.68 118.48 485.71 118.39C485.73 118.29 485.75 118.19 485.85 118.14C485.95 118.08 486.13 118.03 486.29 118.04C486.45 118.05 486.65 118.12 486.81 118.19C486.98 118.26 487.14 118.38 487.27 118.49C487.41 118.59 487.53 118.70 487.61 118.81C487.69 118.93 487.75 119.07 487.76 119.17C487.78 119.27 487.77 119.35 487.71 119.43C487.65 119.51 487.55 119.60 487.41 119.65C487.28 119.69 487.07 119.71 486.90 119.69C486.72 119.66 486.51 119.58 486.35 119.50C486.19 119.42 486.05 119.31 485.95 119.23C485.86 119.14 485.85 119.06 485.81 118.97C485.77 118.88 485.74 118.79 485.72 118.69Z" fill="none" stroke="#c8963f" stroke-width="0.68"/>
<path d="M325.80 200.40C325.87 199.25 326.13 198.00 326.90 197.30C327.67 196.60 329.05 196.20 330.40 196.20C331.75 196.20 333.47 196.67 335.00 197.30C336.53 197.93 338.13 198.97 339.60 200.00C341.07 201.03 343.15 202.47 343.80 203.50C344.45 204.53 344.07 205.57 343.50 206.20C342.93 206.83 341.82 206.98 340.40 207.30C338.98 207.62 336.80 208.10 335.00 208.10C333.20 208.10 331.02 207.95 329.60 207.30C328.18 206.65 327.13 205.35 326.50 204.20C325.87 203.05 325.73 201.55 325.80 200.40Z" fill="#e4f3e6" stroke="#78c488" stroke-width="0.55"/>
<path d="M328.86 201.16C328.94 200.29 329.16 199.34 329.75 198.81C330.34 198.29 331.38 198.05 332.38 198.00C333.39 197.95 334.57 198.05 335.78 198.53C336.99 199.01 338.53 200.04 339.66 200.87C340.79 201.70 342.10 202.71 342.56 203.50C343.02 204.30 342.79 205.10 342.43 205.63C342.06 206.17 341.44 206.47 340.35 206.72C339.27 206.97 337.35 207.21 335.92 207.13C334.49 207.06 332.89 206.79 331.78 206.27C330.67 205.76 329.73 204.90 329.25 204.05C328.76 203.20 328.77 202.03 328.86 201.16Z" fill="rgba(30,160,60,0.18)" stroke="#23a03b" stroke-width="0.55"/>
<path d="M330.88 201.66C330.82 201.00 331.41 200.33 331.94 199.96C332.47 199.60 333.26 199.48 334.05 199.47C334.85 199.46 335.76 199.61 336.70 199.91C337.64 200.22 338.90 200.71 339.70 201.31C340.49 201.92 341.19 202.91 341.47 203.54C341.75 204.16 341.60 204.63 341.40 205.05C341.19 205.48 341.01 205.89 340.24 206.10C339.47 206.30 337.85 206.39 336.77 206.28C335.68 206.17 334.50 205.82 333.76 205.43C333.01 205.04 332.76 204.56 332.28 203.93C331.80 203.30 330.94 202.32 330.88 201.66Z" fill="rgba(30,160,60,0.18)" stroke="#23a03b" stroke-width="0.55"/>
<path d="M333.01 202.19C333.01 201.70 333.47 201.21 333.88 200.95C334.28 200.68 334.85 200.57 335.46 200.59C336.06 200.60 336.81 200.80 337.51 201.03C338.20 201.26 339.08 201.54 339.65 201.97C340.21 202.40 340.70 203.15 340.91 203.61C341.12 204.07 341.05 204.41 340.90 204.73C340.76 205.04 340.64 205.33 340.05 205.50C339.45 205.67 338.10 205.85 337.35 205.75C336.60 205.65 336.14 205.23 335.56 204.92C334.98 204.61 334.29 204.35 333.86 203.90C333.44 203.45 333.01 202.68 333.01 202.19Z" fill="rgba(30,160,60,0.18)" stroke="#23a03b" stroke-width="0.55"/>
<path d="M335.02 202.69C335.04 202.35 335.33 202.01 335.63 201.84C335.93 201.67 336.44 201.70 336.83 201.68C337.22 201.66 337.54 201.56 338.00 201.71C338.46 201.87 339.18 202.26 339.60 202.59C340.01 202.91 340.35 203.36 340.50 203.67C340.64 203.98 340.58 204.22 340.48 204.45C340.38 204.67 340.29 204.88 339.89 205.00C339.48 205.11 338.58 205.19 338.03 205.13C337.49 205.07 337.04 204.82 336.63 204.61C336.21 204.40 335.81 204.19 335.54 203.87C335.27 203.55 335.01 203.03 335.02 202.69Z" fill="rgba(30,160,60,0.18)" stroke="#23a03b" stroke-width="0.55"/>
<path d="M337.02 203.19C337.04 203.00 337.25 202.84 337.40 202.74C337.55 202.63 337.72 202.57 337.93 202.55C338.14 202.54 338.40 202.56 338.67 202.65C338.94 202.74 339.32 202.92 339.56 203.10C339.79 203.28 339.98 203.55 340.07 203.72C340.15 203.90 340.12 204.05 340.07 204.17C340.01 204.30 339.95 204.44 339.72 204.50C339.50 204.55 339.04 204.54 338.73 204.50C338.41 204.46 338.07 204.38 337.84 204.27C337.60 204.16 337.45 204.02 337.32 203.84C337.18 203.66 337.01 203.37 337.02 203.19Z" fill="rgba(30,160,60,0.18)" stroke="#23a03b" stroke-width="0.55"/>
<path d="M361.20 203.50C361.45 201.83 361.82 198.17 362.70 196.50C363.58 194.83 365.35 194.38 366.50 193.50C367.65 192.62 368.82 192.75 369.60 191.20C370.38 189.65 370.30 185.75 371.20 184.20C372.10 182.65 373.08 182.28 375.00 181.90C376.92 181.52 379.62 181.63 382.70 181.90C385.78 182.17 389.92 182.98 393.50 183.50C397.08 184.02 400.87 184.23 404.20 185.00C407.53 185.77 410.67 186.82 413.50 188.10C416.33 189.38 418.90 191.03 421.20 192.70C423.50 194.37 426.03 196.57 427.30 198.10C428.57 199.63 428.80 200.62 428.80 201.90C428.80 203.18 428.83 204.65 427.30 205.80C425.77 206.95 422.68 207.90 419.60 208.80C416.52 209.70 412.38 210.68 408.80 211.20C405.22 211.72 401.93 211.65 398.10 211.90C394.27 212.15 389.90 212.70 385.80 212.70C381.70 212.70 377.10 212.42 373.50 211.90C369.90 211.38 366.25 210.50 364.20 209.60C362.15 208.70 361.70 207.52 361.20 206.50C360.70 205.48 360.95 205.17 361.20 203.50Z" fill="#e4e3e9" stroke="#a4a2b2" stroke-width="0.68"/>
<path d="M377.50 202.19C377.25 201.20 376.65 198.97 376.68 197.85C376.72 196.74 377.29 196.22 377.72 195.50C378.16 194.78 378.42 194.47 379.30 193.52C380.18 192.57 381.91 190.60 383.00 189.80C384.09 189.01 384.60 188.97 385.87 188.77C387.13 188.58 388.71 188.58 390.60 188.65C392.48 188.71 394.92 188.78 397.18 189.17C399.44 189.56 402.09 190.33 404.15 190.99C406.21 191.66 407.88 192.36 409.54 193.14C411.20 193.93 412.76 194.74 414.10 195.70C415.44 196.65 416.83 197.97 417.58 198.88C418.33 199.79 418.49 200.38 418.59 201.17C418.68 201.97 418.76 202.83 418.13 203.65C417.51 204.47 416.47 205.34 414.82 206.08C413.18 206.82 410.58 207.69 408.25 208.10C405.92 208.52 403.36 208.60 400.82 208.58C398.29 208.55 395.67 208.21 393.03 207.95C390.38 207.70 387.14 207.48 384.98 207.06C382.82 206.63 381.19 205.95 380.06 205.40C378.93 204.85 378.64 204.28 378.22 203.74C377.79 203.21 377.76 203.17 377.50 202.19Z" fill="rgba(160,140,210,0.04)" stroke="#a393d2" stroke-width="0.68"/>
<path d="M387.05 201.66C386.36 201.01 384.71 199.44 384.15 198.59C383.59 197.74 383.62 197.19 383.67 196.56C383.72 195.92 383.57 195.46 384.45 194.78C385.33 194.11 387.77 192.96 388.96 192.52C390.15 192.07 390.60 192.21 391.59 192.11C392.57 192.01 393.47 191.85 394.88 191.92C396.29 192.00 398.40 192.24 400.05 192.56C401.70 192.88 403.37 193.44 404.76 193.84C406.14 194.25 407.22 194.49 408.37 195.01C409.52 195.54 410.75 196.27 411.65 196.99C412.56 197.72 413.35 198.70 413.81 199.37C414.27 200.03 414.34 200.41 414.41 200.96C414.49 201.51 414.53 202.07 414.24 202.67C413.94 203.27 413.66 203.96 412.66 204.56C411.67 205.17 409.93 205.95 408.27 206.31C406.61 206.66 404.74 206.72 402.71 206.69C400.69 206.67 397.91 206.47 396.12 206.16C394.32 205.84 393.01 205.23 391.95 204.78C390.90 204.33 390.40 203.84 389.79 203.47C389.18 203.10 388.77 202.84 388.31 202.54C387.85 202.24 387.75 202.32 387.05 201.66Z" fill="rgba(160,140,210,0.04)" stroke="#a393d2" stroke-width="0.68"/>
<path d="M391.34 201.58C390.80 201.05 389.58 199.78 389.21 199.11C388.84 198.44 388.99 198.02 389.12 197.53C389.25 197.05 389.23 196.70 389.97 196.19C390.71 195.68 392.63 194.80 393.56 194.45C394.48 194.10 394.74 194.16 395.52 194.10C396.30 194.03 397.10 193.94 398.25 194.05C399.40 194.15 401.19 194.52 402.42 194.70C403.64 194.88 404.57 194.84 405.61 195.13C406.65 195.43 407.73 195.96 408.65 196.44C409.57 196.93 410.45 197.51 411.13 198.07C411.81 198.63 412.40 199.34 412.75 199.83C413.10 200.32 413.17 200.60 413.23 201.02C413.30 201.43 413.35 201.86 413.14 202.32C412.93 202.79 412.73 203.33 411.97 203.80C411.21 204.27 409.86 204.87 408.57 205.15C407.28 205.43 405.76 205.53 404.21 205.50C402.66 205.47 400.58 205.26 399.29 204.99C398.00 204.72 397.37 204.19 396.49 203.86C395.60 203.53 394.67 203.25 394.00 202.99C393.34 202.72 392.93 202.51 392.48 202.28C392.04 202.04 391.89 202.10 391.34 201.58Z" fill="rgba(160,140,210,0.04)" stroke="#a393d2" stroke-width="0.68"/>
<path d="M395.76 201.49C395.41 201.09 394.61 200.14 394.36 199.64C394.11 199.13 394.18 198.82 394.26 198.45C394.33 198.09 394.27 197.81 394.82 197.43C395.37 197.04 396.84 196.39 397.58 196.14C398.31 195.90 398.59 195.99 399.22 195.96C399.85 195.94 400.59 196.00 401.36 196.01C402.12 196.01 402.92 195.84 403.81 195.97C404.70 196.10 405.85 196.49 406.69 196.79C407.54 197.08 408.23 197.40 408.91 197.74C409.59 198.08 410.23 198.44 410.75 198.84C411.27 199.25 411.73 199.78 412.00 200.15C412.27 200.52 412.33 200.75 412.38 201.06C412.42 201.38 412.46 201.70 412.30 202.05C412.13 202.41 411.97 202.81 411.39 203.17C410.81 203.53 409.82 203.98 408.81 204.22C407.81 204.45 406.47 204.62 405.37 204.57C404.27 204.52 403.25 204.12 402.21 203.91C401.18 203.71 399.97 203.54 399.17 203.32C398.36 203.10 397.85 202.81 397.40 202.60C396.95 202.38 396.73 202.21 396.46 202.03C396.18 201.84 396.11 201.88 395.76 201.49Z" fill="rgba(160,140,210,0.04)" stroke="#a393d2" stroke-width="0.68"/>
<path d="M399.97 201.40C399.70 201.12 399.09 200.46 398.91 200.10C398.73 199.75 398.80 199.53 398.88 199.28C398.95 199.03 398.95 198.85 399.36 198.59C399.77 198.33 400.86 197.91 401.36 197.73C401.86 197.56 402.00 197.61 402.36 197.55C402.72 197.48 402.97 197.36 403.51 197.36C404.05 197.37 404.90 197.43 405.58 197.56C406.26 197.70 407.01 197.96 407.59 198.15C408.18 198.34 408.63 198.48 409.10 198.70C409.57 198.93 410.06 199.22 410.42 199.51C410.79 199.80 411.12 200.19 411.31 200.46C411.50 200.72 411.54 200.88 411.57 201.10C411.61 201.33 411.64 201.56 411.53 201.81C411.41 202.06 411.31 202.36 410.89 202.62C410.48 202.88 409.72 203.25 409.03 203.39C408.34 203.53 407.58 203.50 406.76 203.47C405.93 203.44 404.85 203.35 404.10 203.22C403.35 203.09 402.73 202.87 402.24 202.69C401.75 202.52 401.47 202.32 401.18 202.17C400.89 202.01 400.70 201.90 400.50 201.77C400.30 201.64 400.23 201.68 399.97 201.40Z" fill="rgba(160,140,210,0.04)" stroke="#a393d2" stroke-width="0.68"/>
<path d="M403.64 201.32C403.49 201.15 403.15 200.75 403.04 200.53C402.94 200.31 402.97 200.18 403.00 200.02C403.03 199.86 403.02 199.75 403.22 199.57C403.43 199.39 403.95 199.07 404.22 198.94C404.48 198.81 404.56 198.81 404.81 198.78C405.06 198.75 405.33 198.72 405.73 198.76C406.13 198.80 406.78 198.95 407.20 199.03C407.63 199.11 407.96 199.13 408.30 199.23C408.65 199.33 408.98 199.48 409.29 199.63C409.59 199.78 409.89 199.95 410.12 200.14C410.35 200.32 410.56 200.56 410.69 200.73C410.81 200.89 410.83 200.99 410.86 201.14C410.88 201.28 410.90 201.43 410.82 201.59C410.75 201.74 410.67 201.93 410.41 202.09C410.15 202.24 409.69 202.42 409.26 202.50C408.83 202.59 408.36 202.61 407.84 202.60C407.32 202.60 406.59 202.55 406.14 202.47C405.68 202.39 405.40 202.22 405.11 202.11C404.81 202.00 404.56 201.89 404.37 201.80C404.18 201.71 404.07 201.64 403.95 201.56C403.83 201.48 403.79 201.49 403.64 201.32Z" fill="rgba(160,140,210,0.04)" stroke="#a393d2" stroke-width="0.68"/>
<path d="M406.81 201.26C406.73 201.18 406.52 200.98 406.45 200.88C406.37 200.77 406.38 200.70 406.38 200.62C406.39 200.55 406.36 200.48 406.48 200.40C406.59 200.32 406.90 200.18 407.06 200.13C407.22 200.08 407.29 200.11 407.43 200.11C407.57 200.11 407.74 200.13 407.91 200.13C408.07 200.14 408.25 200.12 408.43 200.15C408.62 200.17 408.83 200.23 409.00 200.28C409.17 200.33 409.31 200.39 409.45 200.46C409.59 200.53 409.74 200.62 409.84 200.70C409.95 200.79 410.04 200.91 410.10 200.98C410.15 201.06 410.16 201.11 410.17 201.17C410.17 201.24 410.18 201.30 410.14 201.37C410.11 201.44 410.08 201.52 409.96 201.59C409.84 201.67 409.65 201.76 409.44 201.81C409.24 201.86 408.96 201.90 408.73 201.90C408.49 201.89 408.25 201.82 408.04 201.77C407.84 201.73 407.65 201.67 407.50 201.63C407.36 201.58 407.26 201.52 407.18 201.48C407.09 201.43 407.04 201.40 406.98 201.37C406.92 201.33 406.90 201.34 406.81 201.26Z" fill="rgba(160,140,210,0.04)" stroke="#a393d2" stroke-width="0.68"/>
<path d="M439.90 203.00C440.32 200.42 441.03 198.80 442.40 197.30C443.77 195.80 445.80 194.82 448.10 194.00C450.40 193.18 452.93 192.82 456.20 192.40C459.47 191.98 463.60 191.50 467.70 191.50C471.80 191.50 476.98 191.98 480.80 192.40C484.62 192.82 487.33 193.47 490.60 194.00C493.87 194.53 497.42 194.92 500.40 195.60C503.38 196.28 506.60 197.15 508.50 198.10C510.40 199.05 511.52 200.08 511.80 201.30C512.08 202.52 511.57 204.43 510.20 205.40C508.83 206.37 506.33 206.42 503.60 207.10C500.87 207.78 496.52 208.42 493.80 209.50C491.08 210.58 489.47 211.83 487.30 213.60C485.13 215.37 482.98 218.33 480.80 220.10C478.62 221.87 476.93 223.38 474.20 224.20C471.47 225.02 467.93 225.13 464.40 225.00C460.87 224.87 456.27 224.35 453.00 223.40C449.73 222.45 446.98 221.07 444.80 219.30C442.62 217.53 440.72 215.52 439.90 212.80C439.08 210.08 439.48 205.58 439.90 203.00Z" fill="#f4e9ee" stroke="#eaa2c2" stroke-width="0.68"/>
<path d="M449.93 203.93C450.15 202.18 451.08 201.14 452.00 200.09C452.92 199.05 454.08 198.35 455.46 197.66C456.84 196.96 458.10 196.41 460.29 195.92C462.47 195.42 465.43 194.83 468.57 194.66C471.71 194.49 476.29 194.47 479.13 194.88C481.97 195.30 483.56 196.49 485.59 197.17C487.62 197.85 489.58 198.34 491.31 198.96C493.04 199.57 494.78 200.20 495.99 200.86C497.20 201.51 497.99 202.11 498.56 202.90C499.13 203.68 499.54 204.90 499.43 205.57C499.33 206.24 498.68 206.20 497.92 206.91C497.16 207.61 496.55 208.57 494.87 209.81C493.19 211.04 490.51 213.09 487.85 214.33C485.19 215.57 481.27 216.63 478.91 217.25C476.54 217.88 475.55 217.98 473.65 218.09C471.76 218.21 469.78 218.07 467.53 217.93C465.29 217.79 462.36 217.78 460.19 217.25C458.02 216.73 456.12 215.88 454.54 214.76C452.95 213.65 451.44 212.39 450.68 210.58C449.91 208.78 449.71 205.68 449.93 203.93Z" fill="none" stroke="#e672a8" stroke-width="0.68"/>
<path d="M455.48 204.46C455.31 203.21 456.11 202.32 456.73 201.51C457.34 200.70 458.18 200.14 459.19 199.58C460.19 199.02 461.09 198.59 462.74 198.16C464.39 197.73 466.72 197.06 469.08 197.01C471.44 196.96 474.62 197.55 476.90 197.87C479.17 198.19 481.00 198.50 482.73 198.92C484.47 199.34 486.11 199.87 487.32 200.40C488.54 200.94 489.34 201.59 490.02 202.14C490.71 202.70 491.07 203.14 491.44 203.73C491.81 204.32 492.10 205.18 492.24 205.68C492.38 206.18 492.45 206.12 492.30 206.72C492.14 207.32 492.47 208.20 491.31 209.30C490.14 210.39 487.69 212.37 485.31 213.27C482.94 214.17 479.09 214.44 477.06 214.68C475.03 214.93 474.50 214.73 473.13 214.74C471.75 214.74 470.28 214.97 468.82 214.72C467.36 214.48 465.66 213.82 464.36 213.28C463.06 212.74 462.12 212.18 461.02 211.47C459.92 210.76 458.67 210.20 457.75 209.04C456.83 207.87 455.65 205.71 455.48 204.46Z" fill="none" stroke="#e672a8" stroke-width="0.68"/>
<path d="M458.13 204.73C458.06 203.71 458.86 203.03 459.42 202.39C459.99 201.75 460.70 201.34 461.51 200.90C462.33 200.46 463.01 200.08 464.32 199.75C465.63 199.43 467.48 199.01 469.39 198.94C471.29 198.86 473.87 199.12 475.76 199.31C477.65 199.50 479.41 199.70 480.72 200.09C482.02 200.48 482.82 201.15 483.58 201.65C484.34 202.15 484.83 202.64 485.28 203.08C485.73 203.52 485.98 203.84 486.26 204.29C486.54 204.74 486.81 205.38 486.95 205.76C487.09 206.14 487.14 206.08 487.09 206.55C487.04 207.01 487.45 207.69 486.65 208.56C485.84 209.43 484.07 211.02 482.26 211.77C480.46 212.52 477.42 212.79 475.83 213.05C474.23 213.31 473.80 213.42 472.71 213.34C471.61 213.25 470.38 212.85 469.24 212.53C468.11 212.22 466.96 211.82 465.90 211.46C464.83 211.11 463.87 210.90 462.86 210.41C461.85 209.92 460.61 209.49 459.83 208.54C459.04 207.59 458.19 205.76 458.13 204.73Z" fill="none" stroke="#e672a8" stroke-width="0.68"/>
<path d="M461.00 205.03C460.97 204.23 461.52 203.71 461.94 203.21C462.36 202.71 462.89 202.38 463.52 202.04C464.16 201.71 464.72 201.41 465.75 201.20C466.78 200.99 468.16 200.88 469.67 200.77C471.19 200.65 473.44 200.36 474.82 200.51C476.20 200.67 477.05 201.31 477.96 201.69C478.86 202.06 479.61 202.41 480.26 202.75C480.91 203.10 481.42 203.44 481.84 203.76C482.26 204.08 482.52 204.33 482.79 204.67C483.06 205.01 483.32 205.52 483.45 205.81C483.58 206.11 483.62 206.06 483.58 206.43C483.54 206.80 483.84 207.33 483.20 208.01C482.55 208.69 481.10 209.90 479.70 210.51C478.30 211.13 476.07 211.56 474.81 211.70C473.54 211.84 472.99 211.48 472.11 211.35C471.23 211.23 470.45 211.08 469.55 210.94C468.64 210.80 467.56 210.76 466.68 210.53C465.80 210.31 465.04 210.01 464.28 209.59C463.52 209.17 462.69 208.75 462.14 207.99C461.60 207.23 461.04 205.82 461.00 205.03Z" fill="none" stroke="#e672a8" stroke-width="0.68"/>
<path d="M463.55 205.29C463.53 204.71 463.97 204.33 464.30 203.98C464.63 203.63 465.05 203.41 465.52 203.17C465.99 202.94 466.39 202.79 467.12 202.58C467.84 202.37 468.79 201.95 469.85 201.89C470.91 201.83 472.44 202.07 473.47 202.23C474.50 202.38 475.28 202.59 476.02 202.81C476.76 203.03 477.41 203.28 477.91 203.53C478.42 203.78 478.76 204.06 479.06 204.31C479.36 204.55 479.52 204.74 479.70 205.00C479.89 205.26 480.06 205.64 480.14 205.86C480.23 206.08 480.26 206.05 480.23 206.32C480.21 206.59 480.44 206.98 479.99 207.50C479.54 208.03 478.64 209.06 477.55 209.46C476.46 209.86 474.44 209.85 473.46 209.92C472.48 209.99 472.29 209.89 471.67 209.89C471.05 209.89 470.41 210.01 469.74 209.92C469.08 209.83 468.30 209.57 467.68 209.35C467.06 209.12 466.57 208.90 466.03 208.58C465.49 208.26 464.86 207.99 464.45 207.44C464.03 206.89 463.57 205.86 463.55 205.29Z" fill="none" stroke="#e672a8" stroke-width="0.68"/>
<path d="M465.90 205.53C465.89 205.14 466.16 204.89 466.35 204.65C466.55 204.40 466.78 204.24 467.07 204.05C467.35 203.87 467.57 203.69 468.07 203.55C468.57 203.40 469.31 203.20 470.05 203.18C470.80 203.16 471.80 203.34 472.52 203.44C473.23 203.53 473.84 203.63 474.35 203.77C474.85 203.92 475.23 204.14 475.56 204.32C475.89 204.50 476.14 204.68 476.35 204.84C476.56 205.01 476.69 205.14 476.83 205.31C476.96 205.49 477.10 205.75 477.17 205.90C477.24 206.05 477.26 206.03 477.24 206.22C477.22 206.41 477.42 206.70 477.05 207.04C476.69 207.38 475.83 207.97 475.07 208.24C474.32 208.52 473.14 208.57 472.52 208.67C471.90 208.77 471.77 208.85 471.35 208.84C470.93 208.83 470.45 208.70 470.00 208.59C469.55 208.49 469.06 208.34 468.65 208.20C468.23 208.06 467.87 207.94 467.50 207.73C467.13 207.53 466.71 207.33 466.45 206.97C466.18 206.60 465.92 205.91 465.90 205.53Z" fill="none" stroke="#e672a8" stroke-width="0.68"/>
<path d="M467.76 205.72C467.73 205.49 467.87 205.33 467.98 205.18C468.09 205.03 468.25 204.93 468.43 204.83C468.62 204.73 468.80 204.64 469.10 204.59C469.41 204.54 469.83 204.53 470.27 204.51C470.70 204.49 471.30 204.44 471.70 204.47C472.11 204.51 472.41 204.64 472.70 204.73C472.98 204.82 473.22 204.93 473.42 205.03C473.61 205.13 473.74 205.24 473.86 205.34C473.97 205.43 474.03 205.51 474.09 205.61C474.15 205.71 474.20 205.86 474.22 205.95C474.24 206.03 474.25 206.02 474.22 206.12C474.20 206.23 474.24 206.37 474.04 206.56C473.85 206.75 473.42 207.07 473.04 207.25C472.66 207.43 472.08 207.59 471.74 207.64C471.39 207.69 471.22 207.60 470.97 207.56C470.72 207.53 470.48 207.49 470.22 207.44C469.97 207.39 469.68 207.34 469.44 207.26C469.20 207.18 469.01 207.10 468.80 206.98C468.59 206.86 468.36 206.76 468.18 206.55C468.01 206.34 467.79 205.95 467.76 205.72Z" fill="none" stroke="#e672a8" stroke-width="0.68"/>
<ellipse cx="505" cy="203.3" rx="6.50" ry="2.80" transform="rotate(5 505 203.3)" fill="none" stroke="#e672a8" stroke-width="0.68"/>
<ellipse cx="505" cy="203.3" rx="3.90" ry="1.68" transform="rotate(5 505 203.3)" fill="none" stroke="#e672a8" stroke-width="0.68"/>
<ellipse cx="505" cy="203.3" rx="1.95" ry="0.84" transform="rotate(5 505 203.3)" fill="none" stroke="#e672a8" stroke-width="0.68"/>
<text x="388.9" y="17.00" font-size="9.4" text-anchor="middle" fill="#111" style="stroke:none">C4</text>
<text x="471.8" y="17.00" font-size="9.4" text-anchor="middle" fill="#111" style="stroke:none">C8</text>
<text x="308.4" y="97.60" font-size="9.4" text-anchor="middle" fill="#111" style="stroke:none">C1</text>
<text x="388.7" y="97.60" font-size="9.4" text-anchor="middle" fill="#111" style="stroke:none">C2</text>
<text x="473.0" y="97.60" font-size="9.4" text-anchor="middle" fill="#111" style="stroke:none">C3</text>
<text x="308.7" y="173.90" font-size="9.4" text-anchor="middle" fill="#111" style="stroke:none">C6</text>
<text x="391.5" y="174.00" font-size="9.4" text-anchor="middle" fill="#111" style="stroke:none">C12</text>
<text x="475.6" y="174.00" font-size="9.4" text-anchor="middle" fill="#111" style="stroke:none">C15</text>
<text transform="translate(296.20,17.30)" font-size="7.6" font-style="italic" text-anchor="middle" fill="#111">CCR7</text>
<text transform="translate(296.20,25.68)" font-size="7.6" font-style="italic" text-anchor="middle" fill="#111">GATA3</text>
<text transform="translate(296.20,34.06)" font-size="7.6" font-style="italic" text-anchor="middle" fill="#111">SELPLG</text>
<text transform="translate(296.20,42.44)" font-size="7.6" font-style="italic" text-anchor="middle" fill="#111">TOX</text>
<text transform="translate(342.70,23.20)" font-size="7.6" font-style="italic" text-anchor="middle" fill="#111">CCR10</text>
<text transform="translate(342.70,31.65)" font-size="7.6" font-style="italic" text-anchor="middle" fill="#111">LAG3</text>
<text transform="translate(342.70,40.10)" font-size="7.6" font-style="italic" text-anchor="middle" fill="#111">FUT7</text>
<text transform="translate(295.10,59.80)" font-size="7.6" font-style="italic" text-anchor="middle" fill="#111">CD5</text>
<text transform="translate(295.10,67.80)" font-size="7.6" font-style="italic" text-anchor="middle" fill="#111">CD7</text>
<text transform="translate(295.10,75.80)" font-size="7.6" font-style="italic" text-anchor="middle" fill="#111">CTLA4</text>
<text transform="translate(294.5,84.3)" font-size="7.6" text-anchor="middle" fill="#111">CD62L <tspan font-style="italic">(SELL)</tspan></text>
<text transform="translate(340.00,61.50)" font-size="7.6" font-style="italic" text-anchor="middle" fill="#111">CCR5</text>
<text transform="translate(340.00,69.90)" font-size="7.6" font-style="italic" text-anchor="middle" fill="#111">SELP</text>
<text transform="translate(340.00,78.30)" font-size="7.6" font-style="italic" text-anchor="middle" fill="#111">RORC</text>
<defs><marker id="ah" viewBox="0 0 10 10" refX="9" refY="5" markerWidth="5.0" markerHeight="5.0" orient="auto-start-reverse"><path d="M0 0L10 5L0 10z" fill="#111"/></marker>
<marker id="ah2" viewBox="0 0 10 10" refX="9" refY="5" markerWidth="5" markerHeight="5" orient="auto-start-reverse"><path d="M0 0L10 5L0 10z" fill="#111"/></marker></defs>
<line x1="308.6" y1="35.6" x2="334.6" y2="52.5" stroke="#111" stroke-width="1.1" marker-start="url(#ah)" marker-end="url(#ah)"/>
<line x1="307.3" y1="58.3" x2="330.3" y2="38.3" stroke="#111" stroke-width="1.1" marker-start="url(#ah)" marker-end="url(#ah)"/>
<path d="M259.7 200.5V248.9H309" stroke="#111" stroke-width="1.3" fill="none"/>
<path d="M256.9 203L259.7 196.8L262.5 203z" fill="#111"/>
<path d="M307 246.1L313.2 248.9L307 251.7z" fill="#111"/>
<text transform="translate(253.40,224.60) rotate(-90)" font-size="7.4" text-anchor="middle" fill="#111">PC-2</text>
<text transform="translate(283.00,261.00)" font-size="7.4" text-anchor="middle" fill="#111">PC-1</text>
<text transform="translate(236.30,310.00)" font-size="11.6" font-weight="bold" text-anchor="start" fill="#000" textLength="7.6" lengthAdjust="spacingAndGlyphs" style="stroke:none">C</text>
<text transform="translate(303.70,316.80)" font-size="9" text-anchor="middle" fill="#111" style="stroke:none">Skin homing</text>
<text transform="translate(303.70,328.40)" font-size="9" text-anchor="middle" fill="#111" style="stroke:none">T cell</text>
<text transform="translate(389.10,316.80)" font-size="9" text-anchor="middle" fill="#111" style="stroke:none">Memory</text>
<text transform="translate(389.10,328.40)" font-size="9" text-anchor="middle" fill="#111" style="stroke:none">T cells</text>
<text transform="translate(472.40,316.80)" font-size="9" text-anchor="middle" fill="#111" style="stroke:none">Regulatory</text>
<text transform="translate(472.40,328.40)" font-size="9" text-anchor="middle" fill="#111" style="stroke:none">T cells</text>
<line x1="261.5" y1="331.3" x2="343.5" y2="331.3" stroke="#777" stroke-width="0.9"/>
<line x1="348.7" y1="331.3" x2="430.7" y2="331.3" stroke="#777" stroke-width="0.9"/>
<line x1="435.2" y1="331.3" x2="518" y2="331.3" stroke="#777" stroke-width="0.9"/>
<text transform="translate(255.40,342.80)" font-size="8.0" text-anchor="end" fill="#111" style="stroke:none">C1</text>
<text transform="translate(255.40,354.23)" font-size="8.0" text-anchor="end" fill="#111" style="stroke:none">C2</text>
<text transform="translate(255.40,365.66)" font-size="8.0" text-anchor="end" fill="#111" style="stroke:none">C3</text>
<text transform="translate(255.40,377.09)" font-size="8.0" text-anchor="end" fill="#111" style="stroke:none">C4</text>
<text transform="translate(255.40,388.52)" font-size="8.0" text-anchor="end" fill="#111" style="stroke:none">C6</text>
<text transform="translate(255.40,399.95)" font-size="8.0" text-anchor="end" fill="#111" style="stroke:none">C7</text>
<text transform="translate(255.40,411.38)" font-size="8.0" text-anchor="end" fill="#111" style="stroke:none">C8</text>
<text transform="translate(255.40,422.81)" font-size="8.0" text-anchor="end" fill="#111" style="stroke:none">C9</text>
<text transform="translate(255.40,434.24)" font-size="8.0" text-anchor="end" fill="#111" style="stroke:none">C10</text>
<text transform="translate(255.40,445.67)" font-size="8.0" text-anchor="end" fill="#111" style="stroke:none">C12</text>
<text transform="translate(255.40,457.10)" font-size="8.0" text-anchor="end" fill="#111" style="stroke:none">C15</text>
<line x1="258.60" y1="334.2" x2="258.60" y2="459.8" stroke="#8a8a8a" stroke-width="0.8"/>
<path d="M258.6 339.90H274.6M258.6 351.33H274.6M258.6 362.76H274.6M258.6 374.19H274.6M258.6 385.62H274.6M258.6 397.05H274.6M258.6 408.48H274.6M258.6 419.91H274.6M258.6 431.34H274.6M258.6 442.77H274.6M258.6 454.20H274.6" stroke="#858585" stroke-width="0.8" fill="none"/>
<path d="M258.6 335.0L259.0 336.6L259.5 338.0L259.9 339.1L260.3 339.6L260.8 339.6L261.2 339.6L261.6 339.6L262.1 339.6L262.5 339.4L262.9 338.9L263.4 338.5L263.8 338.1L264.2 337.8L264.7 337.5L265.1 337.2L265.5 336.9L266.0 336.6L266.4 336.7L266.8 337.0L267.2 337.2L267.7 337.5L268.1 337.8L268.5 338.1L269.0 338.3L269.4 338.6L269.8 338.9L270.3 339.2L270.7 339.4L271.1 339.6L271.6 339.9L271.6 339.9L271.1 340.1L270.7 340.4L270.3 340.6L269.8 340.9L269.4 341.2L269.0 341.5L268.5 341.7L268.1 342.0L267.7 342.3L267.2 342.6L266.8 342.8L266.4 343.1L266.0 343.2L265.5 342.9L265.1 342.6L264.7 342.3L264.2 342.0L263.8 341.7L263.4 341.3L262.9 340.9L262.5 340.4L262.1 340.1L261.6 340.1L261.2 340.1L260.8 340.1L260.3 340.1L259.9 340.7L259.5 341.8L259.0 343.2L258.6 344.8Z" fill="#e9727a" stroke="#3a3a3a" stroke-width="0.45"/>
<path d="M258.6 346.4L259.1 348.2L259.6 349.7L260.1 350.9L260.5 351.1L261.0 351.1L261.5 351.1L262.0 351.1L262.5 351.1L263.0 351.1L263.4 351.1L263.9 351.1L264.4 351.1L264.9 351.0L265.4 350.8L265.9 350.6L266.4 350.5L266.8 350.3L267.3 350.2L267.8 350.0L268.3 350.0L268.8 350.1L269.3 350.3L269.7 350.4L270.2 350.5L270.7 350.7L271.2 350.8L271.7 351.0L272.2 351.1L272.7 351.1L273.1 351.3L273.1 351.3L272.7 351.6L272.2 351.6L271.7 351.7L271.2 351.8L270.7 352.0L270.2 352.1L269.7 352.3L269.3 352.4L268.8 352.5L268.3 352.7L267.8 352.6L267.3 352.5L266.8 352.4L266.4 352.2L265.9 352.0L265.4 351.8L264.9 351.6L264.4 351.6L263.9 351.6L263.4 351.6L263.0 351.6L262.5 351.6L262.0 351.6L261.5 351.6L261.0 351.6L260.5 351.6L260.1 351.7L259.6 353.0L259.1 354.5L258.6 356.2Z" fill="#de8a44" stroke="#3a3a3a" stroke-width="0.45"/>
<path d="M258.6 357.9L259.0 359.3L259.4 360.5L259.8 361.7L260.2 362.5L260.5 362.5L260.9 362.0L261.3 361.6L261.7 361.2L262.1 360.9L262.5 360.6L262.9 360.3L263.3 360.0L263.6 359.7L264.0 359.4L264.4 359.2L264.8 358.9L265.2 358.8L265.6 359.2L266.0 359.5L266.4 359.8L266.8 360.1L267.1 360.4L267.5 360.7L267.9 361.0L268.3 361.3L268.7 361.6L269.1 361.9L269.5 362.2L269.9 362.5L270.3 362.8L270.3 362.8L269.9 363.0L269.5 363.3L269.1 363.6L268.7 363.9L268.3 364.2L267.9 364.5L267.5 364.8L267.1 365.1L266.8 365.4L266.4 365.7L266.0 366.0L265.6 366.4L265.2 366.7L264.8 366.6L264.4 366.3L264.0 366.1L263.6 365.8L263.3 365.5L262.9 365.2L262.5 364.9L262.1 364.6L261.7 364.3L261.3 363.9L260.9 363.5L260.5 363.0L260.2 363.0L259.8 363.8L259.4 365.0L259.0 366.3L258.6 367.7Z" fill="#c9a030" stroke="#3a3a3a" stroke-width="0.45"/>
<path d="M258.6 369.3L259.0 370.6L259.3 371.8L259.7 372.9L260.1 373.8L260.4 373.9L260.8 373.9L261.2 373.9L261.5 373.9L261.9 373.7L262.3 373.6L262.6 373.4L263.0 373.3L263.4 373.2L263.8 373.1L264.1 373.0L264.5 372.9L264.9 373.0L265.2 373.1L265.6 373.2L266.0 373.3L266.3 373.4L266.7 373.5L267.1 373.5L267.4 373.6L267.8 373.7L268.2 373.8L268.5 373.9L268.9 373.9L269.3 373.9L269.6 374.2L269.6 374.2L269.3 374.4L268.9 374.4L268.5 374.5L268.2 374.5L267.8 374.6L267.4 374.7L267.1 374.8L266.7 374.9L266.3 375.0L266.0 375.1L265.6 375.2L265.2 375.3L264.9 375.4L264.5 375.5L264.1 375.4L263.8 375.3L263.4 375.2L263.0 375.0L262.6 374.9L262.3 374.8L261.9 374.7L261.5 374.5L261.2 374.4L260.8 374.4L260.4 374.4L260.1 374.5L259.7 375.4L259.3 376.5L259.0 377.8L258.6 379.1Z" fill="#a2a23c" stroke="#3a3a3a" stroke-width="0.45"/>
<path d="M258.6 380.6L259.1 381.9L259.6 383.0L260.2 384.1L260.7 385.0L261.2 385.4L261.7 385.4L262.2 385.4L262.7 385.4L263.3 385.4L263.8 385.4L264.3 385.4L264.8 385.4L265.3 385.4L265.9 385.3L266.4 385.1L266.9 384.9L267.4 384.7L267.9 384.5L268.4 384.3L269.0 384.2L269.5 384.2L270.0 384.4L270.5 384.6L271.0 384.7L271.6 384.9L272.1 385.0L272.6 385.2L273.1 385.3L273.6 385.4L274.1 385.6L274.1 385.6L273.6 385.9L273.1 385.9L272.6 386.1L272.1 386.2L271.6 386.4L271.0 386.5L270.5 386.7L270.0 386.8L269.5 387.0L269.0 387.1L268.4 386.9L267.9 386.7L267.4 386.6L266.9 386.4L266.4 386.2L265.9 385.9L265.3 385.9L264.8 385.9L264.3 385.9L263.8 385.9L263.3 385.9L262.7 385.9L262.2 385.9L261.7 385.9L261.2 385.9L260.7 386.2L260.2 387.2L259.6 388.2L259.1 389.4L258.6 390.6Z" fill="#2fa54e" stroke="#3a3a3a" stroke-width="0.45"/>
<path d="M258.6 392.1L258.9 393.2L259.2 394.2L259.5 395.1L259.7 395.9L260.0 396.6L260.3 397.0L260.3 397.0L260.0 397.5L259.7 398.2L259.5 399.0L259.2 399.9L258.9 400.9L258.6 401.9Z" fill="#3bb388" stroke="#3a3a3a" stroke-width="0.45"/>
<path d="M258.6 403.6L259.0 404.9L259.4 406.2L259.7 407.3L260.1 408.2L260.5 408.2L260.9 408.2L261.2 408.2L261.6 408.2L262.0 407.9L262.4 407.5L262.8 407.2L263.1 406.8L263.5 406.6L263.9 406.3L264.3 406.0L264.6 405.8L265.0 405.5L265.4 405.7L265.8 405.9L266.2 406.2L266.5 406.4L266.9 406.6L267.3 406.9L267.7 407.1L268.0 407.4L268.4 407.6L268.8 407.8L269.2 408.1L269.6 408.2L269.9 408.5L269.9 408.5L269.6 408.7L269.2 408.9L268.8 409.1L268.4 409.4L268.0 409.6L267.7 409.8L267.3 410.1L266.9 410.3L266.5 410.6L266.2 410.8L265.8 411.0L265.4 411.3L265.0 411.4L264.6 411.2L264.3 410.9L263.9 410.7L263.5 410.4L263.1 410.1L262.8 409.8L262.4 409.5L262.0 409.1L261.6 408.7L261.2 408.7L260.9 408.7L260.5 408.7L260.1 408.8L259.7 409.7L259.4 410.8L259.0 412.0L258.6 413.4Z" fill="#2cb2a2" stroke="#3a3a3a" stroke-width="0.45"/>
<path d="M258.6 414.5L259.1 415.5L259.6 416.5L260.1 417.5L260.5 418.3L261.0 419.1L261.5 419.7L262.0 419.7L262.5 419.7L263.0 419.7L263.4 419.7L263.9 419.7L264.4 419.7L264.9 419.7L265.4 419.5L265.9 419.3L266.4 419.2L266.8 419.0L267.3 418.9L267.8 418.8L268.3 418.8L268.8 418.9L269.3 419.0L269.7 419.1L270.2 419.2L270.7 419.4L271.2 419.5L271.7 419.6L272.2 419.7L272.7 419.7L273.1 419.9L273.1 419.9L272.7 420.2L272.2 420.2L271.7 420.2L271.2 420.4L270.7 420.5L270.2 420.6L269.7 420.7L269.3 420.8L268.8 420.9L268.3 421.1L267.8 421.0L267.3 420.9L266.8 420.8L266.4 420.7L265.9 420.5L265.4 420.3L264.9 420.2L264.4 420.2L263.9 420.2L263.4 420.2L263.0 420.2L262.5 420.2L262.0 420.2L261.5 420.2L261.0 420.8L260.5 421.5L260.1 422.4L259.6 423.3L259.1 424.3L258.6 425.3Z" fill="#23a5b8" stroke="#3a3a3a" stroke-width="0.45"/>
<path d="M258.6 426.4L258.9 427.5L259.2 428.4L259.5 429.3L259.7 430.2L260.0 430.9L260.3 431.3L260.3 431.3L260.0 431.8L259.7 432.5L259.5 433.3L259.2 434.2L258.9 435.2L258.6 436.2Z" fill="#3d8fd0" stroke="#3a3a3a" stroke-width="0.45"/>
<path d="M258.6 437.9L259.0 439.3L259.4 440.6L259.8 441.3L260.2 440.9L260.6 440.6L261.0 440.2L261.3 439.9L261.7 439.6L262.1 439.3L262.5 439.1L262.9 438.8L263.3 438.5L263.7 438.3L264.1 438.0L264.5 438.2L264.9 438.5L265.3 438.8L265.7 439.2L266.1 439.5L266.5 439.8L266.8 440.1L267.2 440.4L267.6 440.7L268.0 441.0L268.4 441.3L268.8 441.6L269.2 441.9L269.6 442.2L270.0 442.5L270.4 442.8L270.4 442.8L270.0 443.0L269.6 443.3L269.2 443.6L268.8 443.9L268.4 444.2L268.0 444.5L267.6 444.8L267.2 445.1L266.8 445.4L266.5 445.8L266.1 446.1L265.7 446.4L265.3 446.7L264.9 447.0L264.5 447.3L264.1 447.5L263.7 447.3L263.3 447.0L262.9 446.7L262.5 446.5L262.1 446.2L261.7 445.9L261.3 445.6L261.0 445.3L260.6 445.0L260.2 444.6L259.8 444.3L259.4 445.0L259.0 446.3L258.6 447.7Z" fill="#9a84c8" stroke="#3a3a3a" stroke-width="0.45"/>
<path d="M258.6 449.3L259.0 450.7L259.4 452.0L259.8 452.3L260.2 451.9L260.6 451.6L261.0 451.3L261.4 451.0L261.8 450.7L262.2 450.4L262.5 450.1L262.9 449.9L263.3 449.6L263.7 449.4L264.1 449.3L264.5 449.6L264.9 449.9L265.3 450.3L265.7 450.6L266.1 450.9L266.5 451.2L266.9 451.5L267.3 451.8L267.7 452.1L268.1 452.5L268.5 452.8L268.9 453.1L269.3 453.4L269.7 453.6L270.0 453.9L270.4 454.2L270.4 454.2L270.0 454.5L269.7 454.8L269.3 455.0L268.9 455.3L268.5 455.6L268.1 455.9L267.7 456.3L267.3 456.6L266.9 456.9L266.5 457.2L266.1 457.5L265.7 457.8L265.3 458.1L264.9 458.5L264.5 458.8L264.1 459.1L263.7 459.0L263.3 458.8L262.9 458.5L262.5 458.3L262.2 458.0L261.8 457.7L261.4 457.4L261.0 457.1L260.6 456.8L260.2 456.5L259.8 456.1L259.4 456.4L259.0 457.7L258.6 459.1Z" fill="#e7619e" stroke="#3a3a3a" stroke-width="0.45"/>
<text transform="translate(269.75,463.00) rotate(-90)" font-size="8.0" font-style="italic" text-anchor="end" fill="#111">ITGB1</text>
<line x1="280.53" y1="334.2" x2="280.53" y2="459.8" stroke="#8a8a8a" stroke-width="0.8"/>
<path d="M280.5 339.90H296.5M280.5 351.33H296.5M280.5 362.76H296.5M280.5 374.19H296.5M280.5 385.62H296.5M280.5 397.05H296.5M280.5 408.48H296.5M280.5 419.91H296.5M280.5 431.34H296.5M280.5 442.77H296.5M280.5 454.20H296.5" stroke="#858585" stroke-width="0.8" fill="none"/>
<path d="M280.5 335.0L280.8 336.0L281.1 337.0L281.4 337.9L281.7 338.7L281.9 339.4L282.2 339.9L282.2 339.9L281.9 340.4L281.7 341.1L281.4 341.9L281.1 342.8L280.8 343.8L280.5 344.8Z" fill="#e9727a" stroke="#3a3a3a" stroke-width="0.45"/>
<path d="M280.5 346.4L280.8 347.5L281.1 348.4L281.4 349.3L281.7 350.2L281.9 350.9L282.2 351.3L282.2 351.3L281.9 351.8L281.7 352.5L281.4 353.3L281.1 354.2L280.8 355.2L280.5 356.2Z" fill="#de8a44" stroke="#3a3a3a" stroke-width="0.45"/>
<path d="M280.5 357.9L281.0 359.5L281.4 360.9L281.9 362.1L282.3 362.5L282.8 362.5L283.2 362.5L283.7 362.5L284.1 362.5L284.6 362.5L285.0 362.5L285.5 362.5L285.9 362.5L286.4 362.4L286.8 362.2L287.3 362.1L287.8 362.0L288.2 361.9L288.7 361.8L289.1 361.8L289.6 361.9L290.0 362.0L290.5 362.1L290.9 362.1L291.4 362.2L291.8 362.3L292.3 362.4L292.7 362.5L293.2 362.5L293.6 362.5L294.1 362.8L294.1 362.8L293.6 363.0L293.2 363.0L292.7 363.0L292.3 363.1L291.8 363.2L291.4 363.3L290.9 363.4L290.5 363.5L290.0 363.6L289.6 363.7L289.1 363.7L288.7 363.7L288.2 363.6L287.8 363.5L287.3 363.4L286.8 363.3L286.4 363.1L285.9 363.0L285.5 363.0L285.0 363.0L284.6 363.0L284.1 363.0L283.7 363.0L283.2 363.0L282.8 363.0L282.3 363.0L281.9 363.4L281.4 364.6L281.0 366.0L280.5 367.7Z" fill="#c9a030" stroke="#3a3a3a" stroke-width="0.45"/>
<path d="M280.5 369.3L280.8 370.3L281.1 371.3L281.4 372.2L281.7 373.0L281.9 373.7L282.2 374.2L282.2 374.2L281.9 374.7L281.7 375.4L281.4 376.2L281.1 377.1L280.8 378.1L280.5 379.1Z" fill="#a2a23c" stroke="#3a3a3a" stroke-width="0.45"/>
<path d="M280.5 380.7L280.8 381.8L281.1 382.7L281.4 383.6L281.7 384.4L281.9 385.1L282.2 385.6L282.2 385.6L281.9 386.1L281.7 386.8L281.4 387.6L281.1 388.5L280.8 389.5L280.5 390.5Z" fill="#2fa54e" stroke="#3a3a3a" stroke-width="0.45"/>
<path d="M280.5 392.1L280.8 393.2L281.1 394.2L281.4 395.1L281.7 395.9L281.9 396.6L282.2 397.0L282.2 397.0L281.9 397.5L281.7 398.2L281.4 399.0L281.1 399.9L280.8 400.9L280.5 401.9Z" fill="#3bb388" stroke="#3a3a3a" stroke-width="0.45"/>
<path d="M280.5 403.6L280.8 404.6L281.1 405.6L281.4 406.5L281.7 407.3L281.9 408.0L282.2 408.5L282.2 408.5L281.9 409.0L281.7 409.7L281.4 410.5L281.1 411.4L280.8 412.3L280.5 413.4Z" fill="#2cb2a2" stroke="#3a3a3a" stroke-width="0.45"/>
<path d="M280.5 415.0L280.8 416.0L281.1 417.0L281.4 417.9L281.7 418.7L281.9 419.4L282.2 419.9L282.2 419.9L281.9 420.4L281.7 421.1L281.4 421.9L281.1 422.8L280.8 423.8L280.5 424.8Z" fill="#23a5b8" stroke="#3a3a3a" stroke-width="0.45"/>
<path d="M280.5 426.4L280.8 427.5L281.1 428.4L281.4 429.3L281.7 430.2L281.9 430.9L282.2 431.3L282.2 431.3L281.9 431.8L281.7 432.5L281.4 433.3L281.1 434.2L280.8 435.2L280.5 436.2Z" fill="#3d8fd0" stroke="#3a3a3a" stroke-width="0.45"/>
<path d="M280.5 437.9L280.9 439.3L281.3 440.6L281.7 441.8L282.1 442.5L282.5 442.5L282.9 442.5L283.3 442.5L283.7 442.5L284.1 442.5L284.5 442.5L284.9 442.4L285.3 442.3L285.7 442.2L286.1 442.1L286.6 442.1L287.0 442.0L287.4 441.9L287.8 441.9L288.2 442.0L288.6 442.1L289.0 442.1L289.4 442.2L289.8 442.3L290.2 442.4L290.6 442.4L291.0 442.5L291.4 442.5L291.8 442.5L292.2 442.5L292.6 442.8L292.6 442.8L292.2 443.0L291.8 443.0L291.4 443.0L291.0 443.0L290.6 443.1L290.2 443.2L289.8 443.3L289.4 443.3L289.0 443.4L288.6 443.5L288.2 443.6L287.8 443.6L287.4 443.6L287.0 443.6L286.6 443.5L286.1 443.4L285.7 443.3L285.3 443.2L284.9 443.1L284.5 443.0L284.1 443.0L283.7 443.0L283.3 443.0L282.9 443.0L282.5 443.0L282.1 443.0L281.7 443.8L281.3 444.9L280.9 446.2L280.5 447.7Z" fill="#9a84c8" stroke="#3a3a3a" stroke-width="0.45"/>
<path d="M280.5 449.3L280.8 450.3L281.1 451.3L281.4 452.2L281.7 453.0L281.9 453.7L282.2 454.2L282.2 454.2L281.9 454.7L281.7 455.4L281.4 456.2L281.1 457.1L280.8 458.1L280.5 459.1Z" fill="#e7619e" stroke="#3a3a3a" stroke-width="0.45"/>
<text transform="translate(291.68,463.00) rotate(-90)" font-size="8.0" font-style="italic" text-anchor="end" fill="#111">FUT7</text>
<line x1="302.46" y1="334.2" x2="302.46" y2="459.8" stroke="#8a8a8a" stroke-width="0.8"/>
<path d="M302.5 339.90H318.5M302.5 351.33H318.5M302.5 362.76H318.5M302.5 374.19H318.5M302.5 385.62H318.5M302.5 397.05H318.5M302.5 408.48H318.5M302.5 419.91H318.5M302.5 431.34H318.5M302.5 442.77H318.5M302.5 454.20H318.5" stroke="#858585" stroke-width="0.8" fill="none"/>
<path d="M302.5 335.0L302.9 336.6L303.3 338.0L303.8 339.2L304.2 339.6L304.7 339.6L305.1 339.6L305.5 339.6L306.0 339.6L306.4 339.6L306.9 339.6L307.3 339.6L307.7 339.6L308.2 339.6L308.6 339.6L309.1 339.1L309.5 338.7L309.9 338.3L310.4 338.0L310.8 337.7L311.3 337.4L311.7 337.4L312.1 337.7L312.6 338.0L313.0 338.3L313.4 338.6L313.9 338.9L314.3 339.1L314.8 339.4L315.2 339.6L315.6 339.9L315.6 339.9L315.2 340.1L314.8 340.4L314.3 340.7L313.9 340.9L313.4 341.2L313.0 341.5L312.6 341.8L312.1 342.1L311.7 342.4L311.3 342.4L310.8 342.1L310.4 341.8L309.9 341.5L309.5 341.1L309.1 340.7L308.6 340.2L308.2 340.1L307.7 340.1L307.3 340.1L306.9 340.1L306.4 340.1L306.0 340.1L305.5 340.1L305.1 340.1L304.7 340.1L304.2 340.1L303.8 340.6L303.3 341.8L302.9 343.2L302.5 344.8Z" fill="#e9727a" stroke="#3a3a3a" stroke-width="0.45"/>
<path d="M302.5 346.4L303.0 348.3L303.5 350.0L304.1 351.1L304.6 351.1L305.1 351.1L305.7 351.1L306.2 351.1L306.7 351.1L307.3 351.1L307.8 351.1L308.3 351.1L308.9 351.1L309.4 351.1L309.9 351.1L310.5 350.9L311.0 350.7L311.5 350.5L312.1 350.3L312.6 350.2L313.2 350.0L313.7 350.0L314.2 350.2L314.8 350.3L315.3 350.5L315.8 350.6L316.4 350.8L316.9 350.9L317.4 351.1L318.0 351.1L318.5 351.3L318.5 351.3L318.0 351.6L317.4 351.6L316.9 351.8L316.4 351.9L315.8 352.0L315.3 352.2L314.8 352.4L314.2 352.5L313.7 352.7L313.2 352.6L312.6 352.5L312.1 352.3L311.5 352.1L311.0 351.9L310.5 351.7L309.9 351.6L309.4 351.6L308.9 351.6L308.3 351.6L307.8 351.6L307.3 351.6L306.7 351.6L306.2 351.6L305.7 351.6L305.1 351.6L304.6 351.6L304.1 351.6L303.5 352.7L303.0 354.3L302.5 356.2Z" fill="#de8a44" stroke="#3a3a3a" stroke-width="0.45"/>
<path d="M302.5 357.9L302.9 359.4L303.3 360.8L303.7 361.9L304.1 362.5L304.6 362.5L305.0 362.5L305.4 362.5L305.8 362.0L306.3 361.5L306.7 361.1L307.1 360.8L307.5 360.4L307.9 360.1L308.4 359.8L308.8 359.5L309.2 359.2L309.6 359.0L310.1 358.8L310.5 359.2L310.9 359.5L311.3 359.9L311.7 360.2L312.2 360.5L312.6 360.9L313.0 361.2L313.4 361.5L313.8 361.8L314.3 362.2L314.7 362.5L315.1 362.8L315.1 362.8L314.7 363.0L314.3 363.4L313.8 363.7L313.4 364.0L313.0 364.3L312.6 364.7L312.2 365.0L311.7 365.3L311.3 365.7L310.9 366.0L310.5 366.3L310.1 366.7L309.6 366.6L309.2 366.3L308.8 366.0L308.4 365.7L307.9 365.4L307.5 365.1L307.1 364.7L306.7 364.4L306.3 364.0L305.8 363.5L305.4 363.0L305.0 363.0L304.6 363.0L304.1 363.0L303.7 363.6L303.3 364.8L302.9 366.1L302.5 367.7Z" fill="#c9a030" stroke="#3a3a3a" stroke-width="0.45"/>
<path d="M302.5 369.3L302.8 370.7L303.2 372.0L303.6 373.1L304.0 373.9L304.4 373.9L304.8 373.9L305.2 373.9L305.5 373.9L305.9 373.7L306.3 373.4L306.7 373.2L307.1 373.0L307.5 372.8L307.8 372.7L308.2 372.5L308.6 372.3L309.0 372.2L309.4 372.4L309.8 372.5L310.2 372.7L310.5 372.8L310.9 373.0L311.3 373.2L311.7 373.3L312.1 373.5L312.5 373.6L312.8 373.8L313.2 373.9L313.6 373.9L314.0 374.2L314.0 374.2L313.6 374.4L313.2 374.5L312.8 374.6L312.5 374.8L312.1 374.9L311.7 375.1L311.3 375.2L310.9 375.4L310.5 375.5L310.2 375.7L309.8 375.9L309.4 376.0L309.0 376.2L308.6 376.0L308.2 375.9L307.8 375.7L307.5 375.5L307.1 375.4L306.7 375.2L306.3 375.0L305.9 374.7L305.5 374.4L305.2 374.4L304.8 374.4L304.4 374.4L304.0 374.4L303.6 375.3L303.2 376.4L302.8 377.7L302.5 379.1Z" fill="#a2a23c" stroke="#3a3a3a" stroke-width="0.45"/>
<path d="M302.5 380.8L303.1 382.3L303.7 383.7L304.3 384.8L304.9 385.4L305.5 385.4L306.1 385.4L306.7 385.4L307.3 385.4L307.9 385.4L308.5 385.4L309.1 385.4L309.7 385.4L310.3 385.4L310.9 385.4L311.5 385.4L312.1 385.4L312.7 385.1L313.3 384.9L313.9 384.6L314.5 384.4L315.1 384.2L315.7 384.2L316.3 384.4L316.9 384.6L317.5 384.7L318.1 384.9L318.7 385.1L319.3 385.3L319.9 385.4L320.5 385.6L320.5 385.6L319.9 385.9L319.3 386.0L318.7 386.1L318.1 386.3L317.5 386.5L316.9 386.7L316.3 386.9L315.7 387.0L315.1 387.0L314.5 386.8L313.9 386.6L313.3 386.4L312.7 386.1L312.1 385.9L311.5 385.9L310.9 385.9L310.3 385.9L309.7 385.9L309.1 385.9L308.5 385.9L307.9 385.9L307.3 385.9L306.7 385.9L306.1 385.9L305.5 385.9L304.9 385.9L304.3 386.4L303.7 387.6L303.1 388.9L302.5 390.4Z" fill="#2fa54e" stroke="#3a3a3a" stroke-width="0.45"/>
<path d="M302.5 392.1L302.7 393.2L303.0 394.2L303.3 395.1L303.6 395.9L303.9 396.6L304.2 397.0L304.2 397.0L303.9 397.5L303.6 398.2L303.3 399.0L303.0 399.9L302.7 400.9L302.5 401.9Z" fill="#3bb388" stroke="#3a3a3a" stroke-width="0.45"/>
<path d="M302.5 403.6L302.9 405.1L303.3 406.4L303.7 407.6L304.1 408.2L304.5 408.2L304.9 408.2L305.3 408.2L305.7 408.2L306.2 408.2L306.6 408.2L307.0 407.8L307.4 407.4L307.8 407.0L308.2 406.7L308.6 406.4L309.0 406.1L309.4 405.8L309.9 405.5L310.3 405.7L310.7 405.9L311.1 406.2L311.5 406.5L311.9 406.7L312.3 407.0L312.7 407.3L313.1 407.5L313.6 407.8L314.0 408.0L314.4 408.2L314.8 408.5L314.8 408.5L314.4 408.7L314.0 408.9L313.6 409.2L313.1 409.4L312.7 409.7L312.3 410.0L311.9 410.2L311.5 410.5L311.1 410.7L310.7 411.0L310.3 411.3L309.9 411.4L309.4 411.2L309.0 410.9L308.6 410.6L308.2 410.3L307.8 410.0L307.4 409.6L307.0 409.2L306.6 408.7L306.2 408.7L305.7 408.7L305.3 408.7L304.9 408.7L304.5 408.7L304.1 408.7L303.7 409.4L303.3 410.6L302.9 411.9L302.5 413.4Z" fill="#2cb2a2" stroke="#3a3a3a" stroke-width="0.45"/>
<path d="M302.5 415.0L302.7 416.0L303.0 417.0L303.3 417.9L303.6 418.7L303.9 419.4L304.2 419.9L304.2 419.9L303.9 420.4L303.6 421.1L303.3 421.9L303.0 422.8L302.7 423.8L302.5 424.8Z" fill="#23a5b8" stroke="#3a3a3a" stroke-width="0.45"/>
<path d="M302.5 426.4L302.7 427.5L303.0 428.4L303.3 429.3L303.6 430.2L303.9 430.9L304.2 431.3L304.2 431.3L303.9 431.8L303.6 432.5L303.3 433.3L303.0 434.2L302.7 435.2L302.5 436.2Z" fill="#3d8fd0" stroke="#3a3a3a" stroke-width="0.45"/>
<path d="M302.5 437.9L302.9 439.4L303.3 440.8L303.7 442.0L304.2 442.5L304.6 442.2L305.0 441.7L305.4 441.2L305.9 440.8L306.3 440.5L306.7 440.2L307.2 439.8L307.6 439.5L308.0 439.2L308.4 438.9L308.9 438.7L309.3 438.4L309.7 438.5L310.1 438.8L310.6 439.2L311.0 439.5L311.4 439.9L311.8 440.2L312.3 440.5L312.7 440.9L313.1 441.2L313.5 441.5L314.0 441.8L314.4 442.2L314.8 442.5L315.3 442.8L315.3 442.8L314.8 443.1L314.4 443.4L314.0 443.7L313.5 444.0L313.1 444.3L312.7 444.7L312.3 445.0L311.8 445.4L311.4 445.7L311.0 446.0L310.6 446.4L310.1 446.7L309.7 447.1L309.3 447.2L308.9 446.9L308.4 446.6L308.0 446.3L307.6 446.0L307.2 445.7L306.7 445.4L306.3 445.1L305.9 444.7L305.4 444.3L305.0 443.9L304.6 443.4L304.2 443.0L303.7 443.6L303.3 444.8L302.9 446.1L302.5 447.7Z" fill="#9a84c8" stroke="#3a3a3a" stroke-width="0.45"/>
<path d="M302.5 449.3L302.9 450.8L303.3 452.1L303.7 452.8L304.1 452.4L304.5 452.0L304.9 451.7L305.4 451.3L305.8 451.0L306.2 450.7L306.6 450.4L307.0 450.1L307.4 449.9L307.9 449.6L308.3 449.3L308.7 449.4L309.1 449.7L309.5 450.1L309.9 450.4L310.3 450.7L310.8 451.1L311.2 451.4L311.6 451.7L312.0 452.0L312.4 452.4L312.8 452.7L313.2 453.0L313.7 453.3L314.1 453.6L314.5 453.9L314.9 454.2L314.9 454.2L314.5 454.5L314.1 454.8L313.7 455.1L313.2 455.4L312.8 455.7L312.4 456.0L312.0 456.4L311.6 456.7L311.2 457.0L310.8 457.3L310.3 457.7L309.9 458.0L309.5 458.3L309.1 458.7L308.7 459.0L308.3 459.1L307.9 458.8L307.4 458.5L307.0 458.3L306.6 458.0L306.2 457.7L305.8 457.4L305.4 457.1L304.9 456.7L304.5 456.4L304.1 456.0L303.7 455.6L303.3 456.3L302.9 457.6L302.5 459.1Z" fill="#e7619e" stroke="#3a3a3a" stroke-width="0.45"/>
<text transform="translate(313.61,463.00) rotate(-90)" font-size="8.0" font-style="italic" text-anchor="end" fill="#111">SELPLG</text>
<line x1="324.39" y1="334.2" x2="324.39" y2="459.8" stroke="#8a8a8a" stroke-width="0.8"/>
<path d="M324.4 339.90H340.4M324.4 351.33H340.4M324.4 362.76H340.4M324.4 374.19H340.4M324.4 385.62H340.4M324.4 397.05H340.4M324.4 408.48H340.4M324.4 419.91H340.4M324.4 431.34H340.4M324.4 442.77H340.4M324.4 454.20H340.4" stroke="#858585" stroke-width="0.8" fill="none"/>
<path d="M324.4 335.0L324.7 336.2L325.1 337.3L325.4 338.4L325.7 339.2L326.1 339.6L326.4 339.6L326.7 339.6L327.1 339.5L327.4 339.4L327.7 339.3L328.1 339.3L328.4 339.2L328.7 339.1L329.1 339.1L329.4 339.0L329.7 339.1L330.1 339.1L330.4 339.2L330.7 339.3L331.1 339.3L331.4 339.4L331.8 339.4L332.1 339.5L332.4 339.6L332.8 339.6L333.1 339.6L333.4 339.6L333.8 339.6L334.1 339.6L334.4 339.9L334.4 339.9L334.1 340.1L333.8 340.1L333.4 340.1L333.1 340.1L332.8 340.2L332.4 340.2L332.1 340.3L331.8 340.4L331.4 340.4L331.1 340.5L330.7 340.5L330.4 340.6L330.1 340.7L329.7 340.7L329.4 340.8L329.1 340.7L328.7 340.7L328.4 340.6L328.1 340.5L327.7 340.5L327.4 340.4L327.1 340.3L326.7 340.2L326.4 340.2L326.1 340.1L325.7 340.6L325.4 341.4L325.1 342.5L324.7 343.6L324.4 344.8Z" fill="#e9727a" stroke="#3a3a3a" stroke-width="0.45"/>
<path d="M324.4 346.4L324.7 347.5L325.0 348.4L325.2 349.3L325.5 350.2L325.8 350.9L326.1 351.3L326.1 351.3L325.8 351.8L325.5 352.5L325.2 353.3L325.0 354.2L324.7 355.2L324.4 356.2Z" fill="#de8a44" stroke="#3a3a3a" stroke-width="0.45"/>
<path d="M324.4 357.9L324.7 359.1L325.1 360.2L325.4 361.2L325.7 362.1L326.1 362.5L326.4 362.5L326.7 362.4L327.1 362.3L327.4 362.2L327.7 362.1L328.1 362.0L328.4 362.0L328.7 361.9L329.1 361.8L329.4 361.8L329.7 361.8L330.1 361.9L330.4 362.0L330.7 362.0L331.1 362.1L331.4 362.2L331.8 362.2L332.1 362.3L332.4 362.4L332.8 362.4L333.1 362.5L333.4 362.5L333.8 362.5L334.1 362.5L334.4 362.8L334.4 362.8L334.1 363.0L333.8 363.0L333.4 363.0L333.1 363.0L332.8 363.1L332.4 363.1L332.1 363.2L331.8 363.3L331.4 363.3L331.1 363.4L330.7 363.5L330.4 363.5L330.1 363.6L329.7 363.7L329.4 363.8L329.1 363.7L328.7 363.6L328.4 363.6L328.1 363.5L327.7 363.4L327.4 363.3L327.1 363.2L326.7 363.1L326.4 363.0L326.1 363.0L325.7 363.4L325.4 364.3L325.1 365.3L324.7 366.4L324.4 367.7Z" fill="#c9a030" stroke="#3a3a3a" stroke-width="0.45"/>
<path d="M324.4 369.3L324.7 370.3L325.0 371.3L325.2 372.2L325.5 373.0L325.8 373.7L326.1 374.2L326.1 374.2L325.8 374.7L325.5 375.4L325.2 376.2L325.0 377.1L324.7 378.1L324.4 379.1Z" fill="#a2a23c" stroke="#3a3a3a" stroke-width="0.45"/>
<path d="M324.4 380.7L324.7 381.8L325.0 382.7L325.2 383.6L325.5 384.4L325.8 385.1L326.1 385.6L326.1 385.6L325.8 386.1L325.5 386.8L325.2 387.6L325.0 388.5L324.7 389.5L324.4 390.5Z" fill="#2fa54e" stroke="#3a3a3a" stroke-width="0.45"/>
<path d="M324.4 392.1L324.7 393.2L325.0 394.2L325.2 395.1L325.5 395.9L325.8 396.6L326.1 397.0L326.1 397.0L325.8 397.5L325.5 398.2L325.2 399.0L325.0 399.9L324.7 400.9L324.4 401.9Z" fill="#3bb388" stroke="#3a3a3a" stroke-width="0.45"/>
<path d="M324.4 403.6L324.7 404.6L325.0 405.6L325.2 406.5L325.5 407.3L325.8 408.0L326.1 408.5L326.1 408.5L325.8 409.0L325.5 409.7L325.2 410.5L325.0 411.4L324.7 412.3L324.4 413.4Z" fill="#2cb2a2" stroke="#3a3a3a" stroke-width="0.45"/>
<path d="M324.4 415.0L324.7 416.0L325.0 417.0L325.2 417.9L325.5 418.7L325.8 419.4L326.1 419.9L326.1 419.9L325.8 420.4L325.5 421.1L325.2 421.9L325.0 422.8L324.7 423.8L324.4 424.8Z" fill="#23a5b8" stroke="#3a3a3a" stroke-width="0.45"/>
<path d="M324.4 426.4L324.7 427.5L325.0 428.4L325.2 429.3L325.5 430.2L325.8 430.9L326.1 431.3L326.1 431.3L325.8 431.8L325.5 432.5L325.2 433.3L325.0 434.2L324.7 435.2L324.4 436.2Z" fill="#3d8fd0" stroke="#3a3a3a" stroke-width="0.45"/>
<path d="M324.4 437.9L324.7 438.9L325.0 439.9L325.2 440.8L325.5 441.6L325.8 442.3L326.1 442.8L326.1 442.8L325.8 443.2L325.5 443.9L325.2 444.8L325.0 445.7L324.7 446.6L324.4 447.7Z" fill="#9a84c8" stroke="#3a3a3a" stroke-width="0.45"/>
<path d="M324.4 449.3L324.7 450.4L325.0 451.4L325.3 452.3L325.6 453.1L325.9 453.0L326.2 452.8L326.5 452.6L326.7 452.5L327.0 452.3L327.3 452.1L327.6 452.0L327.9 451.8L328.2 451.7L328.5 451.9L328.8 452.0L329.1 452.2L329.4 452.3L329.7 452.5L330.0 452.6L330.3 452.8L330.6 452.9L330.9 453.1L331.2 453.2L331.5 453.4L331.8 453.5L332.1 453.7L332.3 453.8L332.6 453.9L332.9 453.9L333.2 454.2L333.2 454.2L332.9 454.4L332.6 454.5L332.3 454.6L332.1 454.7L331.8 454.9L331.5 455.0L331.2 455.2L330.9 455.3L330.6 455.5L330.3 455.6L330.0 455.8L329.7 455.9L329.4 456.1L329.1 456.2L328.8 456.4L328.5 456.5L328.2 456.7L327.9 456.6L327.6 456.4L327.3 456.3L327.0 456.1L326.7 455.9L326.5 455.8L326.2 455.6L325.9 455.4L325.6 455.3L325.3 456.1L325.0 457.0L324.7 458.0L324.4 459.1Z" fill="#e7619e" stroke="#3a3a3a" stroke-width="0.45"/>
<text transform="translate(335.54,463.00) rotate(-90)" font-size="8.0" font-style="italic" text-anchor="end" fill="#111">CCR4</text>
<line x1="346.32" y1="334.2" x2="346.32" y2="459.8" stroke="#8a8a8a" stroke-width="0.8"/>
<path d="M346.3 339.90H362.3M346.3 351.33H362.3M346.3 362.76H362.3M346.3 374.19H362.3M346.3 385.62H362.3M346.3 397.05H362.3M346.3 408.48H362.3M346.3 419.91H362.3M346.3 431.34H362.3M346.3 442.77H362.3M346.3 454.20H362.3" stroke="#858585" stroke-width="0.8" fill="none"/>
<path d="M346.3 335.0L346.7 336.5L347.2 337.9L347.6 339.0L348.0 339.6L348.4 339.6L348.8 339.6L349.2 339.6L349.7 339.6L350.1 339.6L350.5 339.6L350.9 339.4L351.3 339.3L351.8 339.1L352.2 338.9L352.6 338.8L353.0 338.7L353.4 338.5L353.8 338.4L354.3 338.5L354.7 338.7L355.1 338.8L355.5 338.9L355.9 339.1L356.4 339.2L356.8 339.3L357.2 339.4L357.6 339.6L358.0 339.6L358.4 339.6L358.9 339.9L358.9 339.9L358.4 340.1L358.0 340.1L357.6 340.2L357.2 340.4L356.8 340.5L356.4 340.6L355.9 340.7L355.5 340.9L355.1 341.0L354.7 341.1L354.3 341.3L353.8 341.4L353.4 341.3L353.0 341.1L352.6 341.0L352.2 340.9L351.8 340.7L351.3 340.5L350.9 340.4L350.5 340.1L350.1 340.1L349.7 340.1L349.2 340.1L348.8 340.1L348.4 340.1L348.0 340.1L347.6 340.8L347.2 341.9L346.7 343.3L346.3 344.8Z" fill="#e9727a" stroke="#3a3a3a" stroke-width="0.45"/>
<path d="M346.3 346.4L346.6 347.5L346.9 348.4L347.2 349.3L347.5 350.2L347.7 350.9L348.0 351.3L348.0 351.3L347.7 351.8L347.5 352.5L347.2 353.3L346.9 354.2L346.6 355.2L346.3 356.2Z" fill="#de8a44" stroke="#3a3a3a" stroke-width="0.45"/>
<path d="M346.3 357.9L346.7 359.1L347.0 360.3L347.4 361.3L347.7 362.2L348.0 362.5L348.4 362.5L348.7 362.2L349.1 361.8L349.4 361.5L349.8 361.2L350.1 360.9L350.5 360.7L350.8 360.4L351.1 360.2L351.5 360.0L351.8 359.8L352.2 360.0L352.5 360.2L352.9 360.4L353.2 360.7L353.6 360.9L353.9 361.1L354.2 361.3L354.6 361.5L354.9 361.7L355.3 362.0L355.6 362.2L356.0 362.4L356.3 362.5L356.7 362.8L356.7 362.8L356.3 363.0L356.0 363.1L355.6 363.4L355.3 363.6L354.9 363.8L354.6 364.0L354.2 364.2L353.9 364.4L353.6 364.6L353.2 364.9L352.9 365.1L352.5 365.3L352.2 365.5L351.8 365.8L351.5 365.5L351.1 365.3L350.8 365.1L350.5 364.8L350.1 364.6L349.8 364.3L349.4 364.0L349.1 363.7L348.7 363.3L348.4 363.0L348.0 363.0L347.7 363.3L347.4 364.2L347.0 365.3L346.7 366.4L346.3 367.7Z" fill="#c9a030" stroke="#3a3a3a" stroke-width="0.45"/>
<path d="M346.3 369.3L346.8 370.9L347.2 372.3L347.6 373.5L348.1 373.9L348.5 373.9L349.0 373.9L349.4 373.9L349.8 373.9L350.3 373.3L350.7 372.9L351.1 372.5L351.6 372.1L352.0 371.8L352.5 371.4L352.9 371.1L353.3 370.8L353.8 370.5L354.2 370.3L354.6 370.5L355.1 370.8L355.5 371.2L356.0 371.5L356.4 371.9L356.8 372.2L357.3 372.6L357.7 372.9L358.2 373.2L358.6 373.6L359.0 373.9L359.5 374.2L359.5 374.2L359.0 374.5L358.6 374.8L358.2 375.1L357.7 375.5L357.3 375.8L356.8 376.2L356.4 376.5L356.0 376.9L355.5 377.2L355.1 377.6L354.6 377.9L354.2 378.1L353.8 377.8L353.3 377.6L352.9 377.3L352.5 376.9L352.0 376.6L351.6 376.3L351.1 375.9L350.7 375.5L350.3 375.1L349.8 374.5L349.4 374.4L349.0 374.4L348.5 374.4L348.1 374.4L347.6 374.9L347.2 376.1L346.8 377.5L346.3 379.1Z" fill="#a2a23c" stroke="#3a3a3a" stroke-width="0.45"/>
<path d="M346.3 380.7L346.8 382.1L347.3 383.4L347.8 384.5L348.3 385.4L348.8 385.4L349.3 385.4L349.8 385.4L350.3 385.4L350.8 385.4L351.3 385.4L351.8 385.4L352.3 385.4L352.8 385.4L353.3 385.1L353.8 384.8L354.3 384.5L354.8 384.3L355.3 384.0L355.8 383.8L356.3 383.6L356.8 383.8L357.3 384.0L357.9 384.3L358.4 384.5L358.9 384.7L359.4 384.9L359.9 385.1L360.4 385.3L360.9 385.4L361.4 385.6L361.4 385.6L360.9 385.9L360.4 386.0L359.9 386.2L359.4 386.4L358.9 386.6L358.4 386.8L357.9 387.0L357.3 387.2L356.8 387.4L356.3 387.6L355.8 387.4L355.3 387.2L354.8 387.0L354.3 386.7L353.8 386.5L353.3 386.2L352.8 385.9L352.3 385.9L351.8 385.9L351.3 385.9L350.8 385.9L350.3 385.9L349.8 385.9L349.3 385.9L348.8 385.9L348.3 385.9L347.8 386.7L347.3 387.8L346.8 389.1L346.3 390.5Z" fill="#2fa54e" stroke="#3a3a3a" stroke-width="0.45"/>
<path d="M346.3 392.1L346.8 393.4L347.2 394.6L347.7 395.6L348.1 396.5L348.6 396.8L349.0 396.8L349.5 396.8L349.9 396.8L350.4 396.8L350.8 396.8L351.3 396.8L351.7 396.7L352.2 396.5L352.6 396.3L353.1 396.1L353.5 396.0L354.0 395.8L354.4 395.7L354.9 395.6L355.3 395.7L355.8 395.9L356.2 396.0L356.7 396.1L357.2 396.3L357.6 396.4L358.1 396.5L358.5 396.7L359.0 396.8L359.4 396.8L359.9 397.0L359.9 397.0L359.4 397.3L359.0 397.3L358.5 397.4L358.1 397.6L357.6 397.7L357.2 397.8L356.7 398.0L356.2 398.1L355.8 398.2L355.3 398.4L354.9 398.5L354.4 398.4L354.0 398.3L353.5 398.1L353.1 398.0L352.6 397.8L352.2 397.6L351.7 397.4L351.3 397.3L350.8 397.3L350.4 397.3L349.9 397.3L349.5 397.3L349.0 397.3L348.6 397.3L348.1 397.6L347.7 398.5L347.2 399.5L346.8 400.7L346.3 401.9Z" fill="#3bb388" stroke="#3a3a3a" stroke-width="0.45"/>
<path d="M346.3 403.6L346.8 405.2L347.2 406.6L347.7 407.9L348.1 408.2L348.6 408.2L349.0 408.2L349.5 408.2L349.9 408.2L350.4 408.2L350.8 408.2L351.3 408.2L351.7 408.2L352.2 408.1L352.6 407.9L353.1 407.8L353.5 407.7L354.0 407.6L354.4 407.5L354.9 407.4L355.3 407.5L355.8 407.6L356.2 407.7L356.7 407.8L357.2 407.9L357.6 408.0L358.1 408.1L358.5 408.2L359.0 408.2L359.4 408.2L359.9 408.5L359.9 408.5L359.4 408.7L359.0 408.7L358.5 408.8L358.1 408.9L357.6 409.0L357.2 409.1L356.7 409.2L356.2 409.3L355.8 409.4L355.3 409.5L354.9 409.6L354.4 409.5L354.0 409.4L353.5 409.3L353.1 409.2L352.6 409.0L352.2 408.9L351.7 408.8L351.3 408.7L350.8 408.7L350.4 408.7L349.9 408.7L349.5 408.7L349.0 408.7L348.6 408.7L348.1 408.7L347.7 409.1L347.2 410.3L346.8 411.8L346.3 413.4Z" fill="#2cb2a2" stroke="#3a3a3a" stroke-width="0.45"/>
<path d="M346.3 414.7L346.8 415.8L347.3 416.8L347.8 417.8L348.3 418.7L348.8 419.4L349.3 419.9L349.3 419.9L348.8 420.4L348.3 421.2L347.8 422.0L347.3 423.0L346.8 424.0L346.3 425.1Z" fill="#23a5b8" stroke="#3a3a3a" stroke-width="0.45"/>
<path d="M346.3 426.4L346.6 427.5L346.9 428.4L347.2 429.3L347.5 430.2L347.7 430.9L348.0 431.3L348.0 431.3L347.7 431.8L347.5 432.5L347.2 433.3L346.9 434.2L346.6 435.2L346.3 436.2Z" fill="#3d8fd0" stroke="#3a3a3a" stroke-width="0.45"/>
<path d="M346.3 437.9L346.7 439.2L347.1 440.5L347.4 441.6L347.8 441.2L348.2 440.9L348.6 440.6L349.0 440.3L349.3 440.0L349.7 439.7L350.1 439.4L350.5 439.2L350.8 438.9L351.2 438.7L351.6 438.4L352.0 438.4L352.3 438.7L352.7 439.0L353.1 439.3L353.5 439.6L353.9 439.9L354.2 440.2L354.6 440.5L355.0 440.8L355.4 441.1L355.7 441.4L356.1 441.7L356.5 442.0L356.9 442.2L357.2 442.5L357.6 442.8L357.6 442.8L357.2 443.0L356.9 443.3L356.5 443.6L356.1 443.9L355.7 444.2L355.4 444.4L355.0 444.7L354.6 445.0L354.2 445.3L353.9 445.6L353.5 445.9L353.1 446.2L352.7 446.5L352.3 446.8L352.0 447.1L351.6 447.1L351.2 446.9L350.8 446.6L350.5 446.4L350.1 446.1L349.7 445.9L349.3 445.6L349.0 445.3L348.6 445.0L348.2 444.7L347.8 444.3L347.4 444.0L347.1 445.1L346.7 446.3L346.3 447.7Z" fill="#9a84c8" stroke="#3a3a3a" stroke-width="0.45"/>
<path d="M346.3 449.3L346.7 450.8L347.1 452.1L347.6 452.8L348.0 452.4L348.4 452.0L348.8 451.7L349.2 451.3L349.6 451.0L350.1 450.7L350.5 450.4L350.9 450.1L351.3 449.9L351.7 449.6L352.1 449.3L352.5 449.4L353.0 449.7L353.4 450.1L353.8 450.4L354.2 450.7L354.6 451.1L355.0 451.4L355.4 451.7L355.9 452.0L356.3 452.4L356.7 452.7L357.1 453.0L357.5 453.3L357.9 453.6L358.3 453.9L358.8 454.2L358.8 454.2L358.3 454.5L357.9 454.8L357.5 455.1L357.1 455.4L356.7 455.7L356.3 456.0L355.9 456.4L355.4 456.7L355.0 457.0L354.6 457.3L354.2 457.7L353.8 458.0L353.4 458.3L353.0 458.7L352.5 459.0L352.1 459.1L351.7 458.8L351.3 458.5L350.9 458.3L350.5 458.0L350.1 457.7L349.6 457.4L349.2 457.1L348.8 456.7L348.4 456.4L348.0 456.0L347.6 455.6L347.1 456.3L346.7 457.6L346.3 459.1Z" fill="#e7619e" stroke="#3a3a3a" stroke-width="0.45"/>
<text transform="translate(357.47,463.00) rotate(-90)" font-size="8.0" font-style="italic" text-anchor="end" fill="#111">SELL</text>
<line x1="368.25" y1="334.2" x2="368.25" y2="459.8" stroke="#8a8a8a" stroke-width="0.8"/>
<path d="M368.2 339.90H384.2M368.2 351.33H384.2M368.2 362.76H384.2M368.2 374.19H384.2M368.2 385.62H384.2M368.2 397.05H384.2M368.2 408.48H384.2M368.2 419.91H384.2M368.2 431.34H384.2M368.2 442.77H384.2M368.2 454.20H384.2" stroke="#858585" stroke-width="0.8" fill="none"/>
<path d="M368.2 335.0L368.5 336.0L368.8 337.0L369.1 337.9L369.4 338.7L369.7 339.4L369.9 339.9L369.9 339.9L369.7 340.4L369.4 341.1L369.1 341.9L368.8 342.8L368.5 343.8L368.2 344.8Z" fill="#e9727a" stroke="#3a3a3a" stroke-width="0.45"/>
<path d="M368.2 346.4L368.5 347.5L368.8 348.4L369.1 349.3L369.4 350.2L369.7 350.9L369.9 351.3L369.9 351.3L369.7 351.8L369.4 352.5L369.1 353.3L368.8 354.2L368.5 355.2L368.2 356.2Z" fill="#de8a44" stroke="#3a3a3a" stroke-width="0.45"/>
<path d="M368.2 357.9L368.5 358.9L368.8 359.9L369.1 360.8L369.4 361.6L369.7 362.3L369.9 362.8L369.9 362.8L369.7 363.2L369.4 363.9L369.1 364.8L368.8 365.7L368.5 366.6L368.2 367.7Z" fill="#c9a030" stroke="#3a3a3a" stroke-width="0.45"/>
<path d="M368.2 369.3L368.5 370.3L368.8 371.3L369.1 372.2L369.4 373.0L369.7 373.7L369.9 374.2L369.9 374.2L369.7 374.7L369.4 375.4L369.1 376.2L368.8 377.1L368.5 378.1L368.2 379.1Z" fill="#a2a23c" stroke="#3a3a3a" stroke-width="0.45"/>
<path d="M368.2 380.7L368.5 381.8L368.8 382.7L369.1 383.6L369.4 384.4L369.7 385.1L369.9 385.6L369.9 385.6L369.7 386.1L369.4 386.8L369.1 387.6L368.8 388.5L368.5 389.5L368.2 390.5Z" fill="#2fa54e" stroke="#3a3a3a" stroke-width="0.45"/>
<path d="M368.2 392.1L368.5 393.2L368.8 394.2L369.1 395.1L369.4 395.9L369.7 396.6L369.9 397.0L369.9 397.0L369.7 397.5L369.4 398.2L369.1 399.0L368.8 399.9L368.5 400.9L368.2 401.9Z" fill="#3bb388" stroke="#3a3a3a" stroke-width="0.45"/>
<path d="M368.2 403.6L368.5 404.6L368.8 405.6L369.1 406.5L369.4 407.3L369.7 408.0L369.9 408.5L369.9 408.5L369.7 409.0L369.4 409.7L369.1 410.5L368.8 411.4L368.5 412.3L368.2 413.4Z" fill="#2cb2a2" stroke="#3a3a3a" stroke-width="0.45"/>
<path d="M368.2 415.0L368.5 416.0L368.8 417.0L369.1 417.9L369.4 418.7L369.7 419.4L369.9 419.9L369.9 419.9L369.7 420.4L369.4 421.1L369.1 421.9L368.8 422.8L368.5 423.8L368.2 424.8Z" fill="#23a5b8" stroke="#3a3a3a" stroke-width="0.45"/>
<path d="M368.2 426.4L368.5 427.5L368.8 428.4L369.1 429.3L369.4 430.2L369.7 430.9L369.9 431.3L369.9 431.3L369.7 431.8L369.4 432.5L369.1 433.3L368.8 434.2L368.5 435.2L368.2 436.2Z" fill="#3d8fd0" stroke="#3a3a3a" stroke-width="0.45"/>
<path d="M368.2 437.9L368.6 439.0L368.9 440.0L369.2 440.9L369.5 441.8L369.8 442.3L370.1 442.3L370.4 442.2L370.7 442.1L371.0 442.0L371.3 442.0L371.6 441.9L371.9 441.8L372.2 441.8L372.5 441.8L372.8 441.9L373.1 441.9L373.4 442.0L373.7 442.1L374.0 442.1L374.3 442.2L374.6 442.2L374.9 442.3L375.2 442.4L375.5 442.4L375.8 442.5L376.1 442.5L376.4 442.5L376.7 442.5L377.0 442.5L377.3 442.8L377.3 442.8L377.0 443.0L376.7 443.0L376.4 443.0L376.1 443.0L375.8 443.1L375.5 443.1L375.2 443.2L374.9 443.2L374.6 443.3L374.3 443.4L374.0 443.4L373.7 443.5L373.4 443.5L373.1 443.6L372.8 443.7L372.5 443.7L372.2 443.8L371.9 443.7L371.6 443.6L371.3 443.6L371.0 443.5L370.7 443.4L370.4 443.4L370.1 443.3L369.8 443.2L369.5 443.8L369.2 444.6L368.9 445.5L368.6 446.6L368.2 447.7Z" fill="#9a84c8" stroke="#3a3a3a" stroke-width="0.45"/>
<path d="M368.2 449.3L368.5 450.3L368.8 451.3L369.1 452.2L369.4 453.0L369.7 453.7L369.9 454.2L369.9 454.2L369.7 454.7L369.4 455.4L369.1 456.2L368.8 457.1L368.5 458.1L368.2 459.1Z" fill="#e7619e" stroke="#3a3a3a" stroke-width="0.45"/>
<text transform="translate(379.40,463.00) rotate(-90)" font-size="8.0" font-style="italic" text-anchor="end" fill="#111">ITGAE</text>
<line x1="390.18" y1="334.2" x2="390.18" y2="459.8" stroke="#8a8a8a" stroke-width="0.8"/>
<path d="M390.2 339.90H406.2M390.2 351.33H406.2M390.2 362.76H406.2M390.2 374.19H406.2M390.2 385.62H406.2M390.2 397.05H406.2M390.2 408.48H406.2M390.2 419.91H406.2M390.2 431.34H406.2M390.2 442.77H406.2M390.2 454.20H406.2" stroke="#858585" stroke-width="0.8" fill="none"/>
<path d="M390.2 335.0L390.6 336.5L391.0 337.9L391.4 339.1L391.9 339.6L392.3 339.6L392.7 339.6L393.1 339.6L393.6 339.1L394.0 338.7L394.4 338.3L394.8 337.9L395.2 337.6L395.7 337.3L396.1 337.0L396.5 336.7L396.9 336.4L397.3 336.1L397.8 336.0L398.2 336.3L398.6 336.7L399.0 337.0L399.5 337.3L399.9 337.7L400.3 338.0L400.7 338.3L401.1 338.7L401.6 339.0L402.0 339.3L402.4 339.6L402.8 339.9L402.8 339.9L402.4 340.2L402.0 340.5L401.6 340.8L401.1 341.1L400.7 341.5L400.3 341.8L399.9 342.1L399.5 342.5L399.0 342.8L398.6 343.1L398.2 343.5L397.8 343.8L397.3 343.7L396.9 343.4L396.5 343.1L396.1 342.8L395.7 342.5L395.2 342.2L394.8 341.9L394.4 341.5L394.0 341.1L393.6 340.7L393.1 340.1L392.7 340.1L392.3 340.1L391.9 340.1L391.4 340.7L391.0 341.9L390.6 343.3L390.2 344.8Z" fill="#e9727a" stroke="#3a3a3a" stroke-width="0.45"/>
<path d="M390.2 346.4L390.6 348.0L391.0 349.4L391.5 350.6L391.9 351.1L392.4 351.1L392.8 351.1L393.2 351.1L393.7 351.1L394.1 351.1L394.5 351.1L395.0 350.8L395.4 350.5L395.8 350.2L396.3 349.9L396.7 349.6L397.1 349.4L397.6 349.1L398.0 348.9L398.4 349.0L398.9 349.2L399.3 349.4L399.7 349.6L400.2 349.9L400.6 350.1L401.0 350.3L401.5 350.5L401.9 350.7L402.4 350.9L402.8 351.1L403.2 351.3L403.2 351.3L402.8 351.6L402.4 351.7L401.9 351.9L401.5 352.1L401.0 352.4L400.6 352.6L400.2 352.8L399.7 353.0L399.3 353.2L398.9 353.5L398.4 353.7L398.0 353.7L397.6 353.5L397.1 353.3L396.7 353.0L396.3 352.8L395.8 352.5L395.4 352.2L395.0 351.8L394.5 351.6L394.1 351.6L393.7 351.6L393.2 351.6L392.8 351.6L392.4 351.6L391.9 351.6L391.5 352.1L391.0 353.3L390.6 354.7L390.2 356.2Z" fill="#de8a44" stroke="#3a3a3a" stroke-width="0.45"/>
<path d="M390.2 357.9L390.6 359.3L391.0 360.7L391.4 361.8L391.8 362.2L392.2 361.7L392.6 361.3L393.0 360.9L393.5 360.5L393.9 360.2L394.3 359.9L394.7 359.6L395.1 359.3L395.5 359.0L395.9 358.7L396.3 358.5L396.7 358.3L397.1 358.6L397.6 359.0L398.0 359.3L398.4 359.6L398.8 360.0L399.2 360.3L399.6 360.6L400.0 360.9L400.4 361.2L400.8 361.6L401.2 361.9L401.7 362.2L402.1 362.5L402.5 362.8L402.5 362.8L402.1 363.0L401.7 363.3L401.2 363.6L400.8 364.0L400.4 364.3L400.0 364.6L399.6 364.9L399.2 365.2L398.8 365.6L398.4 365.9L398.0 366.2L397.6 366.5L397.1 366.9L396.7 367.2L396.3 367.0L395.9 366.8L395.5 366.5L395.1 366.2L394.7 365.9L394.3 365.6L393.9 365.3L393.5 365.0L393.0 364.6L392.6 364.3L392.2 363.9L391.8 363.4L391.4 363.7L391.0 364.8L390.6 366.2L390.2 367.7Z" fill="#c9a030" stroke="#3a3a3a" stroke-width="0.45"/>
<path d="M390.2 369.3L390.6 370.7L390.9 372.0L391.3 373.1L391.7 373.9L392.1 373.9L392.5 373.9L392.9 373.9L393.3 373.9L393.6 373.5L394.0 373.2L394.4 373.0L394.8 372.7L395.2 372.5L395.6 372.3L396.0 372.1L396.3 371.9L396.7 371.7L397.1 371.9L397.5 372.1L397.9 372.3L398.3 372.5L398.6 372.7L399.0 372.9L399.4 373.1L399.8 373.3L400.2 373.5L400.6 373.7L401.0 373.8L401.3 373.9L401.7 374.2L401.7 374.2L401.3 374.4L401.0 374.5L400.6 374.7L400.2 374.9L399.8 375.1L399.4 375.3L399.0 375.5L398.6 375.7L398.3 375.9L397.9 376.1L397.5 376.3L397.1 376.5L396.7 376.7L396.3 376.5L396.0 376.3L395.6 376.1L395.2 375.9L394.8 375.7L394.4 375.4L394.0 375.1L393.6 374.8L393.3 374.5L392.9 374.4L392.5 374.4L392.1 374.4L391.7 374.4L391.3 375.3L390.9 376.4L390.6 377.7L390.2 379.1Z" fill="#a2a23c" stroke="#3a3a3a" stroke-width="0.45"/>
<path d="M390.2 380.7L390.7 382.0L391.1 383.2L391.6 384.3L392.1 385.2L392.6 385.4L393.1 385.4L393.6 385.4L394.1 385.4L394.5 385.4L395.0 385.4L395.5 385.4L396.0 385.4L396.5 385.2L397.0 384.9L397.5 384.6L397.9 384.4L398.4 384.2L398.9 383.9L399.4 383.7L399.9 383.7L400.4 383.9L400.8 384.1L401.3 384.3L401.8 384.5L402.3 384.7L402.8 384.9L403.3 385.1L403.8 385.3L404.2 385.4L404.7 385.6L404.7 385.6L404.2 385.9L403.8 386.0L403.3 386.2L402.8 386.4L402.3 386.5L401.8 386.7L401.3 386.9L400.8 387.1L400.4 387.3L399.9 387.5L399.4 387.5L398.9 387.3L398.4 387.1L397.9 386.9L397.5 386.6L397.0 386.3L396.5 386.0L396.0 385.9L395.5 385.9L395.0 385.9L394.5 385.9L394.1 385.9L393.6 385.9L393.1 385.9L392.6 385.9L392.1 386.1L391.6 387.0L391.1 388.0L390.7 389.2L390.2 390.5Z" fill="#2fa54e" stroke="#3a3a3a" stroke-width="0.45"/>
<path d="M390.2 392.1L390.6 393.5L390.9 394.8L391.3 395.9L391.7 396.8L392.1 396.8L392.5 396.8L392.9 396.8L393.3 396.8L393.6 396.8L394.0 396.7L394.4 396.6L394.8 396.5L395.2 396.4L395.6 396.3L396.0 396.2L396.3 396.1L396.7 396.1L397.1 396.1L397.5 396.2L397.9 396.3L398.3 396.4L398.6 396.5L399.0 396.5L399.4 396.6L399.8 396.7L400.2 396.8L400.6 396.8L401.0 396.8L401.3 396.8L401.7 397.0L401.7 397.0L401.3 397.3L401.0 397.3L400.6 397.3L400.2 397.3L399.8 397.4L399.4 397.5L399.0 397.6L398.6 397.6L398.3 397.7L397.9 397.8L397.5 397.9L397.1 398.0L396.7 398.0L396.3 398.0L396.0 397.9L395.6 397.8L395.2 397.7L394.8 397.6L394.4 397.5L394.0 397.4L393.6 397.3L393.3 397.3L392.9 397.3L392.5 397.3L392.1 397.3L391.7 397.3L391.3 398.2L390.9 399.3L390.6 400.6L390.2 401.9Z" fill="#3bb388" stroke="#3a3a3a" stroke-width="0.45"/>
<path d="M390.2 403.6L390.5 404.6L390.7 405.6L391.0 406.5L391.3 407.3L391.6 408.0L391.9 408.5L391.9 408.5L391.6 409.0L391.3 409.7L391.0 410.5L390.7 411.4L390.5 412.3L390.2 413.4Z" fill="#2cb2a2" stroke="#3a3a3a" stroke-width="0.45"/>
<path d="M390.2 415.0L390.5 416.0L390.7 417.0L391.0 417.9L391.3 418.7L391.6 419.4L391.9 419.9L391.9 419.9L391.6 420.4L391.3 421.1L391.0 421.9L390.7 422.8L390.5 423.8L390.2 424.8Z" fill="#23a5b8" stroke="#3a3a3a" stroke-width="0.45"/>
<path d="M390.2 426.4L390.5 427.7L390.9 428.9L391.2 429.9L391.6 430.8L391.9 431.1L392.3 431.1L392.6 431.0L393.0 430.9L393.3 430.7L393.7 430.6L394.0 430.5L394.4 430.4L394.7 430.3L395.1 430.2L395.5 430.1L395.8 430.1L396.2 430.2L396.5 430.3L396.9 430.4L397.2 430.4L397.6 430.5L397.9 430.6L398.3 430.7L398.6 430.8L399.0 430.9L399.3 431.0L399.7 431.1L400.0 431.1L400.4 431.1L400.7 431.3L400.7 431.3L400.4 431.6L400.0 431.6L399.7 431.6L399.3 431.7L399.0 431.8L398.6 431.9L398.3 432.0L397.9 432.0L397.6 432.1L397.2 432.2L396.9 432.3L396.5 432.4L396.2 432.5L395.8 432.6L395.5 432.6L395.1 432.5L394.7 432.4L394.4 432.3L394.0 432.2L393.7 432.1L393.3 432.0L393.0 431.8L392.6 431.7L392.3 431.6L391.9 431.6L391.6 431.8L391.2 432.7L390.9 433.8L390.5 435.0L390.2 436.2Z" fill="#3d8fd0" stroke="#3a3a3a" stroke-width="0.45"/>
<path d="M390.2 437.9L390.5 439.1L390.9 440.3L391.2 441.3L391.6 442.2L391.9 442.5L392.2 442.5L392.6 442.2L392.9 441.8L393.3 441.5L393.6 441.2L394.0 440.9L394.3 440.7L394.7 440.4L395.0 440.2L395.3 440.0L395.7 439.8L396.0 440.0L396.4 440.2L396.7 440.4L397.1 440.7L397.4 440.9L397.8 441.1L398.1 441.3L398.4 441.5L398.8 441.8L399.1 442.0L399.5 442.2L399.8 442.4L400.2 442.5L400.5 442.8L400.5 442.8L400.2 443.0L399.8 443.2L399.5 443.4L399.1 443.6L398.8 443.8L398.4 444.0L398.1 444.2L397.8 444.4L397.4 444.7L397.1 444.9L396.7 445.1L396.4 445.3L396.0 445.5L395.7 445.8L395.3 445.6L395.0 445.3L394.7 445.1L394.3 444.9L394.0 444.6L393.6 444.3L393.3 444.0L392.9 443.7L392.6 443.4L392.2 443.0L391.9 443.0L391.6 443.3L391.2 444.2L390.9 445.3L390.5 446.4L390.2 447.7Z" fill="#9a84c8" stroke="#3a3a3a" stroke-width="0.45"/>
<path d="M390.2 449.3L390.6 450.8L391.0 452.1L391.4 452.8L391.8 452.4L392.3 452.0L392.7 451.7L393.1 451.3L393.5 451.0L393.9 450.7L394.3 450.4L394.7 450.1L395.2 449.9L395.6 449.6L396.0 449.3L396.4 449.4L396.8 449.7L397.2 450.1L397.6 450.4L398.1 450.7L398.5 451.1L398.9 451.4L399.3 451.7L399.7 452.0L400.1 452.4L400.5 452.7L401.0 453.0L401.4 453.3L401.8 453.6L402.2 453.9L402.6 454.2L402.6 454.2L402.2 454.5L401.8 454.8L401.4 455.1L401.0 455.4L400.5 455.7L400.1 456.0L399.7 456.4L399.3 456.7L398.9 457.0L398.5 457.3L398.1 457.7L397.6 458.0L397.2 458.3L396.8 458.7L396.4 459.0L396.0 459.1L395.6 458.8L395.2 458.5L394.7 458.3L394.3 458.0L393.9 457.7L393.5 457.4L393.1 457.1L392.7 456.7L392.3 456.4L391.8 456.0L391.4 455.6L391.0 456.3L390.6 457.6L390.2 459.1Z" fill="#e7619e" stroke="#3a3a3a" stroke-width="0.45"/>
<text transform="translate(401.33,463.00) rotate(-90)" font-size="8.0" font-style="italic" text-anchor="end" fill="#111">CCR7</text>
<line x1="412.11" y1="334.2" x2="412.11" y2="459.8" stroke="#8a8a8a" stroke-width="0.8"/>
<path d="M412.1 339.90H428.1M412.1 351.33H428.1M412.1 362.76H428.1M412.1 374.19H428.1M412.1 385.62H428.1M412.1 397.05H428.1M412.1 408.48H428.1M412.1 419.91H428.1M412.1 431.34H428.1M412.1 442.77H428.1M412.1 454.20H428.1" stroke="#858585" stroke-width="0.8" fill="none"/>
<path d="M412.1 335.0L412.5 336.6L413.0 338.0L413.4 339.2L413.8 339.6L414.3 339.6L414.7 339.6L415.2 339.6L415.6 339.6L416.0 339.6L416.5 339.6L416.9 339.6L417.3 339.6L417.8 339.5L418.2 339.4L418.6 339.3L419.1 339.2L419.5 339.1L419.9 339.0L420.4 339.0L420.8 339.1L421.2 339.2L421.7 339.3L422.1 339.4L422.5 339.4L423.0 339.5L423.4 339.6L423.8 339.6L424.3 339.6L424.7 339.6L425.2 339.9L425.2 339.9L424.7 340.1L424.3 340.1L423.8 340.1L423.4 340.2L423.0 340.3L422.5 340.4L422.1 340.4L421.7 340.5L421.2 340.6L420.8 340.7L420.4 340.8L419.9 340.8L419.5 340.7L419.1 340.6L418.6 340.5L418.2 340.4L417.8 340.3L417.3 340.2L416.9 340.1L416.5 340.1L416.0 340.1L415.6 340.1L415.2 340.1L414.7 340.1L414.3 340.1L413.8 340.1L413.4 340.6L413.0 341.8L412.5 343.2L412.1 344.8Z" fill="#e9727a" stroke="#3a3a3a" stroke-width="0.45"/>
<path d="M412.1 346.4L412.4 347.5L412.7 348.4L413.0 349.3L413.2 350.2L413.5 350.9L413.8 351.3L413.8 351.3L413.5 351.8L413.2 352.5L413.0 353.3L412.7 354.2L412.4 355.2L412.1 356.2Z" fill="#de8a44" stroke="#3a3a3a" stroke-width="0.45"/>
<path d="M412.1 357.9L412.5 359.4L412.9 360.7L413.4 361.9L413.8 362.5L414.2 362.5L414.6 362.5L415.0 362.5L415.5 362.5L415.9 362.5L416.3 362.4L416.7 362.1L417.1 361.9L417.5 361.7L418.0 361.5L418.4 361.3L418.8 361.1L419.2 360.9L419.6 360.8L420.1 360.9L420.5 361.1L420.9 361.3L421.3 361.5L421.7 361.6L422.1 361.8L422.6 362.0L423.0 362.1L423.4 362.3L423.8 362.5L424.2 362.5L424.7 362.8L424.7 362.8L424.2 363.0L423.8 363.1L423.4 363.2L423.0 363.4L422.6 363.6L422.1 363.7L421.7 363.9L421.3 364.1L420.9 364.2L420.5 364.4L420.1 364.6L419.6 364.8L419.2 364.6L418.8 364.4L418.4 364.2L418.0 364.0L417.5 363.8L417.1 363.6L416.7 363.4L416.3 363.1L415.9 363.0L415.5 363.0L415.0 363.0L414.6 363.0L414.2 363.0L413.8 363.0L413.4 363.6L412.9 364.8L412.5 366.2L412.1 367.7Z" fill="#c9a030" stroke="#3a3a3a" stroke-width="0.45"/>
<path d="M412.1 369.3L412.5 370.6L412.8 371.8L413.2 372.9L413.6 373.8L414.0 373.9L414.3 373.9L414.7 373.9L415.1 373.9L415.4 373.8L415.8 373.7L416.2 373.6L416.5 373.5L416.9 373.4L417.3 373.4L417.6 373.3L418.0 373.2L418.4 373.2L418.7 373.3L419.1 373.4L419.5 373.5L419.8 373.5L420.2 373.6L420.6 373.7L420.9 373.8L421.3 373.8L421.7 373.9L422.0 373.9L422.4 373.9L422.8 373.9L423.2 374.2L423.2 374.2L422.8 374.4L422.4 374.4L422.0 374.4L421.7 374.5L421.3 374.5L420.9 374.6L420.6 374.7L420.2 374.8L419.8 374.8L419.5 374.9L419.1 375.0L418.7 375.1L418.4 375.1L418.0 375.2L417.6 375.1L417.3 375.0L416.9 374.9L416.5 374.8L416.2 374.8L415.8 374.7L415.4 374.6L415.1 374.4L414.7 374.4L414.3 374.4L414.0 374.4L413.6 374.5L413.2 375.4L412.8 376.5L412.5 377.8L412.1 379.1Z" fill="#a2a23c" stroke="#3a3a3a" stroke-width="0.45"/>
<path d="M412.1 380.7L412.4 381.8L412.7 382.7L413.0 383.6L413.2 384.4L413.5 385.1L413.8 385.6L413.8 385.6L413.5 386.1L413.2 386.8L413.0 387.6L412.7 388.5L412.4 389.5L412.1 390.5Z" fill="#2fa54e" stroke="#3a3a3a" stroke-width="0.45"/>
<path d="M412.1 392.1L412.4 393.2L412.7 394.2L413.0 395.1L413.2 395.9L413.5 396.6L413.8 397.0L413.8 397.0L413.5 397.5L413.2 398.2L413.0 399.0L412.7 399.9L412.4 400.9L412.1 401.9Z" fill="#3bb388" stroke="#3a3a3a" stroke-width="0.45"/>
<path d="M412.1 403.6L412.4 404.6L412.7 405.6L413.0 406.5L413.2 407.3L413.5 408.0L413.8 408.5L413.8 408.5L413.5 409.0L413.2 409.7L413.0 410.5L412.7 411.4L412.4 412.3L412.1 413.4Z" fill="#2cb2a2" stroke="#3a3a3a" stroke-width="0.45"/>
<path d="M412.1 415.0L412.4 416.0L412.7 417.0L413.0 417.9L413.2 418.7L413.5 419.4L413.8 419.9L413.8 419.9L413.5 420.4L413.2 421.1L413.0 421.9L412.7 422.8L412.4 423.8L412.1 424.8Z" fill="#23a5b8" stroke="#3a3a3a" stroke-width="0.45"/>
<path d="M412.1 426.4L412.4 427.5L412.7 428.4L413.0 429.3L413.2 430.2L413.5 430.9L413.8 431.3L413.8 431.3L413.5 431.8L413.2 432.5L413.0 433.3L412.7 434.2L412.4 435.2L412.1 436.2Z" fill="#3d8fd0" stroke="#3a3a3a" stroke-width="0.45"/>
<path d="M412.1 437.9L412.4 439.1L412.8 440.2L413.1 441.2L413.4 442.1L413.8 442.5L414.1 442.4L414.5 442.3L414.8 442.2L415.1 442.1L415.5 442.0L415.8 441.9L416.1 441.8L416.5 441.7L416.8 441.6L417.1 441.6L417.5 441.7L417.8 441.7L418.1 441.8L418.5 441.9L418.8 442.0L419.1 442.1L419.5 442.2L419.8 442.2L420.1 442.3L420.5 442.4L420.8 442.5L421.1 442.5L421.5 442.5L421.8 442.5L422.2 442.8L422.2 442.8L421.8 443.0L421.5 443.0L421.1 443.0L420.8 443.1L420.5 443.1L420.1 443.2L419.8 443.3L419.5 443.4L419.1 443.5L418.8 443.6L418.5 443.6L418.1 443.7L417.8 443.8L417.5 443.9L417.1 444.0L416.8 443.9L416.5 443.8L416.1 443.7L415.8 443.6L415.5 443.5L415.1 443.4L414.8 443.3L414.5 443.2L414.1 443.1L413.8 443.0L413.4 443.4L413.1 444.3L412.8 445.3L412.4 446.5L412.1 447.7Z" fill="#9a84c8" stroke="#3a3a3a" stroke-width="0.45"/>
<path d="M412.1 449.3L412.5 450.6L412.8 451.8L413.2 452.8L413.5 453.7L413.9 453.9L414.2 453.9L414.6 453.5L414.9 453.3L415.3 453.0L415.6 452.8L416.0 452.6L416.3 452.4L416.7 452.2L417.0 452.0L417.4 451.8L417.7 451.8L418.1 451.9L418.4 452.1L418.8 452.3L419.1 452.5L419.5 452.7L419.8 452.8L420.2 453.0L420.5 453.2L420.9 453.4L421.2 453.5L421.6 453.7L421.9 453.9L422.3 453.9L422.7 454.2L422.7 454.2L422.3 454.4L421.9 454.5L421.6 454.7L421.2 454.9L420.9 455.0L420.5 455.2L420.2 455.4L419.8 455.6L419.5 455.7L419.1 455.9L418.8 456.1L418.4 456.3L418.1 456.5L417.7 456.6L417.4 456.6L417.0 456.4L416.7 456.2L416.3 456.0L416.0 455.8L415.6 455.6L415.3 455.4L414.9 455.1L414.6 454.9L414.2 454.5L413.9 454.4L413.5 454.7L413.2 455.6L412.8 456.6L412.5 457.8L412.1 459.1Z" fill="#e7619e" stroke="#3a3a3a" stroke-width="0.45"/>
<text transform="translate(423.26,463.00) rotate(-90)" font-size="8.0" font-style="italic" text-anchor="end" fill="#111">CD28</text>
<line x1="434.04" y1="334.2" x2="434.04" y2="459.8" stroke="#8a8a8a" stroke-width="0.8"/>
<path d="M434.0 339.90H450.0M434.0 351.33H450.0M434.0 362.76H450.0M434.0 374.19H450.0M434.0 385.62H450.0M434.0 397.05H450.0M434.0 408.48H450.0M434.0 419.91H450.0M434.0 431.34H450.0M434.0 442.77H450.0M434.0 454.20H450.0" stroke="#858585" stroke-width="0.8" fill="none"/>
<path d="M434.0 335.0L434.4 336.4L434.8 337.8L435.2 338.9L435.6 339.6L436.0 339.6L436.4 339.6L436.8 339.6L437.3 339.6L437.7 339.6L438.1 339.6L438.5 339.5L438.9 339.4L439.3 339.3L439.7 339.3L440.1 339.2L440.5 339.1L440.9 339.0L441.3 339.0L441.7 339.1L442.1 339.2L442.5 339.3L442.9 339.3L443.3 339.4L443.7 339.5L444.1 339.6L444.5 339.6L444.9 339.6L445.3 339.6L445.7 339.6L446.1 339.9L446.1 339.9L445.7 340.1L445.3 340.1L444.9 340.1L444.5 340.2L444.1 340.2L443.7 340.3L443.3 340.4L442.9 340.5L442.5 340.5L442.1 340.6L441.7 340.7L441.3 340.8L440.9 340.8L440.5 340.7L440.1 340.6L439.7 340.5L439.3 340.5L438.9 340.4L438.5 340.3L438.1 340.2L437.7 340.1L437.3 340.1L436.8 340.1L436.4 340.1L436.0 340.1L435.6 340.1L435.2 340.9L434.8 342.0L434.4 343.4L434.0 344.8Z" fill="#e9727a" stroke="#3a3a3a" stroke-width="0.45"/>
<path d="M434.0 346.4L434.3 347.5L434.6 348.4L434.9 349.3L435.2 350.2L435.5 350.9L435.7 351.3L435.7 351.3L435.5 351.8L435.2 352.5L434.9 353.3L434.6 354.2L434.3 355.2L434.0 356.2Z" fill="#de8a44" stroke="#3a3a3a" stroke-width="0.45"/>
<path d="M434.0 357.9L434.4 359.2L434.8 360.5L435.2 361.6L435.6 362.5L436.0 362.5L436.3 362.5L436.7 362.5L437.1 362.5L437.5 362.4L437.9 362.2L438.3 362.0L438.7 361.9L439.0 361.7L439.4 361.6L439.8 361.5L440.2 361.4L440.6 361.3L441.0 361.4L441.3 361.5L441.7 361.6L442.1 361.7L442.5 361.9L442.9 362.0L443.3 362.1L443.7 362.2L444.0 362.3L444.4 362.4L444.8 362.5L445.2 362.5L445.6 362.8L445.6 362.8L445.2 363.0L444.8 363.0L444.4 363.1L444.0 363.2L443.7 363.3L443.3 363.4L442.9 363.5L442.5 363.7L442.1 363.8L441.7 363.9L441.3 364.0L441.0 364.1L440.6 364.2L440.2 364.2L439.8 364.0L439.4 363.9L439.0 363.8L438.7 363.6L438.3 363.5L437.9 363.3L437.5 363.2L437.1 363.0L436.7 363.0L436.3 363.0L436.0 363.0L435.6 363.0L435.2 363.9L434.8 365.0L434.4 366.3L434.0 367.7Z" fill="#c9a030" stroke="#3a3a3a" stroke-width="0.45"/>
<path d="M434.0 369.3L434.3 370.3L434.6 371.3L434.9 372.2L435.2 373.0L435.5 373.7L435.7 374.2L435.7 374.2L435.5 374.7L435.2 375.4L434.9 376.2L434.6 377.1L434.3 378.1L434.0 379.1Z" fill="#a2a23c" stroke="#3a3a3a" stroke-width="0.45"/>
<path d="M434.0 380.7L434.3 381.8L434.6 382.7L434.9 383.6L435.2 384.4L435.5 385.1L435.7 385.6L435.7 385.6L435.5 386.1L435.2 386.8L434.9 387.6L434.6 388.5L434.3 389.5L434.0 390.5Z" fill="#2fa54e" stroke="#3a3a3a" stroke-width="0.45"/>
<path d="M434.0 392.1L434.3 393.2L434.6 394.2L434.9 395.1L435.2 395.9L435.5 396.6L435.7 397.0L435.7 397.0L435.5 397.5L435.2 398.2L434.9 399.0L434.6 399.9L434.3 400.9L434.0 401.9Z" fill="#3bb388" stroke="#3a3a3a" stroke-width="0.45"/>
<path d="M434.0 403.6L434.3 404.6L434.6 405.6L434.9 406.5L435.2 407.3L435.5 408.0L435.7 408.5L435.7 408.5L435.5 409.0L435.2 409.7L434.9 410.5L434.6 411.4L434.3 412.3L434.0 413.4Z" fill="#2cb2a2" stroke="#3a3a3a" stroke-width="0.45"/>
<path d="M434.0 415.0L434.3 416.0L434.6 417.0L434.9 417.9L435.2 418.7L435.5 419.4L435.7 419.9L435.7 419.9L435.5 420.4L435.2 421.1L434.9 421.9L434.6 422.8L434.3 423.8L434.0 424.8Z" fill="#23a5b8" stroke="#3a3a3a" stroke-width="0.45"/>
<path d="M434.0 426.4L434.3 427.5L434.6 428.4L434.9 429.3L435.2 430.2L435.5 430.9L435.7 431.3L435.7 431.3L435.5 431.8L435.2 432.5L434.9 433.3L434.6 434.2L434.3 435.2L434.0 436.2Z" fill="#3d8fd0" stroke="#3a3a3a" stroke-width="0.45"/>
<path d="M434.0 437.9L434.4 439.1L434.7 440.2L435.0 441.2L435.4 442.1L435.7 442.5L436.0 442.2L436.4 442.0L436.7 441.8L437.1 441.6L437.4 441.5L437.7 441.3L438.1 441.2L438.4 441.0L438.7 440.9L439.1 440.8L439.4 440.9L439.7 441.1L440.1 441.2L440.4 441.3L440.7 441.5L441.1 441.6L441.4 441.7L441.7 441.9L442.1 442.0L442.4 442.1L442.7 442.3L443.1 442.4L443.4 442.5L443.7 442.5L444.1 442.8L444.1 442.8L443.7 443.0L443.4 443.0L443.1 443.1L442.7 443.3L442.4 443.4L442.1 443.5L441.7 443.7L441.4 443.8L441.1 443.9L440.7 444.1L440.4 444.2L440.1 444.3L439.7 444.5L439.4 444.6L439.1 444.8L438.7 444.6L438.4 444.5L438.1 444.4L437.7 444.2L437.4 444.1L437.1 443.9L436.7 443.7L436.4 443.5L436.0 443.3L435.7 443.1L435.4 443.4L435.0 444.3L434.7 445.3L434.4 446.5L434.0 447.7Z" fill="#9a84c8" stroke="#3a3a3a" stroke-width="0.45"/>
<path d="M434.0 449.3L434.3 450.3L434.6 451.3L434.9 452.2L435.2 453.0L435.5 453.7L435.7 454.2L435.7 454.2L435.5 454.7L435.2 455.4L434.9 456.2L434.6 457.1L434.3 458.1L434.0 459.1Z" fill="#e7619e" stroke="#3a3a3a" stroke-width="0.45"/>
<text transform="translate(445.19,463.00) rotate(-90)" font-size="8.0" font-style="italic" text-anchor="end" fill="#111">TIGIT</text>
<line x1="455.97" y1="334.2" x2="455.97" y2="459.8" stroke="#8a8a8a" stroke-width="0.8"/>
<path d="M456.0 339.90H472.0M456.0 351.33H472.0M456.0 362.76H472.0M456.0 374.19H472.0M456.0 385.62H472.0M456.0 397.05H472.0M456.0 408.48H472.0M456.0 419.91H472.0M456.0 431.34H472.0M456.0 442.77H472.0M456.0 454.20H472.0" stroke="#858585" stroke-width="0.8" fill="none"/>
<path d="M456.0 335.0L456.5 336.8L457.0 338.4L457.5 339.6L458.0 339.6L458.5 339.6L459.1 339.6L459.6 339.6L460.1 339.6L460.6 339.2L461.1 338.6L461.6 338.1L462.1 337.6L462.7 337.2L463.2 336.9L463.7 336.5L464.2 336.1L464.7 335.8L465.2 335.5L465.7 335.5L466.3 335.9L466.8 336.4L467.3 336.8L467.8 337.2L468.3 337.6L468.8 338.0L469.3 338.4L469.9 338.8L470.4 339.2L470.9 339.5L471.4 339.9L471.4 339.9L470.9 340.3L470.4 340.6L469.9 341.0L469.3 341.4L468.8 341.8L468.3 342.2L467.8 342.6L467.3 343.0L466.8 343.4L466.3 343.9L465.7 344.3L465.2 344.3L464.7 344.0L464.2 343.7L463.7 343.3L463.2 342.9L462.7 342.6L462.1 342.2L461.6 341.7L461.1 341.2L460.6 340.6L460.1 340.1L459.6 340.1L459.1 340.1L458.5 340.1L458.0 340.1L457.5 340.1L457.0 341.4L456.5 343.0L456.0 344.8Z" fill="#e9727a" stroke="#3a3a3a" stroke-width="0.45"/>
<path d="M456.0 346.4L456.5 348.2L456.9 349.7L457.4 351.0L457.9 351.1L458.4 351.1L458.9 351.1L459.4 351.1L459.9 351.1L460.4 351.1L460.8 351.1L461.3 351.1L461.8 351.1L462.3 350.6L462.8 350.1L463.3 349.6L463.8 349.2L464.3 348.9L464.8 348.5L465.2 348.2L465.7 347.9L466.2 347.9L466.7 348.3L467.2 348.7L467.7 349.1L468.2 349.5L468.7 349.9L469.1 350.3L469.6 350.6L470.1 351.0L470.6 351.3L470.6 351.3L470.1 351.7L469.6 352.0L469.1 352.4L468.7 352.8L468.2 353.2L467.7 353.6L467.2 353.9L466.7 354.3L466.2 354.7L465.7 354.8L465.2 354.5L464.8 354.1L464.3 353.8L463.8 353.4L463.3 353.0L462.8 352.6L462.3 352.1L461.8 351.6L461.3 351.6L460.8 351.6L460.4 351.6L459.9 351.6L459.4 351.6L458.9 351.6L458.4 351.6L457.9 351.6L457.4 351.7L456.9 352.9L456.5 354.5L456.0 356.2Z" fill="#de8a44" stroke="#3a3a3a" stroke-width="0.45"/>
<path d="M456.0 357.9L456.5 359.7L457.0 361.3L457.5 362.5L458.0 362.5L458.5 362.5L459.1 362.5L459.6 362.5L460.1 362.5L460.6 362.5L461.1 362.5L461.6 362.0L462.1 361.4L462.6 360.9L463.2 360.5L463.7 360.1L464.2 359.7L464.7 359.4L465.2 359.0L465.7 358.7L466.2 358.8L466.8 359.2L467.3 359.6L467.8 360.0L468.3 360.4L468.8 360.8L469.3 361.2L469.8 361.6L470.4 362.0L470.9 362.4L471.4 362.8L471.4 362.8L470.9 363.1L470.4 363.5L469.8 363.9L469.3 364.3L468.8 364.7L468.3 365.1L467.8 365.5L467.3 365.9L466.8 366.3L466.2 366.7L465.7 366.8L465.2 366.5L464.7 366.1L464.2 365.8L463.7 365.4L463.2 365.0L462.6 364.6L462.1 364.1L461.6 363.6L461.1 363.0L460.6 363.0L460.1 363.0L459.6 363.0L459.1 363.0L458.5 363.0L458.0 363.0L457.5 363.0L457.0 364.2L456.5 365.8L456.0 367.7Z" fill="#c9a030" stroke="#3a3a3a" stroke-width="0.45"/>
<path d="M456.0 369.3L456.5 371.1L457.0 372.7L457.5 373.9L458.0 373.9L458.5 373.9L459.1 373.9L459.6 373.5L460.1 372.9L460.6 372.4L461.1 371.9L461.6 371.5L462.1 371.1L462.7 370.7L463.2 370.4L463.7 370.0L464.2 369.7L464.7 369.3L465.2 369.4L465.7 369.8L466.3 370.2L466.8 370.7L467.3 371.1L467.8 371.5L468.3 371.9L468.8 372.3L469.4 372.7L469.9 373.1L470.4 373.5L470.9 373.8L471.4 374.2L471.4 374.2L470.9 374.5L470.4 374.9L469.9 375.3L469.4 375.7L468.8 376.1L468.3 376.5L467.8 376.9L467.3 377.3L466.8 377.7L466.3 378.1L465.7 378.6L465.2 379.0L464.7 379.0L464.2 378.7L463.7 378.4L463.2 378.0L462.7 377.6L462.1 377.3L461.6 376.9L461.1 376.4L460.6 376.0L460.1 375.5L459.6 374.9L459.1 374.4L458.5 374.4L458.0 374.4L457.5 374.4L457.0 375.7L456.5 377.3L456.0 379.1Z" fill="#a2a23c" stroke="#3a3a3a" stroke-width="0.45"/>
<path d="M456.0 380.7L456.6 382.9L457.2 384.7L457.8 385.4L458.4 385.4L459.0 385.4L459.7 385.4L460.3 385.4L460.9 385.4L461.5 385.4L462.1 385.4L462.7 385.4L463.3 385.2L464.0 384.5L464.6 383.9L465.2 383.3L465.8 382.8L466.4 382.4L467.0 382.0L467.6 381.6L468.3 381.2L468.9 381.3L469.5 381.8L470.1 382.3L470.7 382.8L471.3 383.3L471.9 383.8L472.6 384.3L473.2 384.7L473.8 385.2L474.4 385.6L474.4 385.6L473.8 386.0L473.2 386.5L472.6 387.0L471.9 387.4L471.3 387.9L470.7 388.4L470.1 388.9L469.5 389.4L468.9 389.9L468.3 390.1L467.6 389.7L467.0 389.3L466.4 388.8L465.8 388.4L465.2 387.9L464.6 387.4L464.0 386.8L463.3 386.0L462.7 385.9L462.1 385.9L461.5 385.9L460.9 385.9L460.3 385.9L459.7 385.9L459.0 385.9L458.4 385.9L457.8 385.9L457.2 386.5L456.6 388.4L456.0 390.5Z" fill="#2fa54e" stroke="#3a3a3a" stroke-width="0.45"/>
<path d="M456.0 392.1L456.4 393.8L456.9 395.2L457.3 396.4L457.8 396.8L458.2 396.8L458.7 396.8L459.1 396.8L459.6 396.8L460.0 396.8L460.5 396.8L460.9 396.8L461.4 396.6L461.8 396.3L462.3 396.0L462.7 395.8L463.2 395.6L463.6 395.4L464.1 395.2L464.5 395.1L465.0 395.3L465.4 395.5L465.9 395.6L466.4 395.8L466.8 396.0L467.3 396.2L467.7 396.4L468.2 396.5L468.6 396.7L469.1 396.8L469.5 397.0L469.5 397.0L469.1 397.3L468.6 397.4L468.2 397.6L467.7 397.7L467.3 397.9L466.8 398.1L466.4 398.3L465.9 398.5L465.4 398.6L465.0 398.8L464.5 399.0L464.1 398.9L463.6 398.7L463.2 398.5L462.7 398.3L462.3 398.1L461.8 397.8L461.4 397.5L460.9 397.3L460.5 397.3L460.0 397.3L459.6 397.3L459.1 397.3L458.7 397.3L458.2 397.3L457.8 397.3L457.3 397.7L456.9 398.9L456.4 400.3L456.0 401.9Z" fill="#3bb388" stroke="#3a3a3a" stroke-width="0.45"/>
<path d="M456.0 403.6L456.4 405.2L456.9 406.6L457.3 407.9L457.8 408.2L458.2 408.2L458.7 408.2L459.1 408.2L459.6 408.2L460.0 408.2L460.5 408.2L460.9 408.2L461.4 408.0L461.8 407.7L462.3 407.5L462.7 407.2L463.2 407.0L463.6 406.8L464.1 406.6L464.5 406.5L465.0 406.7L465.4 406.9L465.9 407.1L466.4 407.3L466.8 407.4L467.3 407.6L467.7 407.8L468.2 408.0L468.6 408.2L469.1 408.2L469.5 408.5L469.5 408.5L469.1 408.7L468.6 408.8L468.2 409.0L467.7 409.2L467.3 409.3L466.8 409.5L466.4 409.7L465.9 409.9L465.4 410.1L465.0 410.3L464.5 410.4L464.1 410.3L463.6 410.1L463.2 409.9L462.7 409.7L462.3 409.5L461.8 409.3L461.4 409.0L460.9 408.7L460.5 408.7L460.0 408.7L459.6 408.7L459.1 408.7L458.7 408.7L458.2 408.7L457.8 408.7L457.3 409.1L456.9 410.3L456.4 411.8L456.0 413.4Z" fill="#2cb2a2" stroke="#3a3a3a" stroke-width="0.45"/>
<path d="M456.0 415.0L456.5 416.8L457.0 418.4L457.5 419.6L458.0 419.7L458.5 419.7L459.0 419.7L459.5 419.7L460.0 419.7L460.5 419.7L461.0 419.7L461.5 419.7L462.0 419.7L462.5 419.7L463.0 419.5L463.5 419.2L464.0 419.0L464.5 418.8L465.0 418.6L465.5 418.5L466.0 418.3L466.5 418.5L467.0 418.7L467.5 418.8L468.0 419.0L468.5 419.1L469.0 419.3L469.5 419.5L470.0 419.6L470.5 419.7L471.0 419.9L471.0 419.9L470.5 420.2L470.0 420.2L469.5 420.4L469.0 420.5L468.5 420.7L468.0 420.8L467.5 421.0L467.0 421.2L466.5 421.3L466.0 421.5L465.5 421.4L465.0 421.2L464.5 421.0L464.0 420.8L463.5 420.6L463.0 420.4L462.5 420.2L462.0 420.2L461.5 420.2L461.0 420.2L460.5 420.2L460.0 420.2L459.5 420.2L459.0 420.2L458.5 420.2L458.0 420.2L457.5 420.2L457.0 421.4L456.5 423.0L456.0 424.8Z" fill="#23a5b8" stroke="#3a3a3a" stroke-width="0.45"/>
<path d="M456.0 426.4L456.4 427.9L456.8 429.3L457.2 430.5L457.6 431.1L458.1 431.1L458.5 431.1L458.9 431.1L459.3 431.1L459.7 431.1L460.2 431.1L460.6 430.8L461.0 430.7L461.4 430.5L461.8 430.3L462.2 430.2L462.7 430.0L463.1 429.9L463.5 429.7L463.9 429.9L464.3 430.0L464.7 430.2L465.2 430.3L465.6 430.4L466.0 430.6L466.4 430.7L466.8 430.8L467.3 431.0L467.7 431.1L468.1 431.1L468.5 431.3L468.5 431.3L468.1 431.6L467.7 431.6L467.3 431.7L466.8 431.8L466.4 432.0L466.0 432.1L465.6 432.2L465.2 432.4L464.7 432.5L464.3 432.7L463.9 432.8L463.5 432.9L463.1 432.8L462.7 432.7L462.2 432.5L461.8 432.4L461.4 432.2L461.0 432.0L460.6 431.8L460.2 431.6L459.7 431.6L459.3 431.6L458.9 431.6L458.5 431.6L458.1 431.6L457.6 431.6L457.2 432.2L456.8 433.4L456.4 434.7L456.0 436.2Z" fill="#3d8fd0" stroke="#3a3a3a" stroke-width="0.45"/>
<path d="M456.0 437.9L456.4 439.4L456.8 440.8L457.3 442.0L457.7 442.5L458.1 442.5L458.5 442.5L459.0 442.5L459.4 442.5L459.8 442.5L460.2 442.5L460.7 442.4L461.1 441.9L461.5 441.5L462.0 441.2L462.4 440.8L462.8 440.5L463.2 440.2L463.7 440.0L464.1 439.9L464.5 440.1L465.0 440.4L465.4 440.7L465.8 441.0L466.2 441.2L466.7 441.5L467.1 441.8L467.5 442.0L467.9 442.3L468.4 442.5L468.8 442.8L468.8 442.8L468.4 443.0L467.9 443.3L467.5 443.5L467.1 443.8L466.7 444.0L466.2 444.3L465.8 444.6L465.4 444.9L465.0 445.1L464.5 445.4L464.1 445.7L463.7 445.6L463.2 445.3L462.8 445.0L462.4 444.7L462.0 444.4L461.5 444.0L461.1 443.6L460.7 443.1L460.2 443.0L459.8 443.0L459.4 443.0L459.0 443.0L458.5 443.0L458.1 443.0L457.7 443.0L457.3 443.6L456.8 444.7L456.4 446.1L456.0 447.7Z" fill="#9a84c8" stroke="#3a3a3a" stroke-width="0.45"/>
<path d="M456.0 449.3L456.4 451.0L456.9 452.4L457.4 453.7L457.8 453.9L458.3 453.2L458.8 452.7L459.2 452.3L459.7 451.9L460.2 451.5L460.6 451.1L461.1 450.8L461.5 450.5L462.0 450.2L462.5 449.8L462.9 449.5L463.4 449.2L463.9 449.5L464.3 449.9L464.8 450.3L465.3 450.7L465.7 451.0L466.2 451.4L466.7 451.8L467.1 452.1L467.6 452.5L468.1 452.8L468.5 453.2L469.0 453.5L469.4 453.9L469.9 454.2L469.9 454.2L469.4 454.5L469.0 454.9L468.5 455.2L468.1 455.6L467.6 455.9L467.1 456.3L466.7 456.6L466.2 457.0L465.7 457.4L465.3 457.7L464.8 458.1L464.3 458.5L463.9 458.9L463.4 459.2L462.9 458.9L462.5 458.6L462.0 458.2L461.5 457.9L461.1 457.6L460.6 457.3L460.2 456.9L459.7 456.5L459.2 456.1L458.8 455.7L458.3 455.2L457.8 454.5L457.4 454.7L456.9 456.0L456.4 457.4L456.0 459.1Z" fill="#e7619e" stroke="#3a3a3a" stroke-width="0.45"/>
<text transform="translate(467.12,463.00) rotate(-90)" font-size="8.0" font-style="italic" text-anchor="end" fill="#111">IL7R</text>
<line x1="477.90" y1="334.2" x2="477.90" y2="459.8" stroke="#8a8a8a" stroke-width="0.8"/>
<path d="M477.9 339.90H493.9M477.9 351.33H493.9M477.9 362.76H493.9M477.9 374.19H493.9M477.9 385.62H493.9M477.9 397.05H493.9M477.9 408.48H493.9M477.9 419.91H493.9M477.9 431.34H493.9M477.9 442.77H493.9M477.9 454.20H493.9" stroke="#858585" stroke-width="0.8" fill="none"/>
<path d="M477.9 335.0L478.2 336.0L478.5 337.0L478.8 337.9L479.0 338.7L479.3 339.4L479.6 339.9L479.6 339.9L479.3 340.4L479.0 341.1L478.8 341.9L478.5 342.8L478.2 343.8L477.9 344.8Z" fill="#e9727a" stroke="#3a3a3a" stroke-width="0.45"/>
<path d="M477.9 346.4L478.2 347.5L478.5 348.4L478.8 349.3L479.0 350.2L479.3 350.9L479.6 351.3L479.6 351.3L479.3 351.8L479.0 352.5L478.8 353.3L478.5 354.2L478.2 355.2L477.9 356.2Z" fill="#de8a44" stroke="#3a3a3a" stroke-width="0.45"/>
<path d="M477.9 357.9L478.2 358.9L478.5 359.9L478.8 360.8L479.0 361.6L479.3 362.3L479.6 362.8L479.6 362.8L479.3 363.2L479.0 363.9L478.8 364.8L478.5 365.7L478.2 366.6L477.9 367.7Z" fill="#c9a030" stroke="#3a3a3a" stroke-width="0.45"/>
<path d="M477.9 369.3L478.2 370.3L478.5 371.3L478.8 372.2L479.0 373.0L479.3 373.7L479.6 374.2L479.6 374.2L479.3 374.7L479.0 375.4L478.8 376.2L478.5 377.1L478.2 378.1L477.9 379.1Z" fill="#a2a23c" stroke="#3a3a3a" stroke-width="0.45"/>
<path d="M477.9 380.7L478.2 381.8L478.5 382.7L478.8 383.6L479.0 384.4L479.3 385.1L479.6 385.6L479.6 385.6L479.3 386.1L479.0 386.8L478.8 387.6L478.5 388.5L478.2 389.5L477.9 390.5Z" fill="#2fa54e" stroke="#3a3a3a" stroke-width="0.45"/>
<path d="M477.9 392.1L478.2 393.2L478.5 394.2L478.8 395.1L479.0 395.9L479.3 396.6L479.6 397.0L479.6 397.0L479.3 397.5L479.0 398.2L478.8 399.0L478.5 399.9L478.2 400.9L477.9 401.9Z" fill="#3bb388" stroke="#3a3a3a" stroke-width="0.45"/>
<path d="M477.9 403.6L478.2 404.6L478.5 405.6L478.8 406.5L479.0 407.3L479.3 408.0L479.6 408.5L479.6 408.5L479.3 409.0L479.0 409.7L478.8 410.5L478.5 411.4L478.2 412.3L477.9 413.4Z" fill="#2cb2a2" stroke="#3a3a3a" stroke-width="0.45"/>
<path d="M477.9 415.0L478.2 416.0L478.5 417.0L478.8 417.9L479.0 418.7L479.3 419.4L479.6 419.9L479.6 419.9L479.3 420.4L479.0 421.1L478.8 421.9L478.5 422.8L478.2 423.8L477.9 424.8Z" fill="#23a5b8" stroke="#3a3a3a" stroke-width="0.45"/>
<path d="M477.9 426.4L478.2 427.5L478.5 428.4L478.8 429.3L479.0 430.2L479.3 430.9L479.6 431.3L479.6 431.3L479.3 431.8L479.0 432.5L478.8 433.3L478.5 434.2L478.2 435.2L477.9 436.2Z" fill="#3d8fd0" stroke="#3a3a3a" stroke-width="0.45"/>
<path d="M477.9 437.9L478.2 438.9L478.5 439.9L478.8 440.8L479.0 441.6L479.3 442.3L479.6 442.8L479.6 442.8L479.3 443.2L479.0 443.9L478.8 444.8L478.5 445.7L478.2 446.6L477.9 447.7Z" fill="#9a84c8" stroke="#3a3a3a" stroke-width="0.45"/>
<path d="M477.9 449.3L478.2 450.3L478.5 451.3L478.8 452.2L479.0 453.0L479.3 453.7L479.6 454.2L479.6 454.2L479.3 454.7L479.0 455.4L478.8 456.2L478.5 457.1L478.2 458.1L477.9 459.1Z" fill="#e7619e" stroke="#3a3a3a" stroke-width="0.45"/>
<text transform="translate(489.05,463.00) rotate(-90)" font-size="8.0" font-style="italic" text-anchor="end" fill="#111">IL2RA</text>
<line x1="499.83" y1="334.2" x2="499.83" y2="459.8" stroke="#8a8a8a" stroke-width="0.8"/>
<path d="M499.8 339.90H515.8M499.8 351.33H515.8M499.8 362.76H515.8M499.8 374.19H515.8M499.8 385.62H515.8M499.8 397.05H515.8M499.8 408.48H515.8M499.8 419.91H515.8M499.8 431.34H515.8M499.8 442.77H515.8M499.8 454.20H515.8" stroke="#858585" stroke-width="0.8" fill="none"/>
<path d="M499.8 335.0L500.1 336.0L500.4 337.0L500.7 337.9L501.0 338.7L501.2 339.4L501.5 339.9L501.5 339.9L501.2 340.4L501.0 341.1L500.7 341.9L500.4 342.8L500.1 343.8L499.8 344.8Z" fill="#e9727a" stroke="#3a3a3a" stroke-width="0.45"/>
<path d="M499.8 346.4L500.1 347.5L500.4 348.4L500.7 349.3L501.0 350.2L501.2 350.9L501.5 351.3L501.5 351.3L501.2 351.8L501.0 352.5L500.7 353.3L500.4 354.2L500.1 355.2L499.8 356.2Z" fill="#de8a44" stroke="#3a3a3a" stroke-width="0.45"/>
<path d="M499.8 357.9L500.1 358.9L500.4 359.9L500.7 360.8L501.0 361.6L501.2 362.3L501.5 362.8L501.5 362.8L501.2 363.2L501.0 363.9L500.7 364.8L500.4 365.7L500.1 366.6L499.8 367.7Z" fill="#c9a030" stroke="#3a3a3a" stroke-width="0.45"/>
<path d="M499.8 369.3L500.1 370.3L500.4 371.3L500.7 372.2L501.0 373.0L501.2 373.7L501.5 374.2L501.5 374.2L501.2 374.7L501.0 375.4L500.7 376.2L500.4 377.1L500.1 378.1L499.8 379.1Z" fill="#a2a23c" stroke="#3a3a3a" stroke-width="0.45"/>
<path d="M499.8 380.7L500.1 381.8L500.4 382.7L500.7 383.6L501.0 384.4L501.2 385.1L501.5 385.6L501.5 385.6L501.2 386.1L501.0 386.8L500.7 387.6L500.4 388.5L500.1 389.5L499.8 390.5Z" fill="#2fa54e" stroke="#3a3a3a" stroke-width="0.45"/>
<path d="M499.8 392.1L500.1 393.2L500.4 394.2L500.7 395.1L501.0 395.9L501.2 396.6L501.5 397.0L501.5 397.0L501.2 397.5L501.0 398.2L500.7 399.0L500.4 399.9L500.1 400.9L499.8 401.9Z" fill="#3bb388" stroke="#3a3a3a" stroke-width="0.45"/>
<path d="M499.8 403.6L500.1 404.6L500.4 405.6L500.7 406.5L501.0 407.3L501.2 408.0L501.5 408.5L501.5 408.5L501.2 409.0L501.0 409.7L500.7 410.5L500.4 411.4L500.1 412.3L499.8 413.4Z" fill="#2cb2a2" stroke="#3a3a3a" stroke-width="0.45"/>
<path d="M499.8 415.0L500.1 416.0L500.4 417.0L500.7 417.9L501.0 418.7L501.2 419.4L501.5 419.9L501.5 419.9L501.2 420.4L501.0 421.1L500.7 421.9L500.4 422.8L500.1 423.8L499.8 424.8Z" fill="#23a5b8" stroke="#3a3a3a" stroke-width="0.45"/>
<path d="M499.8 426.4L500.1 427.5L500.4 428.4L500.7 429.3L501.0 430.2L501.2 430.9L501.5 431.3L501.5 431.3L501.2 431.8L501.0 432.5L500.7 433.3L500.4 434.2L500.1 435.2L499.8 436.2Z" fill="#3d8fd0" stroke="#3a3a3a" stroke-width="0.45"/>
<path d="M499.8 437.9L500.1 438.9L500.4 439.9L500.7 440.8L501.0 441.6L501.2 442.3L501.5 442.8L501.5 442.8L501.2 443.2L501.0 443.9L500.7 444.8L500.4 445.7L500.1 446.6L499.8 447.7Z" fill="#9a84c8" stroke="#3a3a3a" stroke-width="0.45"/>
<path d="M499.8 449.3L500.1 450.3L500.4 451.3L500.7 452.2L501.0 453.0L501.2 453.7L501.5 454.2L501.5 454.2L501.2 454.7L501.0 455.4L500.7 456.2L500.4 457.1L500.1 458.1L499.8 459.1Z" fill="#e7619e" stroke="#3a3a3a" stroke-width="0.45"/>
<text transform="translate(510.98,463.00) rotate(-90)" font-size="8.0" font-style="italic" text-anchor="end" fill="#111">FOXP3</text>
<text transform="translate(236.60,540.00)" font-size="11.2" font-weight="bold" text-anchor="start" fill="#000" textLength="7.6" lengthAdjust="spacingAndGlyphs" style="stroke:none">D</text>
<text transform="translate(344.80,545.60)" font-size="9" text-anchor="middle" fill="#111" style="stroke:none">Malignant</text>
<text transform="translate(471.80,546.00)" font-size="9" text-anchor="middle" fill="#111" style="stroke:none">Nonmalignant</text>
<rect x="275.60" y="550.00" width="18.2" height="40.87" fill="#f04b21"/>
<rect x="275.60" y="590.87" width="18.2" height="42.53" fill="#f8ab33"/>
<line x1="284.70" y1="633.40" x2="284.70" y2="636.00" stroke="#333" stroke-width="0.8"/>
<text transform="translate(284.70,645.60)" font-size="8" text-anchor="middle" fill="#111">C1</text>
<rect x="295.75" y="550.00" width="18.2" height="38.78" fill="#f04b21"/>
<rect x="295.75" y="588.78" width="18.2" height="44.62" fill="#f8ab33"/>
<line x1="304.85" y1="633.40" x2="304.85" y2="636.00" stroke="#333" stroke-width="0.8"/>
<text transform="translate(304.85,645.60)" font-size="8" text-anchor="middle" fill="#111">C2</text>
<rect x="315.90" y="550.00" width="18.2" height="40.03" fill="#f04b21"/>
<rect x="315.90" y="590.03" width="18.2" height="43.37" fill="#f8ab33"/>
<line x1="325.00" y1="633.40" x2="325.00" y2="636.00" stroke="#333" stroke-width="0.8"/>
<text transform="translate(325.00,645.60)" font-size="8" text-anchor="middle" fill="#111">C3</text>
<rect x="336.05" y="550.00" width="18.2" height="58.38" fill="#f04b21"/>
<rect x="336.05" y="608.38" width="18.2" height="14.18" fill="#f8ab33"/>
<rect x="336.05" y="622.56" width="18.2" height="10.84" fill="#7db5e6"/>
<line x1="345.15" y1="633.40" x2="345.15" y2="636.00" stroke="#333" stroke-width="0.8"/>
<text transform="translate(345.15,645.60)" font-size="8" text-anchor="middle" fill="#111">C6</text>
<rect x="356.20" y="550.00" width="18.2" height="63.38" fill="#f04b21"/>
<rect x="356.20" y="613.38" width="18.2" height="10.84" fill="#f8ab33"/>
<rect x="356.20" y="624.23" width="18.2" height="9.17" fill="#7db5e6"/>
<line x1="365.30" y1="633.40" x2="365.30" y2="636.00" stroke="#333" stroke-width="0.8"/>
<text transform="translate(365.30,645.60)" font-size="8" text-anchor="middle" fill="#111">C10</text>
<rect x="376.35" y="550.00" width="18.2" height="4.17" fill="#f04b21"/>
<rect x="376.35" y="554.17" width="18.2" height="33.36" fill="#f8ab33"/>
<rect x="376.35" y="587.53" width="18.2" height="45.87" fill="#7db5e6"/>
<line x1="385.45" y1="633.40" x2="385.45" y2="636.00" stroke="#333" stroke-width="0.8"/>
<text transform="translate(385.45,645.60)" font-size="8" text-anchor="middle" fill="#111">C12</text>
<rect x="396.50" y="550.00" width="18.2" height="45.04" fill="#f04b21"/>
<rect x="396.50" y="595.04" width="18.2" height="23.35" fill="#f8ab33"/>
<rect x="396.50" y="618.39" width="18.2" height="15.01" fill="#7db5e6"/>
<line x1="405.60" y1="633.40" x2="405.60" y2="636.00" stroke="#333" stroke-width="0.8"/>
<text transform="translate(405.60,645.60)" font-size="8" text-anchor="middle" fill="#111">C15</text>
<rect x="433.00" y="550.00" width="18.2" height="45.04" fill="#f04b21"/>
<rect x="433.00" y="595.04" width="18.2" height="23.35" fill="#f8ab33"/>
<rect x="433.00" y="618.39" width="18.2" height="15.01" fill="#7db5e6"/>
<line x1="442.10" y1="633.40" x2="442.10" y2="636.00" stroke="#333" stroke-width="0.8"/>
<text transform="translate(442.10,645.60)" font-size="8" text-anchor="middle" fill="#111">C4</text>
<rect x="453.15" y="550.00" width="18.2" height="50.87" fill="#f04b21"/>
<rect x="453.15" y="600.87" width="18.2" height="19.18" fill="#f8ab33"/>
<rect x="453.15" y="620.06" width="18.2" height="13.34" fill="#7db5e6"/>
<line x1="462.25" y1="633.40" x2="462.25" y2="636.00" stroke="#333" stroke-width="0.8"/>
<text transform="translate(462.25,645.60)" font-size="8" text-anchor="middle" fill="#111">C7</text>
<rect x="473.30" y="550.00" width="18.2" height="53.38" fill="#f04b21"/>
<rect x="473.30" y="603.38" width="18.2" height="15.01" fill="#f8ab33"/>
<rect x="473.30" y="618.39" width="18.2" height="15.01" fill="#7db5e6"/>
<line x1="482.40" y1="633.40" x2="482.40" y2="636.00" stroke="#333" stroke-width="0.8"/>
<text transform="translate(482.40,645.60)" font-size="8" text-anchor="middle" fill="#111">C8</text>
<rect x="493.45" y="550.00" width="18.2" height="63.38" fill="#f04b21"/>
<rect x="493.45" y="613.38" width="18.2" height="10.84" fill="#f8ab33"/>
<rect x="493.45" y="624.23" width="18.2" height="9.17" fill="#7db5e6"/>
<line x1="502.55" y1="633.40" x2="502.55" y2="636.00" stroke="#333" stroke-width="0.8"/>
<text transform="translate(502.55,645.60)" font-size="8" text-anchor="middle" fill="#111">C9</text>
<line x1="273.4" y1="546.6" x2="273.4" y2="634.00" stroke="#2a2a2a" stroke-width="1.3"/>
<line x1="272.8" y1="633.40" x2="415.2" y2="633.40" stroke="#2a2a2a" stroke-width="1.2"/>
<line x1="431.0" y1="633.40" x2="513.5" y2="633.40" stroke="#2a2a2a" stroke-width="1.2"/>
<line x1="270.4" y1="633.40" x2="273.4" y2="633.40" stroke="#2a2a2a" stroke-width="1.0"/>
<text transform="translate(267.20,636.00)" font-size="7.4" text-anchor="end" fill="#111">0</text>
<line x1="270.4" y1="612.55" x2="273.4" y2="612.55" stroke="#2a2a2a" stroke-width="1.0"/>
<text transform="translate(267.20,615.15)" font-size="7.4" text-anchor="end" fill="#111">25</text>
<line x1="270.4" y1="591.70" x2="273.4" y2="591.70" stroke="#2a2a2a" stroke-width="1.0"/>
<text transform="translate(267.20,594.30)" font-size="7.4" text-anchor="end" fill="#111">50</text>
<line x1="270.4" y1="570.85" x2="273.4" y2="570.85" stroke="#2a2a2a" stroke-width="1.0"/>
<text transform="translate(267.20,573.45)" font-size="7.4" text-anchor="end" fill="#111">75</text>
<line x1="270.4" y1="550.00" x2="273.4" y2="550.00" stroke="#2a2a2a" stroke-width="1.0"/>
<text transform="translate(267.20,552.60)" font-size="7.4" text-anchor="end" fill="#111">100</text>
<text transform="translate(251.30,592.80) rotate(-90)" font-size="7.4" text-anchor="middle" fill="#111">Percent</text>
<text transform="translate(340.40,660.30)" font-size="7.6" text-anchor="start" fill="#111">Phases:</text>
<rect x="369.7" y="654.2" width="7.6" height="7.4" fill="#f04b21"/>
<text transform="translate(380.3,660.3)" font-size="7.6" fill="#111">G<tspan font-size="4.6" dy="1.6">1</tspan></text>
<rect x="395.8" y="654.2" width="7.6" height="7.4" fill="#f8ab33"/>
<text transform="translate(406.20,660.30)" font-size="7.6" text-anchor="start" fill="#111">S</text>
<rect x="418.9" y="654.2" width="7.6" height="7.4" fill="#7db5e6"/>
<text transform="translate(429.7,660.3)" font-size="7.6" fill="#111">G<tspan font-size="4.6" dy="1.6">2</tspan><tspan dy="-1.6">/M</tspan></text>
</svg></body></html>
